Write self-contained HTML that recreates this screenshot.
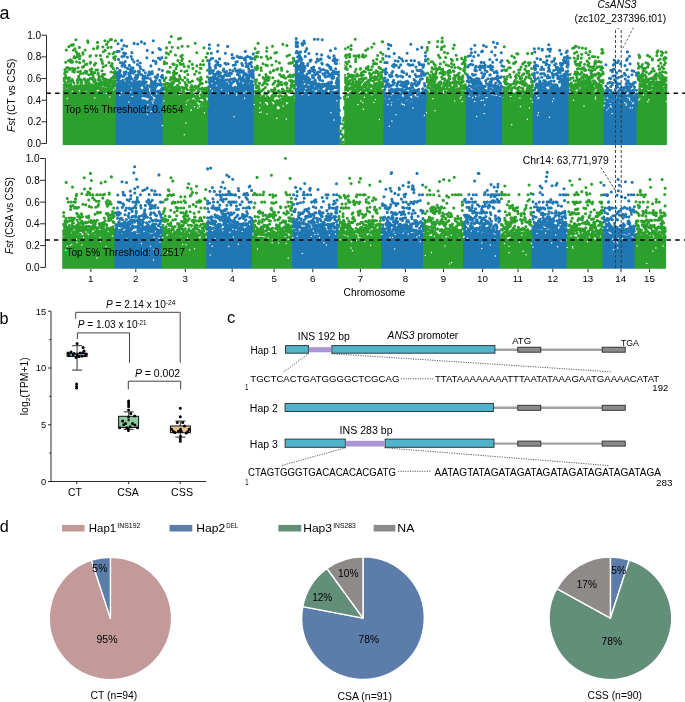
<!DOCTYPE html>
<html><head><meta charset="utf-8"><style>
html,body{margin:0;padding:0;background:#fff;}
body{width:685px;height:702px;overflow:hidden;}
svg{display:block;will-change:transform;font-family:"Liberation Sans", sans-serif;}
text{fill:#000;}
</style></head><body>
<svg width="685" height="702" viewBox="0 0 685 702">
<text x="-0.6" y="18.6" font-size="18" text-anchor="start" >a</text>
<polygon fill="#2ca02c" points="62.7,144.9 62.7,93.6 63.3,93.6 63.8,93.5 64.3,93.6 64.8,93.7 65.3,93.8 65.8,93.9 66.3,94 66.8,94 67.3,94 67.8,93.8 68.3,93.5 68.8,93 69.3,92.4 69.8,91.8 70.3,91.3 70.8,91 71.3,90.8 71.8,90.9 72.3,91.2 72.8,91.6 73.3,92.1 73.8,92.6 74.3,93.1 74.8,93.4 75.3,93.4 75.8,93.3 76.3,92.9 76.8,92.5 77.3,91.9 77.8,91.4 78.3,91 78.8,90.6 79.3,90.4 79.8,90.4 80.3,90.5 80.8,90.6 81.3,90.7 81.8,90.8 82.3,90.9 82.8,90.9 83.3,90.9 83.8,90.9 84.3,91 84.8,91.2 85.3,91.5 85.8,91.7 86.3,91.9 86.8,92 87.3,92 87.8,91.9 88.3,91.5 88.8,91.1 89.3,90.6 89.8,90.1 90.3,89.6 90.8,89.3 91.3,89.1 91.8,89.2 92.3,89.4 92.8,89.7 93.3,90.2 93.8,90.6 94.3,90.9 94.8,91.1 95.3,91.2 95.8,91 96.3,90.7 96.8,90.3 97.3,89.9 97.8,89.4 98.3,89 98.8,88.7 99.3,88.5 99.8,88.6 100.3,88.7 100.8,89 101.3,89.3 101.8,89.6 102.3,89.8 102.8,90 103.3,90 103.8,90 104.3,89.9 104.8,89.8 105.3,89.7 105.8,89.6 106.3,89.6 106.8,89.5 107.3,89.4 107.8,89.3 108.3,89 108.8,88.7 109.3,88.3 109.8,87.9 110.3,87.5 110.8,87.3 111.3,87.1 111.8,87 112.3,86.7 112.8,86.2 113.3,85.8 113.8,85.3 114.3,84.9 114.8,84.6 115.3,84.5 115.8,84.6 116.3,84.9 116.3,144.9"/>
<polygon fill="#1f77b4" points="115.7,144.9 115.7,87.9 116.3,87.9 116.8,87.8 117.3,87.6 117.8,87.2 118.3,86.7 118.8,86.2 119.3,85.8 119.8,85.5 120.3,85.5 120.8,85.6 121.3,85.8 121.8,86.1 122.3,86.4 122.8,86.8 123.3,87.1 123.8,87.3 124.3,87.4 124.8,87.5 125.3,87.6 125.8,87.8 126.3,88 126.8,88.1 127.3,88.3 127.8,88.4 128.3,88.5 128.8,88.5 129.3,88.6 129.8,88.6 130.3,88.6 130.8,88.7 131.3,88.7 131.8,88.7 132.3,88.8 132.8,88.7 133.3,88.3 133.8,87.8 134.3,87.2 134.8,86.6 135.3,86.1 135.8,85.8 136.3,85.7 136.8,85.9 137.3,86.3 137.8,87.7 138.3,89.5 138.8,91.3 139.3,93 139.8,94.5 140.3,95.9 140.8,96.9 141.3,97.9 141.8,98.9 142.3,99.5 142.8,99.3 143.3,99.2 143.8,99.1 144.3,99.2 144.8,99.3 145.3,99.6 145.8,99.8 146.3,100.2 146.8,100.5 147.3,100.7 147.8,101 148.3,101.1 148.8,101.2 149.3,101.3 149.8,101.3 150.3,101.4 150.8,101.4 151.3,101.5 151.8,101.5 152.3,101.6 152.8,101.6 153.3,101.5 153.8,101.2 154.3,100.8 154.8,100.5 155.3,100.2 155.8,100 156.3,100 156.8,100.1 157.3,100.1 157.8,100.1 158.3,100.1 158.8,100 159.3,100 159.8,100.1 160.3,100.1 160.8,100.4 161.3,100.9 161.8,101.5 162.3,102.2 162.8,103 163.3,103.6 163.3,144.9"/>
<polygon fill="#2ca02c" points="162.7,144.9 162.7,95.3 163.3,95.3 163.8,95.3 164.3,95.1 164.8,94.9 165.3,94.6 165.8,94.3 166.3,94.1 166.8,93.9 167.3,93.9 167.8,94 168.3,94 168.8,93.9 169.3,93.9 169.8,93.8 170.3,93.8 170.8,93.8 171.3,93.8 171.8,93.9 172.3,94 172.8,94.1 173.3,94.2 173.8,94.3 174.3,94.4 174.8,94.5 175.3,94.6 175.8,94.7 176.3,94.9 176.8,95.2 177.3,95.4 177.8,95.7 178.3,95.9 178.8,96.1 179.3,96.3 179.8,96.4 180.3,96.7 180.8,97 181.3,97.4 181.8,98.2 182.3,98.9 182.8,99.6 183.3,100.1 183.8,100.5 184.3,100.8 184.8,101 185.3,101.2 185.9,101.3 186.4,101.5 186.9,101.8 187.4,102.2 187.9,102.6 188.4,103 188.9,103.4 189.4,103.8 189.9,104.1 190.4,104.5 190.9,104.5 191.4,104.5 191.9,104.6 192.4,104.9 192.9,105.1 193.4,105.5 193.9,105.8 194.4,106.1 194.9,106.3 195.4,106.4 195.9,106.3 196.4,106.1 196.9,105.6 197.4,105.1 197.9,104.6 198.4,104.2 198.9,103.9 199.4,103.8 199.9,104 200.4,104.3 200.9,104.8 201.4,105.4 201.9,106 202.4,106.5 202.9,106.9 203.4,107 203.9,107.1 204.4,107 204.9,106.9 205.4,106.8 205.9,106.7 206.4,106.6 206.9,106.5 207.4,106.5 207.9,106.7 208.4,106.9 208.4,144.9"/>
<polygon fill="#1f77b4" points="207.8,144.9 207.8,85.3 208.4,85.3 208.9,85.5 209.4,85.6 209.9,85.8 210.4,85.9 210.9,86.1 211.4,86.3 211.9,86.4 212.4,86.6 212.9,86.6 213.4,86.6 213.9,86.5 214.4,86.3 214.9,86.1 215.4,86 215.9,86 216.5,86 217,86.2 217.5,86.6 218,86.9 218.5,87.4 219,87.8 219.5,88.2 220,88.5 220.5,88.7 221,88.9 221.5,89.3 222,89.8 222.5,90.4 223,90.9 223.5,91.4 224,91.8 224.5,92 225,92.2 225.5,92.3 226,92.5 226.5,92.6 227,92.8 227.5,92.9 228,93 228.5,93.2 229,93.4 229.5,93.6 230,93.8 230.5,94.1 231,94.3 231.6,94.3 232.1,94.1 232.6,93.8 233.1,93.6 233.6,93.4 234.1,93.2 234.6,93 235.1,92.8 235.6,92.6 236.1,92.4 236.6,92.2 237.1,91.7 237.6,91 238.1,90 238.6,89 239.1,88 239.6,87 240.1,86.3 240.6,85.8 241.1,85.5 241.6,85.2 242.1,84.9 242.6,84.5 243.1,84.2 243.6,83.8 244.1,83.5 244.6,83.2 245.1,83 245.6,83.1 246.1,83.3 246.7,83.5 247.2,83.8 247.7,84 248.2,84 248.7,83.8 249.2,83.6 249.7,83.4 250.2,83.2 250.7,83 251.2,82.8 251.7,82.6 252.2,82.4 252.7,82.2 253.2,81.8 253.7,81.2 254.2,80.5 254.2,144.9"/>
<polygon fill="#2ca02c" points="253.6,144.9 253.6,97.3 254.2,97.3 254.7,97.6 255.2,97.8 255.7,98 256.2,98.1 256.7,98.3 257.2,98.5 257.7,98.7 258.2,99 258.7,99.5 259.2,100.2 259.7,101.1 260.2,102 260.7,102.9 261.2,103.8 261.7,104.5 262.2,105 262.7,105.2 263.2,105 263.7,104.7 264.2,104.2 264.7,103.8 265.2,103.4 265.7,103.3 266.2,103.4 266.7,103.9 267.2,104.4 267.7,105.2 268.2,106.1 268.7,106.9 269.2,107.7 269.7,108.3 270.2,108.6 270.7,108.5 271.2,108.3 271.7,107.9 272.2,107.5 272.7,107.1 273.2,106.7 273.7,106.5 274.2,106.4 274.8,106.6 275.3,107 275.8,107.4 276.3,107.9 276.8,108.4 277.3,108.9 277.8,109.2 278.3,109.4 278.8,109.3 279.3,108.7 279.8,107.9 280.3,106.9 280.8,106 281.3,105.2 281.8,104.5 282.3,104.1 282.8,104 283.3,104 283.8,104.2 284.3,104.3 284.8,104.5 285.3,104.6 285.8,104.6 286.3,104.5 286.8,104.2 287.3,103.9 287.8,103.5 288.3,103.1 288.8,102.6 289.3,102.2 289.8,101.9 290.3,101.6 290.8,101.5 291.3,101.5 291.8,101.5 292.3,101.6 292.8,101.7 293.3,101.8 293.8,101.8 294.3,101.7 294.8,101.4 295.3,101.1 295.3,144.9"/>
<polygon fill="#1f77b4" points="294.7,144.9 294.7,65.7 295.3,65.7 295.8,66.3 296.3,66.9 296.8,67.4 297.3,68 297.8,68.6 298.3,69.2 298.8,69.7 299.3,70.3 299.8,71 300.3,71.6 300.8,72.5 301.3,74 301.8,75.5 302.3,77 302.8,78.5 303.3,80 303.8,81.5 304.3,82.8 304.8,84.2 305.3,85.5 305.8,86.8 306.3,88.1 306.8,88.4 307.3,88.5 307.8,88.7 308.3,88.8 308.8,88.8 309.3,88.9 309.8,88.9 310.3,89 310.8,89.1 311.3,89.2 311.8,89.4 312.3,89.7 312.8,90 313.3,90.4 313.8,90.8 314.3,91.1 314.8,91.4 315.3,91.6 315.8,91.8 316.3,92 316.8,92.3 317.3,92.6 317.9,92.9 318.4,93.1 318.9,93.3 319.4,93.5 319.9,93.7 320.4,93.9 320.9,94.1 321.4,94.4 321.9,94.6 322.4,94.8 322.9,95 323.4,95 323.9,95.1 324.4,95.2 324.9,95.3 325.4,95.4 325.9,95.5 326.4,95.6 326.9,95.6 327.4,95.7 327.9,95.6 328.4,95.3 328.9,94.8 329.4,94.2 329.9,93.7 330.4,93.2 330.9,92.8 331.4,92.7 331.9,92.8 332.4,92.8 332.9,92.8 333.4,92.8 333.9,92.7 334.4,92.7 334.9,92.7 335.4,92.8 335.9,93 336.4,93.4 336.9,93.9 337.4,94.5 337.9,95.1 338.4,95.7 338.9,96.1 339.4,96.3 339.9,96.3 339.9,144.9"/>
<polygon fill="#2ca02c" points="339.3,144.9 339.3,91.9 339.9,91.9 340.4,91.9 340.9,92.2 341.4,92.5 341.9,93 342.4,93.4 342.9,93.7 343.4,94 343.9,94.1 344.4,94 344.9,94 345.4,93.9 345.9,93.8 346.4,93.7 346.9,93.6 347.4,93.5 347.9,93.5 348.4,93.4 348.9,93 349.4,92.5 349.9,92 350.4,91.4 350.9,91 351.4,90.6 351.9,90.5 352.4,90.5 352.9,90.6 353.4,90.6 353.9,90.7 354.4,90.8 354.9,90.9 355.4,90.9 355.9,91 356.4,91 356.9,91.3 357.4,91.6 357.9,92 358.4,92.3 358.9,92.6 359.4,92.9 359.9,93 360.4,93 360.9,93 361.4,93 361.9,93 362.4,93.1 362.9,93.2 363.4,93.3 363.9,93.3 364.4,93.3 364.9,93.1 365.4,92.9 365.9,92.5 366.4,92.2 366.9,91.9 367.4,91.7 367.9,91.7 368.4,91.9 368.9,92.3 369.4,92.9 369.9,93.6 370.4,94.2 370.9,94.8 371.4,95.2 371.9,95.4 372.4,95.3 372.9,94.9 373.4,94.4 373.9,93.8 374.4,93.1 374.9,92.6 375.4,92.2 375.9,92.1 376.4,92.2 376.9,92.2 377.4,92.3 377.9,92.3 378.4,92.4 378.9,92.4 379.4,92.5 379.9,92.5 380.4,92.6 380.9,92.6 381.4,92.6 381.9,92.6 382.4,92.5 382.9,92.5 383.4,92.5 383.9,92.6 383.9,144.9"/>
<polygon fill="#1f77b4" points="383.3,144.9 383.3,98 383.9,98 384.4,98.2 384.9,98.6 385.4,99.2 385.9,99.9 386.4,100.5 386.9,101.1 387.4,101.5 387.9,101.7 388.4,101.7 388.9,101.9 389.4,102.1 389.9,102.3 390.4,102.5 390.9,102.7 391.4,102.8 391.9,102.9 392.4,102.6 392.9,102 393.4,101.2 393.9,100.2 394.4,99.2 394.9,98.3 395.4,97.7 395.9,97.5 396.4,97.7 396.9,98.2 397.4,98.9 397.9,99.6 398.4,100.4 398.9,101.1 399.4,101.6 399.9,101.8 400.4,101.7 400.9,101.5 401.4,101.2 401.9,100.9 402.4,100.6 402.9,100.3 403.4,100.1 403.9,100 404.4,100 404.9,100.2 405.4,100.3 405.9,100.5 406.4,100.6 406.9,100.8 407.4,100.9 407.9,100.9 408.4,101 408.9,101 409.4,101.1 409.9,101.2 410.4,101.3 410.9,101.4 411.4,101.5 411.9,101.5 412.4,101.5 412.9,101.6 413.4,101.6 413.9,101.7 414.4,101.8 414.9,101.9 415.4,101.9 415.9,102 416.4,101.8 416.9,101.5 417.4,101 417.9,100.5 418.4,100 418.9,99.5 419.4,99.2 419.9,99.1 420.4,99.2 420.9,99.5 421.4,100 421.9,100.5 422.4,101.1 422.9,101.5 423.4,101.9 423.9,102 424.4,101.8 424.9,101.4 425.4,100.7 425.9,100 426.4,99.2 426.4,144.9"/>
<polygon fill="#2ca02c" points="425.8,144.9 425.8,89.6 426.4,89.6 426.9,89.7 427.4,89.7 427.9,89.7 428.4,89.6 428.9,89.6 429.4,89.6 429.9,89.6 430.4,89.6 430.9,89.7 431.4,89.6 431.9,89.4 432.4,89.2 432.9,89 433.5,88.8 434,88.7 434.5,88.7 435,88.9 435.5,89.4 436,90 436.5,90.7 437,91.4 437.5,92 438,92.4 438.5,92.6 439,92.7 439.5,92.8 440,92.9 440.5,93 441,93 441.5,93.1 442,93.2 442.5,93.3 443,93.4 443.5,93.6 444,93.8 444.5,94 445,94.3 445.5,94.5 446,94.7 446.6,94.8 447.1,94.7 447.6,94.5 448.1,94.3 448.6,93.9 449.1,93.6 449.6,93.3 450.1,93.1 450.6,93.1 451.1,93 451.6,92.9 452.1,92.8 452.6,92.6 453.1,92.3 453.6,92.2 454.1,92.1 454.6,92.1 455.1,92.2 455.6,92.7 456.1,93.3 456.6,93.9 457.1,94.6 457.6,95.2 458.1,95.6 458.6,95.8 459.1,95.8 459.7,95.7 460.2,95.5 460.7,95.3 461.2,95.1 461.7,94.9 462.2,94.8 462.7,94.7 463.2,94.7 463.7,94.4 464.2,94 464.7,93.5 465.2,93 465.7,92.5 466.2,92.2 466.2,144.9"/>
<polygon fill="#1f77b4" points="465.6,144.9 465.6,93.6 466.2,93.6 466.7,93.6 467.2,93.6 467.7,93.6 468.2,93.7 468.7,93.7 469.2,93.7 469.7,93.7 470.2,93.7 470.7,93.7 471.2,93.7 471.7,93.6 472.2,93.5 472.7,93.3 473.2,93.2 473.7,93.2 474.2,93.2 474.7,93.3 475.2,93.7 475.7,94.2 476.2,94.8 476.7,95.4 477.2,95.9 477.7,96.3 478.2,96.5 478.7,96.4 479.2,96.2 479.7,95.8 480.2,95.3 480.7,94.9 481.2,94.5 481.7,94.2 482.2,94.1 482.7,94.3 483.2,94.8 483.7,95.5 484.2,96.3 484.8,97.1 485.3,97.7 485.8,98.2 486.3,98.4 486.8,98.3 487.3,97.9 487.8,97.4 488.3,96.7 488.8,96.1 489.3,95.5 489.8,95.1 490.3,95 490.8,95 491.3,95.1 491.8,95.1 492.3,95.2 492.8,95.2 493.3,95.2 493.8,95.3 494.3,95.3 494.8,95.4 495.3,95.5 495.8,95.6 496.3,95.8 496.8,95.9 497.3,96 497.8,96.1 498.3,96.2 498.8,96.3 499.3,96.5 499.8,96.7 500.3,96.9 500.8,97.1 501.3,97.3 501.8,97.5 502.3,97.6 502.8,97.5 502.8,144.9"/>
<polygon fill="#2ca02c" points="502.2,144.9 502.2,97.9 502.8,97.9 503.3,97.8 503.8,97.7 504.3,97.5 504.8,97.4 505.3,97.3 505.8,97.1 506.3,97 506.8,96.9 507.3,97 507.8,97.4 508.3,98 508.8,98.7 509.3,99.4 509.8,100 510.3,100.4 510.8,100.5 511.3,100.4 511.8,100.4 512.3,100.4 512.8,100.4 513.3,100.4 513.8,100.4 514.3,100.4 514.8,100.3 515.3,100.1 515.8,99.9 516.3,99.6 516.8,99.3 517.3,99 517.8,98.7 518.4,98.5 518.9,98.3 519.4,98.1 519.9,97.6 520.4,97 520.9,96.4 521.4,95.7 521.9,95.1 522.4,94.6 522.9,94.4 523.4,94.4 523.9,94.5 524.4,94.8 524.9,95.1 525.4,95.5 525.9,95.7 526.4,95.9 526.9,95.9 527.4,95.8 527.9,95.7 528.4,95.7 528.9,95.6 529.4,95.6 529.9,95.5 530.4,95.5 530.9,95.4 531.4,95.1 531.9,94.6 532.4,94 532.9,93.2 533.4,92.5 533.4,144.9"/>
<polygon fill="#1f77b4" points="532.8,144.9 532.8,93.5 533.4,93.5 533.9,93.5 534.4,93.8 534.9,94.1 535.4,94.6 535.9,95.1 536.4,95.5 536.9,95.7 537.4,95.7 537.9,95.5 538.4,95.2 538.9,94.7 539.4,94.2 539.9,93.7 540.4,93.2 540.9,92.9 541.4,92.7 541.9,92.7 542.4,92.9 542.9,93.3 543.4,93.7 543.9,94.2 544.4,94.5 544.9,94.7 545.4,94.8 545.9,94.7 546.4,94.5 546.9,94.4 547.4,94.3 547.9,94.2 548.4,94.1 548.9,94 549.4,93.9 549.9,93.7 550.4,93.5 550.9,93.3 551.5,93 552,92.8 552.5,92.6 553,92.4 553.5,92.2 554,92 554.5,91.6 555,91.1 555.5,90.5 556,89.9 556.5,89.3 557,88.9 557.5,88.7 558,88.6 558.5,88.4 559,87.9 559.5,87.3 560,86.8 560.5,86.3 561,85.8 561.5,85.2 562,84.6 562.5,83.8 563,82.9 563.5,82 564,81 564.5,80.1 565,79.3 565.5,78.7 566,78.2 566.5,77.9 567,77.6 567.5,77.4 568,77.1 568.5,76.8 569,76.5 569,144.9"/>
<polygon fill="#2ca02c" points="568.4,144.9 568.4,99.7 569,99.7 569.5,99.1 570,98.4 570.5,97.6 571,96.8 571.5,95.9 572,95.1 572.5,94.4 573,93.8 573.5,93.4 574,93 574.5,92.8 575,92.5 575.5,92.3 576,92 576.5,91.6 577,91.2 577.5,90.7 578,90.1 578.5,89.4 579,88.8 579.5,88.2 580,87.8 580.5,87.5 581,87.2 581.5,87 582,86.9 582.5,86.8 583,86.7 583.5,86.7 584,86.6 584.5,86.5 585,86.3 585.5,86 586,85.8 586.5,85.5 587,85.3 587.5,85 588,84.8 588.5,84.6 589,84.3 589.5,84 590,83.6 590.5,83.7 591,83.8 591.5,83.9 592,84.1 592.5,84.3 593,84.6 593.5,85.1 594,85.9 594.5,86.8 595,87.9 595.5,88.9 596,89.8 596.5,90.6 597,91.1 597.5,91.3 598,91.3 598.5,91.1 599,90.8 599.5,90.5 600,90.2 600.5,90.2 601,90.4 601.5,91 602,91.8 602.5,92.8 603,93.9 603.5,95.1 604,96.1 604,144.9"/>
<polygon fill="#1f77b4" points="603.4,144.9 603.4,113.6 604,113.6 604.5,113 605,112.5 605.5,112 606,111.5 606.5,111.1 607,110.6 607.5,110.1 608,109.5 608.5,108.8 609,108 609.5,107.2 610.1,106.4 610.6,105.6 611.1,104.8 611.6,104.1 612.1,103.4 612.6,102.9 613.1,102.6 613.6,102.3 614.1,101.9 614.6,101.5 615.1,101.1 615.6,100.8 616.1,100.7 616.6,100.7 617.1,101 617.6,101.5 618.1,102 618.6,102.6 619.1,103.1 619.6,103.4 620.1,103.4 620.6,103.1 621.2,102.7 621.7,102.2 622.2,101.5 622.7,100.9 623.2,100.3 623.7,100 624.2,99.9 624.7,100 625.2,100.4 625.7,101 626.2,101.6 626.7,102.2 627.2,102.7 627.7,103.1 628.2,103.3 628.7,103.4 629.2,103.5 629.7,103.6 630.2,103.7 630.7,103.8 631.2,103.9 631.8,104 632.3,104.1 632.8,104.2 633.3,104.4 633.8,104.7 634.3,105 634.8,105.2 635.3,105.5 635.8,105.7 636.3,105.8 636.8,105.9 637.3,105.9 637.3,144.9"/>
<polygon fill="#2ca02c" points="636.7,144.9 636.7,90.6 637.3,90.6 637.8,90.6 638.3,90.7 638.8,90.8 639.3,90.9 639.8,91 640.3,91.1 640.8,91.1 641.3,91.2 641.8,91 642.3,90.7 642.8,90.3 643.3,89.8 643.8,89.3 644.3,88.9 644.8,88.6 645.3,88.4 645.8,88.6 646.3,88.9 646.8,89.3 647.3,89.8 647.8,90.3 648.3,90.7 648.8,91 649.3,91.2 649.8,91.1 650.3,90.9 650.8,90.6 651.3,90.3 651.8,90 652.4,89.7 652.9,89.5 653.4,89.5 653.9,89.6 654.4,89.9 654.9,90.3 655.4,90.8 655.9,91.3 656.4,91.8 656.9,92.1 657.4,92.2 657.9,92.1 658.4,91.9 658.9,91.6 659.4,91.2 659.9,90.8 660.4,90.5 660.9,90.3 661.4,90.2 661.9,90.3 662.4,90.4 662.9,90.7 663.4,90.9 663.9,91.2 664.4,91.4 664.9,91.6 665.4,91.7 665.9,91.5 666.4,91.1 666.9,90.6 666.9,144.9"/>
<path stroke="#2ca02c" stroke-width="3.1" stroke-linecap="round" fill="none" d="M64.2 78.6h0M64.2 80.5h0M64.2 92.8h0M64.2 91.2h0M64.2 87.9h0M64.2 90.5h0M64.2 78.1h0M64.2 92.6h0M64.4 90.1h0M64.2 85.1h0M64.3 80.2h0M64.9 69.7h0M64.8 89.4h0M65 82.4h0M64.7 73.8h0M65.3 91.9h0M65.1 72.3h0M65.1 83.6h0M65.8 72h0M65.7 62.3h0M65.8 75.9h0M66.5 84.7h0M66.3 50.1h0M66.1 77.4h0M67 78.2h0M66.7 67.9h0M66.9 86.6h0M67.1 84.6h0M67.1 92.1h0M67.1 71.8h0M67.2 89.7h0M67.8 92.5h0M68 81.7h0M68 67.9h0M68.2 85.3h0M68.5 60.8h0M68.1 91h0M68.2 89.5h0M68.7 79.5h0M68.8 92.9h0M68.8 86h0M68.9 46.6h0M69.4 77.8h0M69.5 91.6h0M69.5 69.4h0M69.2 68.2h0M69.9 90.2h0M69.6 90.9h0M69.6 88.3h0M69.6 85.5h0M70.1 88.9h0M70.1 84.5h0M70.4 59.9h0M70.2 88.9h0M70.6 84.1h0M71 62.3h0M70.8 81.5h0M70.6 89.6h0M71.5 86.1h0M71.1 88.1h0M71.3 45.1h0M71.3 88.4h0M72 79.5h0M71.9 60.7h0M71.7 86.3h0M71.9 88.1h0M72.2 68.3h0M72.5 87.3h0M72.5 62.1h0M72.7 71.2h0M72.7 80.6h0M72.6 91.2h0M73.4 87.6h0M73.3 44.6h0M73.5 50.2h0M73.2 45.1h0M73.6 88.7h0M73.9 89.2h0M74 57.7h0M73.9 82.7h0M74.4 91.7h0M74.4 56.6h0M74.3 72h0M74.7 69.8h0M75 68.9h0M74.8 85.7h0M74.9 48.9h0M75.1 91.4h0M75.5 57.8h0M75.5 91h0M75.8 86.7h0M75.6 91.1h0M75.9 39.7h0M76.3 51.8h0M76.5 61.8h0M76.2 89.3h0M76.2 87.7h0M76.8 87.9h0M77 90.3h0M76.8 85.8h0M77.3 56.4h0M77.3 54.1h0M77.3 80.4h0M77.6 82.6h0M77.9 91.4h0M77.8 88.6h0M77.8 71.8h0M78.3 79.9h0M78.1 67.7h0M78.2 78.5h0M78.4 86h0M78.9 78.1h0M78.8 53.7h0M78.8 76.2h0M78.9 79.7h0M79.3 78.9h0M79.4 47.4h0M79.5 58.7h0M79.3 85.9h0M79.6 62.6h0M79.8 88.5h0M79.7 89.3h0M80.4 73.7h0M80.1 56h0M80.4 71.4h0M80.5 88.1h0M81 86.8h0M80.8 82.8h0M81.3 88h0M81.2 79.7h0M81.2 87.4h0M81.8 90.5h0M81.6 82h0M81.9 84.7h0M82.5 89.8h0M82.5 67.3h0M82.2 89.2h0M82.4 90.2h0M82.8 88.8h0M83 54.1h0M82.6 86.4h0M82.8 52.8h0M83.1 89.5h0M83.3 73.2h0M83.5 89.7h0M83.6 66.4h0M83.6 61.5h0M83.8 60.8h0M84.5 78.8h0M84.1 86.3h0M84.2 79.7h0M84.1 89.3h0M84.7 87.8h0M84.9 85.7h0M84.8 86h0M84.7 88.2h0M85.1 87.1h0M85.3 71.4h0M85.3 88.3h0M85.1 50.1h0M85.8 83.1h0M85.7 64.4h0M85.9 81h0M86.5 85.5h0M86.4 73.3h0M86.2 84h0M86.6 89.9h0M86.7 71.6h0M86.6 89.3h0M87 64.1h0M87.2 87h0M87.3 86.8h0M87.3 89.5h0M88 42.4h0M87.7 79.9h0M87.7 40.8h0M87.6 85.2h0M88.3 81.8h0M88.3 88.1h0M88.2 91.5h0M88.2 90.1h0M88.7 90.8h0M88.8 87.1h0M88.9 79.7h0M88.9 74.8h0M89.2 83.1h0M89.4 88.1h0M90 89.4h0M89.9 56.3h0M90 70h0M90.3 78.4h0M90.5 62.3h0M90.3 63.1h0M90.4 55.8h0M90.6 85.3h0M90.7 87.1h0M91 87.6h0M91.4 74.1h0M91.3 71.8h0M91.4 89.1h0M91.8 78.6h0M91.6 72.8h0M91.7 68.9h0M92.4 84.7h0M92.4 85.9h0M92.2 79.1h0M92.9 72.3h0M92.9 75.2h0M92.6 88.5h0M92.9 85.3h0M93.1 77.4h0M93.2 89.2h0M93.4 73.3h0M93.2 73.1h0M93.8 81.1h0M94 88.6h0M94 87.2h0M93.6 48.8h0M94.5 64.9h0M94.2 81.9h0M94.5 87.3h0M94.3 87.3h0M95 79.9h0M95 89h0M95 80.4h0M94.7 72.7h0M95.1 81.1h0M95.3 91.1h0M95.2 82.1h0M95.7 84.6h0M95.6 63.2h0M96 70h0M96 89.1h0M96.2 55.6h0M96.2 83.7h0M96.8 83.5h0M96.6 85.4h0M97 88.7h0M97.2 48.3h0M97.3 85.2h0M97.2 86.7h0M97.5 42.4h0M98 74.3h0M97.8 46.6h0M97.6 70.1h0M98.4 79.9h0M98.2 73.3h0M98.5 88.2h0M98.7 79h0M98.9 83.3h0M98.9 84.1h0M99.2 76.2h0M99.1 85.8h0M99.5 85h0M99.2 78.1h0M99.6 79.5h0M99.6 85.3h0M100.2 87.3h0M100.3 84.2h0M100.4 55.6h0M100.3 80.7h0M100.7 81.8h0M100.7 88h0M100.8 86.9h0M101.2 59.2h0M101.2 84.5h0M101.3 81.5h0M102 61h0M101.6 89.3h0M102 70.8h0M102.1 76.4h0M102.5 82.3h0M102.5 63.4h0M102.6 88.3h0M102.9 78.8h0M102.9 47h0M102.9 74.2h0M103.1 77.9h0M103.2 66.9h0M103.4 51.7h0M103.1 84.5h0M103.9 74.6h0M103.6 88.2h0M103.8 78.7h0M103.7 82.5h0M104.2 89.7h0M104.5 80.5h0M104.5 74.2h0M104.7 85.7h0M104.9 40.8h0M104.6 84.2h0M104.9 79.3h0M105.4 85.2h0M105.2 50.4h0M105.2 89.2h0M105.4 81.4h0M105.9 65.5h0M105.7 79h0M106 84h0M106.4 85.8h0M106.5 84.3h0M106.1 79.2h0M106.3 85.7h0M106.6 44.4h0M106.7 81.9h0M107.1 88.6h0M107.5 81.8h0M107.4 56.8h0M107.6 83.2h0M107.9 47.6h0M107.9 88.8h0M108.2 81.9h0M108.1 86.2h0M108.2 84h0M108.1 41.8h0M108.7 85.1h0M109 62.5h0M108.6 80.1h0M109.5 81.2h0M109.2 85h0M109.1 53.8h0M109.5 80.3h0M109.6 87.2h0M110 86.9h0M109.9 83.4h0M110.2 81.2h0M110.4 39.6h0M110.4 82.9h0M110.6 82.4h0M111 65.9h0M111 72h0M110.7 86.9h0M111.5 39.5h0M111.2 79.7h0M111.3 78.6h0M111.1 47.2h0M112 66.6h0M111.9 64.5h0M111.7 80.9h0M112.1 63.5h0M112.4 83.3h0M112.1 82.4h0M112.3 86.1h0M113 53.7h0M112.6 81.6h0M112.8 84.7h0M113.2 76.8h0M113.4 77.6h0M113.4 68.8h0M113.6 68.8h0M113.7 57.5h0M113.7 72.6h0M114.2 81.5h0M114.1 80.6h0M114.3 52.2h0M115 77h0M114.7 73.9h0M114.9 59.6h0M115.4 74.7h0M115.4 56.6h0M115.2 83.8h0M115.1 82.5h0M115.4 71.3h0M115.4 77.5h0M115.4 75.5h0M115.4 40.8h0M115.4 71.2h0M115.4 81.2h0M164.2 93.7h0M164.2 89.7h0M164.2 88h0M164.2 63.7h0M164.2 84.2h0M164.2 87.7h0M164.2 93.9h0M164.4 89.8h0M164.2 93.5h0M164.3 61.9h0M164.2 80.8h0M164.6 89.6h0M164.8 85.3h0M164.6 79.6h0M165.6 87.9h0M165.1 86.9h0M165.2 94h0M166 83.5h0M166 57.7h0M166 77.7h0M166.2 92.5h0M166.1 89.8h0M166.3 52.9h0M166.7 63.2h0M166.9 89.6h0M167 90.9h0M166.6 47.9h0M167.5 93.5h0M167.3 89.1h0M167.4 72.1h0M167.1 83.2h0M167.7 93.9h0M167.9 71.6h0M167.9 84.5h0M167.7 83.7h0M168.3 86.4h0M168.5 84.5h0M168.5 54.1h0M168.5 83.7h0M169 91.2h0M168.9 92.6h0M168.9 86.4h0M169.5 42.4h0M169.1 86h0M169.6 92.6h0M169.6 89.5h0M169.7 86.4h0M169.7 72.2h0M170 84.1h0M170.3 91.1h0M170.1 89.2h0M170.2 80h0M170.2 67.3h0M170.8 83.9h0M170.8 91.1h0M171 77.6h0M170.8 51.6h0M171.4 91.8h0M171.3 36.5h0M171.2 88.9h0M171.8 85.9h0M172 91h0M171.9 91.4h0M172.3 82.5h0M172.5 84.5h0M172.2 47.3h0M172.1 86.8h0M172.7 88.8h0M172.8 64h0M172.7 89.8h0M173 79.2h0M173.5 72.9h0M173.1 91.1h0M173.4 76.2h0M173.6 88.3h0M173.8 75.1h0M174 64.4h0M173.7 82.4h0M174.5 77.8h0M174.3 92.8h0M174.1 71h0M174.2 76.6h0M174.9 93.9h0M175 80.6h0M175 87.3h0M175.3 93.4h0M175.5 90h0M175.5 55h0M176 80.8h0M175.6 89.1h0M175.8 73.4h0M176.1 68.4h0M176.1 90.4h0M176.2 79.2h0M176.4 88.8h0M177 94.8h0M176.7 73.3h0M176.9 65.6h0M177.3 91h0M177.1 88.4h0M177.2 92.2h0M177.4 85.3h0M177.6 93.8h0M177.9 60.6h0M177.7 91.5h0M178.3 85.9h0M178.1 47.8h0M178.4 79.6h0M178.6 81.1h0M178.6 38.9h0M178.8 88.8h0M179.5 75.8h0M179.6 82.8h0M179.3 90h0M179.7 90h0M179.8 77.9h0M179.9 63.2h0M179.6 96.2h0M180.2 90.3h0M180.2 78.7h0M180.3 87.8h0M181.1 96.3h0M180.6 38.2h0M180.9 64.4h0M180.9 56.4h0M181.1 70.8h0M181.2 95.7h0M181.2 97.2h0M181.8 96.2h0M181.6 95.2h0M182.1 46.3h0M181.6 60.6h0M182.3 55.3h0M182.5 87.3h0M182.4 58.8h0M182.5 93.7h0M182.8 94.1h0M182.7 80.3h0M182.9 91.7h0M183.2 64h0M183.5 89.6h0M183.3 99.6h0M183.4 96.7h0M184.1 92.3h0M184.1 97.7h0M183.8 94.2h0M184.2 66.6h0M184.1 99.9h0M184.4 87.8h0M184.4 93.9h0M184.8 71.8h0M184.9 77.6h0M185.1 82.6h0M185.2 83.2h0M185.4 97.5h0M185.5 95.9h0M185.5 99.5h0M185.9 96.2h0M186 85.1h0M186.3 99.7h0M186.2 88.5h0M186.6 93.3h0M186.5 98.9h0M186.7 86h0M186.9 70.8h0M186.8 96.3h0M186.9 94.7h0M187.1 85.2h0M187.6 79.9h0M187.3 94.4h0M187.5 89.7h0M187.7 94.9h0M187.8 74.6h0M187.9 46.2h0M187.8 98.1h0M188.6 67h0M188.2 102.6h0M188.3 66.3h0M188.9 97.3h0M189 94.1h0M188.8 82.3h0M188.6 93.3h0M189.1 94h0M189.2 102.6h0M189.4 95.2h0M189.7 61.3h0M189.8 100.7h0M190 95.8h0M190.5 90.1h0M190.2 82.2h0M190.3 97.2h0M190.7 98.4h0M190.8 87.2h0M191.1 97.7h0M191.1 92.9h0M191.5 92.5h0M191.6 100.7h0M191.1 95.9h0M191.9 102.8h0M192 88.4h0M191.6 85.5h0M192 104.6h0M192.3 64.4h0M192.1 103.2h0M192.2 104.4h0M192.4 81.1h0M192.9 68.4h0M192.7 102.6h0M192.7 90.2h0M193.1 93.9h0M193.6 104.2h0M193.4 94.5h0M193.5 96.3h0M193.9 87h0M193.7 103.3h0M193.6 100.6h0M194.6 74.2h0M194.2 105h0M194.1 90.2h0M194.3 102h0M194.6 105.6h0M194.7 101.9h0M194.9 103.5h0M195.6 106.3h0M195.3 96.5h0M195.6 101.7h0M195.2 43.2h0M195.9 88.1h0M195.8 97.7h0M195.6 86.1h0M196.2 104.6h0M196.1 98.3h0M196.3 71.3h0M197.1 99h0M197 99h0M196.8 52.8h0M196.9 65.9h0M197.3 94.9h0M197.3 95.8h0M197.5 104.7h0M197.2 100.6h0M198 91.8h0M197.9 91.4h0M197.7 78.9h0M197.7 97.1h0M198.4 88h0M198.4 98.4h0M198.6 100.4h0M198.6 85.9h0M198.8 89.1h0M198.8 91.4h0M199.5 101.6h0M199.2 85.4h0M199.5 72.8h0M199.1 80.3h0M199.6 101.4h0M200 83.8h0M199.7 79.7h0M200.2 68.3h0M200.5 64.5h0M200.2 81.3h0M200.2 83.7h0M200.8 77.3h0M201.1 97.7h0M200.9 94.7h0M201.1 88.8h0M201.3 102.3h0M201.5 79.3h0M201.1 68.5h0M202.1 95.9h0M202.1 97.7h0M201.8 104.3h0M202.2 91.2h0M202.3 88.1h0M202.4 91.3h0M202.2 83.5h0M203 93.8h0M202.9 60.7h0M202.9 102.7h0M203.5 64.8h0M203.6 93.1h0M203.5 105.1h0M203.6 89.7h0M204 92.8h0M204 47.7h0M203.8 106.4h0M204.6 100.1h0M204.5 98.2h0M204.9 102.9h0M205.1 99.9h0M204.8 97.4h0M205 95.5h0M205.4 90.8h0M205.2 88.4h0M205.6 88.6h0M205.7 95.7h0M206.1 57.2h0M205.7 93.4h0M206.3 81.9h0M206.6 101.7h0M206.3 103.6h0M206.5 105h0M206.9 87.7h0M207 95.8h0M207 106.4h0M207 104.2h0M207.5 104.2h0M207.3 92.1h0M207.2 90.4h0M207.5 60.6h0M207.5 103.9h0M207.5 76.9h0M207.5 102.9h0M207.5 96.1h0M207.5 70.2h0M207.5 105h0M207.5 53.4h0M255.1 91.6h0M255.1 67.7h0M255.1 56.7h0M255.1 96h0M255.1 48.6h0M255.1 80.1h0M255.1 59.2h0M255.3 96.9h0M255.4 97.1h0M255.1 92.2h0M255.1 83.6h0M255.9 95.3h0M255.9 91.6h0M255.9 95.3h0M256.1 97.6h0M256.1 81.5h0M256 85.3h0M256.3 88h0M256.5 79.8h0M256.5 69.6h0M257 56.6h0M256.7 52.7h0M257.3 91.5h0M257.4 87.3h0M257.2 96.9h0M257.3 66.1h0M257.5 97.2h0M257.9 93.6h0M257.6 68.4h0M257.5 56.7h0M258.1 43.4h0M258.3 52.1h0M258.1 98.2h0M258.8 94.9h0M258.9 96.3h0M258.5 93.7h0M258.5 86.2h0M259.3 75h0M259 90.1h0M259 88.5h0M259 83.3h0M259.7 94h0M259.5 83.4h0M259.9 98h0M259.9 94.5h0M260 91.4h0M260.4 100.4h0M260.2 100h0M260.7 100.9h0M260.7 100h0M260.6 91.5h0M260.7 99.4h0M261.1 101.6h0M261.2 70.5h0M261 67.9h0M261.2 57.2h0M261.8 90.8h0M261.8 100.3h0M261.6 101.8h0M262.2 96.9h0M262.4 99.4h0M262.3 103.6h0M262.3 100.7h0M262.5 85h0M262.8 100.6h0M263.3 89.4h0M263.1 77.6h0M263.2 78h0M263 63.8h0M263.7 96h0M263.6 103.2h0M263.8 83.2h0M264 97.4h0M264.1 100.6h0M264.5 97.7h0M264.7 93.1h0M264.9 79.2h0M264.8 81.1h0M265.4 87.5h0M265 78.3h0M265.2 82.9h0M265.5 100.5h0M265.5 81h0M265.9 74.6h0M265.9 65.1h0M266.3 77.1h0M266.4 94.1h0M266.4 78.5h0M266.7 51.2h0M266.5 56.5h0M266.9 47.7h0M266.9 99.1h0M267.2 100.8h0M267.2 100h0M267.3 65.6h0M267.2 84.3h0M267.8 79.6h0M267.9 59h0M267.5 96.7h0M268.2 76.7h0M268.4 91.4h0M268 80.5h0M268.5 106.7h0M268.7 79.8h0M268.7 91.9h0M268.6 100.3h0M269.3 77.5h0M269 102.1h0M269.3 102.6h0M269.3 98.2h0M269.8 106.2h0M269.9 107.6h0M269.6 105h0M270.1 101.3h0M270.3 72.7h0M270.2 72.1h0M270.7 57.9h0M270.9 105.1h0M270.8 105.7h0M271.5 105.2h0M271.4 98.4h0M271.2 103.6h0M271.3 106.6h0M271.7 96.2h0M271.9 65h0M271.5 90.1h0M272.5 98h0M272.3 100.2h0M272.2 91.3h0M272.3 95.5h0M272.7 95.9h0M272.5 46.3h0M272.8 77.8h0M273.4 97.1h0M273.4 70.7h0M273 84.2h0M273.1 100.3h0M273.6 70.4h0M273.8 92.1h0M273.7 105.7h0M274.1 89.8h0M274.1 83.1h0M274.2 93.7h0M274.9 89.6h0M274.7 88.3h0M274.9 53h0M275.1 101.7h0M275.4 93.1h0M275.2 81.3h0M275.9 95.6h0M275.9 104.5h0M275.7 104.4h0M275.7 106.5h0M276.5 52.5h0M276.2 104.5h0M276.1 61.2h0M276.2 101.6h0M276.7 103.5h0M277 100.5h0M276.6 103.4h0M276.7 69.5h0M277.4 92.4h0M277.1 102.7h0M277.2 85.9h0M277.9 91.2h0M277.7 104h0M277.8 68.7h0M277.8 103.7h0M278 85.4h0M278.3 80.9h0M278.5 102.3h0M278.1 104.4h0M278.9 96.4h0M278.7 90.9h0M278.6 82.5h0M278.8 103.3h0M279.4 92.4h0M279.2 84.5h0M279.4 62.9h0M279.9 99.8h0M279.6 100.9h0M279.8 74.5h0M279.8 95.9h0M280.2 104.6h0M280.2 105.8h0M280.4 95.6h0M280.7 92h0M280.7 92.1h0M280.9 75.7h0M281.4 102.5h0M281.3 82.4h0M281.5 68h0M281.8 76.6h0M281.6 70.2h0M281.9 84.7h0M282.1 98.9h0M282.4 89.1h0M282.1 98.9h0M282.9 102.4h0M282.9 44.2h0M282.9 96.8h0M282.9 102.8h0M283.3 104h0M283.2 101.6h0M283.2 103h0M283.4 90.9h0M283.6 75.6h0M283.8 100h0M283.7 97.4h0M283.6 90.5h0M284.4 100.5h0M284.3 77.4h0M284.4 103.8h0M284.7 93.1h0M284.8 103.4h0M284.8 83.5h0M284.8 96.2h0M285.5 100.4h0M285.5 78.1h0M285.5 98.1h0M285.6 94.1h0M285.9 94.8h0M285.8 84.6h0M285.6 97.8h0M286.1 99.1h0M286.3 82.9h0M286.1 95.1h0M286.1 84.7h0M286.9 90.9h0M286.9 45.6h0M287 56.1h0M286.9 83.4h0M287 100.2h0M287.4 71.5h0M287.2 87.7h0M287.1 96.8h0M287.6 97.6h0M287.7 100.4h0M288.3 76.5h0M288.1 101.3h0M288.4 100.3h0M288.9 63.2h0M288.9 92.1h0M288.6 100.4h0M289.1 90.7h0M289 97.5h0M289.4 63.3h0M289.5 55h0M289.7 80.5h0M290 74.7h0M289.5 99.5h0M289.8 98h0M290.5 101.5h0M290.3 76.6h0M290.5 100.9h0M290.1 89.2h0M291 85.6h0M290.9 90.7h0M290.7 97.7h0M290.7 63.1h0M291.1 86.9h0M291.3 97.9h0M291.4 87.2h0M291.3 81.5h0M291.6 80.6h0M291.7 91.2h0M291.9 83.4h0M291.9 97.1h0M292.1 91.3h0M292.3 62.7h0M292.2 100.6h0M292.7 97.5h0M293 76.5h0M292.9 85.4h0M293.5 100.2h0M293.1 75.4h0M293.2 101h0M293.2 58.4h0M293.9 58.5h0M293.7 60.9h0M293.6 99.1h0M294.4 99.9h0M294.1 81.6h0M294.1 74.9h0M294.4 99.6h0M294.4 65.6h0M294.4 101.4h0M294.4 88.2h0M294.4 85.4h0M294.4 75h0M294.4 100.2h0M294.4 95.5h0M340.8 79.3h0M340.8 63.8h0M340.8 88.7h0M340.8 71.2h0M340.8 81.9h0M340.8 88h0M340.9 80.6h0M341.1 92.2h0M341.1 59.2h0M340.9 78.9h0M341.3 89.5h0M341.4 79.8h0M341.6 71.8h0M341.6 88.4h0M341.8 83.7h0M341.9 76.6h0M341.9 90.5h0M341.8 90.8h0M342.5 63.6h0M342.4 78.8h0M342.4 88.1h0M342.4 83h0M342.8 89.4h0M342.7 85.9h0M343 92h0M343 87.1h0M343.4 77.1h0M343.4 64.7h0M343.5 93.3h0M344 82.5h0M344.1 75.6h0M343.7 78.4h0M344 76.9h0M344.5 75.2h0M344.3 75.6h0M344.4 87.6h0M344.6 90h0M345 80.9h0M344.7 88.5h0M345.1 55.8h0M345.1 78.4h0M345.4 88.7h0M345.4 93.6h0M345.3 68.4h0M345.2 48.7h0M345.9 78.5h0M345.7 62.2h0M345.7 67.6h0M346 66.8h0M346.3 57.6h0M346.6 82.6h0M346.2 86h0M346.5 89.8h0M346.8 87.5h0M346.7 84.3h0M346.7 55h0M347.6 80.5h0M347.2 69.4h0M347.2 64h0M347.5 82.4h0M348 77.4h0M347.7 90.3h0M347.7 87.7h0M347.7 90.6h0M348.2 74.1h0M348.2 83.2h0M348.3 89.8h0M348.2 47.3h0M348.8 61.4h0M348.9 84.5h0M348.7 82.3h0M349.1 74.8h0M349.5 56.3h0M349.5 76.6h0M349.5 83h0M349.5 54.2h0M349.7 56.9h0M349.7 82.6h0M350 75.7h0M350.2 88.9h0M350.4 66.4h0M350.5 80.3h0M350.5 88.7h0M351 49.4h0M351.1 45.6h0M351 83.7h0M350.8 87.6h0M351.4 84h0M351.6 76.5h0M351.6 87.8h0M352 86.7h0M351.7 75h0M351.8 76.4h0M352.6 77.2h0M352.4 83.8h0M352.6 77.7h0M353.1 79.6h0M352.9 89.8h0M353.3 82h0M353.5 79.1h0M353.4 90.6h0M353.3 88.3h0M353.9 75.6h0M354.1 55.9h0M353.9 89.3h0M354.6 90.2h0M354.2 85h0M354.5 86h0M354.4 87.1h0M355 78.7h0M355 71.7h0M355 85.6h0M355 84.7h0M355.2 39.3h0M355.6 61.5h0M355.5 85.3h0M356.1 69.3h0M356.1 83.9h0M355.8 59.3h0M356.2 81.5h0M356.5 89.7h0M356.3 56.1h0M356.6 76.1h0M357.1 85.7h0M357.1 76h0M357 74.4h0M357.1 74.4h0M357.6 88.7h0M357.6 87.5h0M357.3 87.5h0M357.2 90.6h0M358.1 86.1h0M357.8 90.9h0M358.1 76h0M358.4 83.6h0M358.2 86.2h0M358.5 84.5h0M358.4 81.7h0M358.9 87.8h0M358.8 90.6h0M359.1 56.9h0M358.9 55.4h0M359.2 79.4h0M359.6 81.7h0M359.3 86.4h0M359.7 85.2h0M359.8 81.7h0M359.9 86.4h0M360.3 69.1h0M360.6 83h0M360.3 83.1h0M360.6 68.5h0M361.1 82.3h0M361.1 89.4h0M360.7 75.2h0M361.3 89.6h0M361.5 72.9h0M361.4 78.6h0M361.2 89.2h0M362 75.4h0M361.7 88.6h0M361.7 87.5h0M361.9 89.5h0M362.6 88.1h0M362.3 91.6h0M362.5 56.4h0M363 86.2h0M362.7 80.8h0M363.1 79.4h0M362.8 54.7h0M363.4 91.2h0M363.6 71.4h0M363.3 75h0M364 78.6h0M364.1 84.4h0M363.9 57.1h0M364.1 84.3h0M364.2 92.9h0M364.4 84.3h0M364.3 85.4h0M364.2 85.9h0M364.9 85.6h0M364.7 90.3h0M365 91.2h0M365.4 86.9h0M365.4 91.2h0M365.5 82.8h0M365.3 71.7h0M365.7 50.3h0M365.8 55.9h0M366.1 68.4h0M365.9 78.1h0M366.6 91.5h0M366.6 91.4h0M366.2 87.8h0M366.8 88.3h0M367 67.7h0M366.7 85.2h0M367.5 90.5h0M367.5 82.1h0M367.4 88.7h0M367.9 89.9h0M367.9 48.9h0M368.1 80.5h0M368.6 69.9h0M368.3 66.5h0M368.2 91.3h0M368.7 69.9h0M368.8 83.9h0M368.8 88.5h0M368.8 82.5h0M369.5 73.3h0M369.4 91.2h0M369.3 80.4h0M369.3 85.6h0M369.7 87h0M370.1 84.8h0M369.7 92.4h0M370.3 90.7h0M370.3 78.1h0M370.3 75.7h0M370.6 92.5h0M370.7 85.1h0M371.1 80.3h0M370.7 92.6h0M371.2 77.7h0M371.6 91.9h0M371.5 74.5h0M371.2 69.8h0M371.8 90.9h0M371.8 47.2h0M372.1 92.4h0M372.2 66.8h0M372.2 86h0M372.4 93h0M372.3 86.2h0M372.8 77.5h0M373.1 92.9h0M372.8 93.4h0M373.2 60.7h0M373.4 88.5h0M373.5 63.9h0M373.6 81.1h0M374 43.7h0M373.9 64h0M373.8 87.7h0M373.7 72.6h0M374.6 79.8h0M374.5 77.4h0M374.2 90.9h0M374.4 84h0M374.7 86.9h0M374.9 76.5h0M374.9 84.9h0M375.1 72.8h0M375.3 79.4h0M375.2 63.4h0M375.3 87.4h0M376.1 70.9h0M375.9 72h0M375.8 90.6h0M376.6 63.8h0M376.5 83h0M376.3 87.4h0M376.8 79.3h0M376.9 83.7h0M377.1 77h0M376.8 59.3h0M377.4 85.5h0M377.5 71.6h0M377.2 88.9h0M377.7 55.5h0M377.8 90h0M378.1 83.5h0M377.7 86.8h0M378.5 75.7h0M378.2 85.3h0M378.3 74.1h0M378.2 91.8h0M378.7 83.4h0M378.9 67.5h0M378.8 90.5h0M379.1 80.8h0M379.2 84.4h0M379.5 67.7h0M379.7 86.2h0M380 92h0M379.9 88.8h0M379.8 78.7h0M380.6 72.6h0M380.4 88.1h0M380.6 68.6h0M380.4 90.5h0M380.7 61.7h0M380.8 82.6h0M381.1 83.2h0M380.7 52.5h0M381.3 86h0M381.4 75.3h0M381.3 86h0M381.4 76.3h0M381.9 86.7h0M381.9 72.2h0M382 92.3h0M382.2 77.7h0M382.4 77.7h0M382.2 41.7h0M382.6 41.7h0M383 70.1h0M382.8 58.3h0M383 59.2h0M383 54.3h0M383 92.5h0M383 82.7h0M383 85.6h0M383 90.9h0M383 90.6h0M383 79.9h0M427.3 59.9h0M427.3 82h0M427.3 73.2h0M427.3 47.9h0M427.3 77.9h0M427.3 80.1h0M427.3 50.2h0M427.3 47.3h0M427.6 87.3h0M427.6 73.1h0M427.7 81h0M428.1 59.1h0M428.1 82.1h0M428 85.8h0M427.9 79.4h0M428.5 63.5h0M428.7 88.1h0M428.4 85.6h0M428.5 80.9h0M429 42.4h0M428.7 82.2h0M428.9 88.4h0M429.7 80h0M429.3 80.9h0M429.3 80.8h0M429.9 75.1h0M429.8 80.6h0M429.9 83.4h0M430.3 76.2h0M430.3 88.7h0M430.6 82.8h0M431.1 85.3h0M431 80.2h0M430.7 77.3h0M431.5 71.7h0M431.6 81.8h0M431.3 61.7h0M431.5 88.4h0M431.7 85.3h0M431.7 78.5h0M432 67.7h0M432.3 79.6h0M432.3 85.8h0M432.4 61.7h0M432.4 68.8h0M433 74.2h0M433 80.9h0M433.2 85.5h0M433.5 76.4h0M433.4 87.1h0M433.6 84.5h0M434.1 79.1h0M434.1 63.9h0M433.8 82.9h0M433.9 68.9h0M434.6 81.7h0M434.6 74.9h0M435.2 88.8h0M435 88.4h0M435.1 80.9h0M435.6 85.6h0M435.6 76.4h0M435.2 78.5h0M435.3 65.4h0M435.9 90h0M436.1 72.2h0M435.9 73.6h0M436.1 68.6h0M436.5 78.2h0M436.3 69.5h0M436.4 84.6h0M436.4 89h0M436.8 77.4h0M436.8 70h0M436.8 68.8h0M437.5 87.3h0M437.7 86.9h0M437.4 46.7h0M437.6 69.5h0M438.2 87.6h0M437.7 41.5h0M437.9 85.9h0M438 88.8h0M438.7 92.3h0M438.2 86.6h0M438.4 55.3h0M438.9 90.7h0M438.8 90.7h0M439 88h0M438.9 83.1h0M439.6 68.6h0M439.7 86h0M439.5 67.4h0M439.4 82.3h0M440.1 57.7h0M440.2 91.2h0M439.8 57.5h0M439.9 73.3h0M440.4 63.8h0M440.6 81.8h0M440.6 89.5h0M440.7 84h0M440.8 72.9h0M440.8 87.8h0M441 90.4h0M441.2 89.9h0M441.7 77.3h0M441.4 90.9h0M441.5 69.6h0M441.4 49.4h0M441.9 41.9h0M442.2 38.1h0M442 89.6h0M441.8 47.2h0M442.6 69.1h0M442.3 78.4h0M442.3 41.6h0M442.9 72.5h0M443 74.7h0M442.8 70.8h0M443.7 85.7h0M443.7 83.2h0M443.6 87.8h0M443.8 82.9h0M444.1 62h0M444.3 84.8h0M444.3 46.2h0M444.7 74.3h0M444.3 78.9h0M444.5 52.2h0M444.7 79.4h0M445.3 93.8h0M444.8 89.2h0M445.3 91.9h0M444.9 72.4h0M445.6 57.5h0M445.4 80.3h0M445.8 85.8h0M445.5 94.4h0M446.3 92.9h0M446.2 64.8h0M446.1 94h0M446.4 83.8h0M446.7 83.1h0M446.7 92.5h0M446.4 85.9h0M447.1 84.7h0M447.3 81h0M447.1 83.1h0M447.5 94.3h0M447.4 88.4h0M447.3 85.8h0M447.6 53.3h0M448.2 74.8h0M448 71.2h0M447.9 73h0M448.7 79.2h0M448.5 90.9h0M448.7 65.7h0M448.9 89.7h0M449.2 72.7h0M449.2 76.6h0M449.1 81.8h0M449.7 76.3h0M449.6 78.8h0M449.6 70.3h0M450 84.1h0M450.1 83.9h0M450 85.8h0M450 84.1h0M450.3 91.5h0M450.5 72.3h0M450.6 83.4h0M450.8 88.6h0M451.3 59.4h0M451.1 87.6h0M450.9 86.7h0M451.5 63.5h0M451.7 88.2h0M451.6 67.1h0M452.2 88.4h0M452.3 60.4h0M452.1 90.8h0M452.4 82.6h0M452.7 91.5h0M452.8 91.4h0M453.3 81.9h0M453.2 48.5h0M453.1 90.6h0M453.8 87.5h0M453.4 70.9h0M453.5 87.9h0M453.5 78.3h0M453.9 64.8h0M454 71.4h0M454.3 45.1h0M454.2 85.6h0M454.7 83.5h0M454.5 75.5h0M454.4 91.5h0M454.4 78.7h0M455.3 76.6h0M455 80.5h0M455 77.9h0M454.9 67.5h0M455.8 83.3h0M455.5 89.7h0M455.5 90.4h0M455.6 86.1h0M456.1 84.9h0M456.3 85.1h0M456.1 55.3h0M456.9 89.2h0M456.7 81.8h0M456.5 86.1h0M457.1 59.4h0M457.1 75.1h0M457 82.4h0M457 91.4h0M457.4 82.4h0M457.6 75h0M457.5 94h0M458.2 67.5h0M458 89.2h0M458 90h0M458.3 88.7h0M458.8 76.3h0M458.4 78.6h0M458.5 95.1h0M459.3 83.6h0M459.1 81.5h0M459.4 91.3h0M459.1 73.1h0M459.8 90.9h0M459.7 93.7h0M459.8 88.5h0M460 93.8h0M460.4 68.9h0M460.2 78.8h0M460 90.1h0M460.7 94.6h0M460.5 88.3h0M460.9 86h0M461.2 92.1h0M461.2 77.7h0M461.4 91.8h0M461 93.1h0M461.7 83.2h0M461.8 81.8h0M461.6 58.4h0M461.8 94.2h0M462 88.5h0M462.3 79.8h0M462.1 92.5h0M462.3 63.8h0M462.8 75.9h0M462.5 86.2h0M462.6 77.3h0M462.5 92.4h0M463.1 92.5h0M463.2 81.6h0M463.3 86.3h0M463.1 93.2h0M463.9 61.9h0M463.7 70.8h0M463.7 69.2h0M464 89.2h0M464.1 60.2h0M464.2 85.5h0M464.3 92.2h0M464.9 67.6h0M464.5 87.3h0M464.8 70.2h0M465 86.1h0M465.2 64h0M465.1 65.8h0M465.2 86.7h0M465.3 57.7h0M465.3 73.3h0M465.3 60.4h0M465.3 84.9h0M465.3 57.1h0M465.3 86.3h0M465.3 88.7h0M503.7 92.1h0M503.7 94h0M503.7 95.4h0M503.7 66.6h0M503.7 94.1h0M503.7 95h0M503.7 91.9h0M504 95.2h0M503.9 89.9h0M503.7 87.7h0M504.1 96.4h0M504.1 77.1h0M504.2 93.5h0M504.4 81.5h0M504.3 46.8h0M505 79.3h0M504.8 95.4h0M504.9 87.7h0M504.6 70h0M505.3 95.9h0M505.2 91h0M505.3 83.6h0M505.2 96.5h0M506 82.2h0M506 70.8h0M505.8 92.9h0M505.9 93.5h0M506.4 94.8h0M506.5 79.2h0M506.1 95.8h0M506.2 84.1h0M506.7 95.4h0M507.1 92.7h0M506.7 70.1h0M507.3 88.7h0M507.1 96.4h0M507.1 94h0M507.2 76.5h0M507.8 90.1h0M507.6 87.5h0M507.6 60.8h0M508.4 97.1h0M508.3 88.5h0M508.3 84h0M508.5 97.1h0M508.6 98.5h0M508.7 67.8h0M508.8 87.1h0M509.1 62.5h0M509.1 97.5h0M509.5 98.9h0M509.7 74.5h0M509.6 93.9h0M509.9 94.5h0M509.7 92.9h0M510.1 85.6h0M510.2 67.8h0M510.2 85.8h0M510.7 93.3h0M510.8 99h0M510.6 77.1h0M511 89.5h0M511.3 84.6h0M511.4 90.3h0M511.1 92.1h0M511.1 93.8h0M511.8 56h0M512.1 94.5h0M511.6 99h0M511.8 88.3h0M512.3 97.7h0M512.3 93.3h0M512.4 98.7h0M512.3 99.7h0M512.7 100.1h0M512.9 94h0M513 99h0M513 97.1h0M513.6 63.4h0M513.6 95.6h0M513.7 83.4h0M513.8 87.2h0M514.1 98.5h0M514 72h0M514.4 57.6h0M514.5 94.3h0M514.5 63.2h0M514.5 81.5h0M514.7 96.6h0M515 98.6h0M514.8 87.1h0M515.5 94.3h0M515.5 76.6h0M515.2 80.3h0M515.7 95.4h0M515.9 96.1h0M515.7 61.9h0M515.7 88.2h0M516.3 92.8h0M516.3 77.8h0M516.5 98.7h0M516.1 84.3h0M517.1 96.9h0M517.1 93.4h0M516.8 53.8h0M516.7 74.8h0M517.3 97.9h0M517.2 82.5h0M517.5 97.2h0M517.7 89.2h0M517.9 53.9h0M517.8 81.7h0M518.1 87.7h0M518.3 91.5h0M518.3 94.3h0M518.2 96.7h0M518.7 82.3h0M519 73h0M518.7 70h0M519.4 91.1h0M519.4 76.2h0M519.3 93.4h0M519.3 87.3h0M519.7 96.5h0M519.9 96.7h0M520 69.8h0M519.6 96.7h0M520.3 78.9h0M520.2 83h0M520.3 95.5h0M520.8 94.4h0M521.1 92.1h0M521 67.1h0M521.2 81.7h0M521.5 78.3h0M521.6 92h0M522 88.1h0M521.9 88.2h0M522 91.5h0M522 82.7h0M522.2 84.3h0M522.4 75.3h0M522.7 81.3h0M522.9 88.6h0M522.7 83.3h0M522.8 63.9h0M523.3 92.2h0M523.4 91.2h0M523.6 63.2h0M524.1 82.2h0M523.9 93.4h0M523.7 73.9h0M524.1 83.1h0M524.5 85.4h0M524.2 81.7h0M524.7 94h0M524.9 62h0M524.9 69.2h0M525 79.1h0M525.4 92h0M525.3 94.1h0M525.3 94.8h0M526 66.2h0M526.1 83.6h0M526.4 94.2h0M526.3 77h0M526.6 71.4h0M526.4 95h0M527.1 72.9h0M526.8 92.6h0M527 89.4h0M527.6 53.6h0M527.4 92.1h0M527.6 93.9h0M527.4 85.6h0M527.9 91.9h0M527.9 89.1h0M527.8 87.4h0M528.4 89.2h0M528.5 62.7h0M528.6 91.7h0M528.6 71.3h0M529 77.4h0M528.7 74.3h0M528.9 94.5h0M529 65.1h0M529.6 75.2h0M529.6 85.8h0M529.2 93.7h0M530.1 94.6h0M530.1 89.9h0M530.1 95.2h0M530.3 62.8h0M530.6 88.4h0M530.2 86.2h0M530.6 86.9h0M530.8 88.3h0M530.8 90.6h0M530.9 93.1h0M530.9 78.7h0M531.4 90.1h0M531.5 81.9h0M531.5 68.5h0M531.2 94.5h0M532 92h0M531.7 93.7h0M532 53.4h0M532.4 86.8h0M532.2 90.7h0M532.2 90.2h0M532.5 81.3h0M532.5 82.3h0M532.5 74h0M532.5 74.6h0M532.5 85.1h0M569.9 96.6h0M569.9 79.5h0M569.9 98.4h0M569.9 58h0M569.9 86.1h0M569.9 94.9h0M569.9 95.1h0M570.1 85.3h0M570.1 74.2h0M569.9 84.4h0M570.3 85.4h0M570.4 90h0M570.7 86.6h0M571 96.4h0M570.9 78.2h0M570.8 84.6h0M571.2 89.2h0M571.7 94.2h0M571.4 82.9h0M571.3 88.3h0M571.6 95h0M572 91.2h0M572.2 89.5h0M572.2 93.2h0M572.4 92.8h0M572.7 48.2h0M572.6 93.4h0M572.8 93.4h0M572.9 77.9h0M572.8 88h0M573.5 85.7h0M573.7 85.2h0M573.4 86.9h0M573.4 90.3h0M574.2 58h0M574.1 47.8h0M574 89h0M574.5 53.2h0M574.5 80.7h0M574.7 74h0M575 62h0M575.2 92.4h0M575.2 89h0M575.4 46.4h0M575.3 72.1h0M575.5 61.1h0M575.5 84h0M575.9 64.3h0M576.1 46.2h0M576.1 85.8h0M575.9 83.9h0M576.5 88h0M576.3 75.1h0M576.7 52h0M576.7 72.6h0M576.9 65.2h0M576.9 77.6h0M577.1 85.2h0M577.2 79.2h0M577.4 69.1h0M577.5 72.5h0M577.3 80.5h0M577.6 58.6h0M577.9 86.1h0M578.2 83.3h0M578 55.9h0M578.1 64h0M578.5 74.1h0M578.5 68.5h0M578.6 88.3h0M578.6 82.7h0M579 47.5h0M578.9 84h0M579.1 85.9h0M579.5 82.4h0M579.7 82.1h0M579.6 86.8h0M580 84.5h0M579.9 65.7h0M580.1 63.3h0M579.8 79.5h0M580.7 79.2h0M580.3 74.2h0M580.6 85.3h0M580.8 62.2h0M581 84.7h0M581.2 69.1h0M581.7 77.5h0M581.3 58.1h0M581.7 86.2h0M581.8 54.2h0M581.8 72.3h0M581.8 86.5h0M581.8 82.5h0M582.7 76.5h0M582.4 48h0M582.4 81.9h0M582.8 68h0M583 68.1h0M582.8 82.6h0M583.5 84.2h0M583.5 81.5h0M583.3 86.5h0M583.4 77.6h0M584.1 69.7h0M583.9 74.5h0M583.9 67.8h0M583.8 80.4h0M584.6 64.3h0M584.3 83.1h0M584.3 81.6h0M584.3 77.1h0M585.1 70.4h0M584.8 76.1h0M585.6 70h0M585.5 83.5h0M585.6 84.4h0M585.8 48.6h0M586 52.8h0M586.2 83.5h0M586.3 80.7h0M586.5 75.8h0M586.6 75.4h0M587 77.5h0M586.9 79.1h0M587.1 61h0M587.5 61.5h0M587.3 82.5h0M587.5 80.3h0M587.8 65.3h0M588.1 81h0M588.1 78.9h0M588.5 54.7h0M588.4 66h0M588.6 79.2h0M588.3 84.3h0M589.1 77h0M588.9 63.2h0M589 69.8h0M589.3 80h0M589.7 81.5h0M589.6 79.3h0M589.4 58.2h0M589.9 51.6h0M590.1 82.5h0M589.9 81.1h0M590.4 77.8h0M590.4 81.4h0M590.5 66.9h0M590.9 72.1h0M591.1 76.4h0M591 83.5h0M591.3 73.5h0M591.6 70.5h0M591.9 74.6h0M591.9 78h0M592.1 76.5h0M591.8 74.3h0M592.3 70.8h0M592.4 76.7h0M592.5 77.1h0M592.5 56.5h0M592.8 67.4h0M593 75.9h0M593.5 81.1h0M593.6 66.5h0M593.6 84h0M593.8 83.4h0M594.2 80.9h0M594.2 83.4h0M594.6 56.7h0M594.3 81.5h0M594.7 81.4h0M594.4 81.1h0M594.9 69.5h0M594.9 74.4h0M594.9 62.8h0M594.8 64.1h0M595.5 75.3h0M595.3 63.9h0M595.4 61.1h0M596.1 85.2h0M595.9 62.2h0M596.2 82.7h0M596.2 87.5h0M596.4 87.5h0M596.6 84.9h0M597 90.5h0M597.1 85.9h0M596.8 67.4h0M596.9 67.1h0M597.5 88.8h0M597.6 73.6h0M597.5 88.7h0M598.1 78.5h0M598 57.2h0M597.9 78h0M598.2 74h0M598.6 73h0M598.7 89.3h0M598.7 61.4h0M598.6 78.3h0M599.2 79.7h0M598.9 66.8h0M599 84h0M599 90.1h0M599.5 87.2h0M599.7 87.9h0M599.5 76.3h0M600.2 66.7h0M600 81.7h0M600.1 86.1h0M600.3 86.1h0M600.6 75.7h0M600.4 74.3h0M601.2 87.1h0M601 62.1h0M600.8 69.8h0M601.3 85.4h0M601.4 89.8h0M601.6 68.9h0M601.4 80.8h0M601.9 49.2h0M601.9 66.9h0M601.8 53.2h0M602.1 88.3h0M602.6 91.6h0M602.5 82.1h0M602.3 50.1h0M602.7 67.7h0M602.8 72.1h0M603 82.5h0M603.1 74h0M603.1 73.6h0M603.1 90.1h0M603.1 94.2h0M603.1 52.8h0M603.1 80.4h0M638.2 77.9h0M638.2 78.5h0M638.2 72.7h0M638.2 76h0M638.2 63.6h0M638.2 74.8h0M638.2 79.3h0M638.4 68.3h0M638.7 72.7h0M638.9 55h0M639.1 80.4h0M639.5 57.5h0M639.3 77.2h0M639.1 66.2h0M639.9 86.6h0M639.9 84.4h0M639.8 56.5h0M639.6 89.1h0M640.3 81.5h0M640.1 90.6h0M640.5 91.1h0M640.8 85.3h0M640.7 78.2h0M640.9 75.4h0M641.1 85.8h0M641.2 86h0M641.5 90.7h0M641.4 86.3h0M641.6 66.9h0M642 77.7h0M641.9 75.9h0M642.3 64.5h0M642.3 84.2h0M642.2 81.1h0M642.5 73.8h0M642.8 90.1h0M642.6 68.3h0M642.9 79.6h0M643.1 83.7h0M643.2 71.3h0M643.3 75.9h0M644.1 87.5h0M644 68.4h0M643.9 86.2h0M644.4 70.6h0M644.5 80.9h0M644.3 80.1h0M644.1 69.8h0M645 82.4h0M644.6 86.2h0M644.7 75h0M645.4 85.1h0M645.4 68.2h0M645.1 86.3h0M645.9 87.3h0M646 76.6h0M645.9 62.7h0M646.2 78.1h0M646.4 87.9h0M646.4 72.3h0M647 80.1h0M646.7 82.1h0M647.6 55.4h0M647.2 81.1h0M647.3 79.5h0M647.7 66.9h0M647.7 86.7h0M647.7 63.4h0M648.3 85.9h0M648.2 81.1h0M648.6 64.5h0M648.6 88.4h0M649 82.2h0M649.1 79h0M649.2 73.7h0M649.1 83.4h0M649.5 83.6h0M649.9 88h0M649.9 56.8h0M649.8 89.3h0M650 87.1h0M650.5 82h0M650.3 85.5h0M650.4 85.3h0M650.9 84.4h0M651 82.3h0M651 78.3h0M651.3 72.2h0M651.3 87.9h0M651.1 84.3h0M651.8 78.7h0M651.6 71.5h0M652 88h0M652.4 58.9h0M652.3 60h0M652.3 83.3h0M653 80.1h0M652.9 68.6h0M653.4 79.1h0M653.6 81.2h0M653.7 77.2h0M654.1 76.9h0M654 85.4h0M654.2 70.9h0M654.5 76.2h0M654.5 89.4h0M654.2 78.6h0M655 78.1h0M654.6 87.3h0M654.9 86.3h0M655 82.5h0M655.4 83.9h0M655.4 88.4h0M655.2 75h0M656.1 89.1h0M656.1 79.3h0M655.7 74.6h0M656.3 77.3h0M656.5 73.9h0M656.2 74.5h0M656.8 55.6h0M657.1 52.4h0M656.7 85.7h0M657.2 82h0M657.5 88.1h0M657.4 91.9h0M657.5 84.2h0M657.7 82.2h0M658.1 91.9h0M657.8 85.2h0M657.8 50.8h0M658.3 89.6h0M658.5 60.3h0M658.6 66h0M658.7 90.7h0M658.9 75.6h0M659 84.6h0M658.9 87.8h0M659.5 88.9h0M659.5 88.1h0M659.3 69.5h0M659.2 82h0M659.8 72.8h0M659.8 78.3h0M659.7 86.1h0M659.8 69h0M660.2 59.2h0M660.2 86.6h0M660.5 78.1h0M660.6 90h0M660.8 63.3h0M660.7 81.6h0M661.1 85.7h0M661.5 55.2h0M661.2 51.8h0M661.5 81.9h0M661.3 84.5h0M661.9 78.7h0M661.8 86.7h0M661.7 75.1h0M662.1 66.9h0M662.4 88.3h0M662.2 85.1h0M662.4 71.7h0M662.3 85.6h0M662.8 53h0M662.7 77.3h0M662.9 81.2h0M663.4 76.9h0M663.2 90.3h0M663.2 82.8h0M663.4 79h0M663.9 58.4h0M663.7 68.8h0M664.1 59.9h0M664.4 64.8h0M664.2 82.8h0M664.5 81.5h0M664.9 57.6h0M664.7 84.6h0M665.5 79.9h0M665.2 87.6h0M665.2 72.2h0M665.4 62.7h0M666 80.4h0M666 87.7h0M665.7 90.6h0M666 77.8h0M666 52.2h0M666 90.4h0M666 84.6h0M666 58.1h0M666 72.7h0M666 85.5h0M666 86.1h0"/>
<path stroke="#1f77b4" stroke-width="3.1" stroke-linecap="round" fill="none" d="M117.2 68.2h0M117.2 87.8h0M117.2 79.6h0M117.2 80h0M117.2 85.2h0M117.2 75.7h0M117.2 51.4h0M117.2 73.1h0M117.2 85.2h0M117.5 76.4h0M117.3 85.8h0M117.6 83.8h0M118 43.7h0M118.5 85.9h0M118.5 79.2h0M118.5 72h0M118.4 84h0M119 78.4h0M118.6 59.4h0M118.7 82.5h0M118.7 75.1h0M119.4 81.5h0M119.1 51.3h0M119.4 73.3h0M119.5 85.2h0M119.8 71.7h0M119.7 70.6h0M119.8 77.3h0M119.9 77.1h0M120.1 76.7h0M120.3 70.8h0M120.4 81.4h0M120.3 62.5h0M120.6 75.9h0M120.8 83.5h0M120.8 84.1h0M120.6 74.7h0M121.4 84.5h0M121.3 63h0M121.3 85h0M121.6 40.4h0M122 56.6h0M122 66.1h0M122 82.8h0M122.1 48.9h0M122.5 62.9h0M122.9 80.2h0M123 84.1h0M123 81.9h0M122.8 84.4h0M123.2 83.5h0M123.2 76.4h0M123.1 86.5h0M123.9 45.5h0M123.6 53.1h0M123.6 64h0M123.9 75.8h0M124.3 56.1h0M124.5 74.3h0M124.5 85.7h0M124.2 72.3h0M125 82.8h0M124.7 74.4h0M124.8 65.6h0M125.1 67h0M125.2 61.6h0M125.5 72.2h0M125.4 74.3h0M125.6 87.8h0M125.9 85.3h0M125.8 79.2h0M125.6 53.5h0M126.1 71.9h0M126.2 87.9h0M126.2 86.3h0M126.3 84.1h0M126.9 84.7h0M126.6 78.4h0M126.7 46.3h0M127.4 86.8h0M127.4 57.2h0M127.2 80.5h0M127.4 88.1h0M127.9 81.9h0M128 79.5h0M127.7 68.4h0M128.3 87.8h0M128.2 80.6h0M128.4 87.6h0M129 76.4h0M128.6 86.2h0M128.8 74.3h0M129 73h0M129.2 83h0M129.5 87.8h0M129.4 65.4h0M129.5 88.5h0M129.9 79.1h0M129.7 79.5h0M129.7 86.9h0M130.4 82.4h0M130.5 70.6h0M130.2 69.8h0M130.3 76.4h0M130.7 77.4h0M131 73.1h0M131 85h0M131.2 84.1h0M131.5 68h0M131.2 67.9h0M131.2 56.5h0M131.9 52.6h0M131.9 70.8h0M132 79.1h0M132.3 59.2h0M132.3 69.2h0M132.2 83.2h0M133 87.5h0M132.6 86.3h0M133 87h0M133.1 86h0M133.4 87.7h0M133.4 73.1h0M133.1 68.1h0M134 81h0M134 61.9h0M134 86.8h0M134.1 43.4h0M134.1 83.7h0M134.5 86.7h0M135 71.4h0M134.7 71.5h0M134.6 85.1h0M135.2 82.7h0M135.1 77.8h0M135.2 81.6h0M135.7 78.8h0M136 75.2h0M136.3 85.2h0M136.4 77h0M136.4 79.2h0M137 82.2h0M137 84.5h0M136.6 83.1h0M137.5 64.6h0M137.3 86.3h0M137.4 76.1h0M137.3 83.2h0M137.7 60.7h0M137.7 44h0M137.9 84.1h0M137.6 77.3h0M138.4 88.2h0M138.4 71.4h0M138.2 74.5h0M139 83.7h0M139 89.9h0M138.7 90.9h0M139 86.7h0M139.5 85.8h0M139.3 89h0M139.4 81.5h0M139.4 71.8h0M139.6 88.6h0M139.9 66.5h0M139.6 74h0M139.9 85.8h0M140.3 93.8h0M140.2 63h0M140.2 92.6h0M140.6 68.8h0M140.7 94.4h0M140.8 90.9h0M141.1 91.9h0M141.4 41.9h0M141.5 96.3h0M141.2 96.3h0M141.9 74.9h0M141.6 90.2h0M141.6 83.5h0M142.1 92h0M142.4 91.7h0M142.3 81.5h0M142.3 84.3h0M142.8 85.3h0M143 78.8h0M142.8 90.8h0M142.8 78.3h0M143.5 79.8h0M143.4 76.6h0M143.4 70.2h0M143.3 83.6h0M143.6 84.1h0M143.9 90.9h0M143.9 80.2h0M143.8 94.8h0M144.3 84.4h0M144.5 82.1h0M144.4 96.1h0M144.2 76.3h0M144.6 43.6h0M144.6 87.4h0M145 76.2h0M144.6 88.2h0M145.4 87.8h0M145.4 88.7h0M145.3 72.8h0M145.5 91.6h0M145.7 82.4h0M145.6 78h0M145.6 93.2h0M146.1 92.4h0M146.3 91.9h0M146.2 82h0M146.2 95.5h0M146.8 57.8h0M147 96.7h0M146.7 92.9h0M147.5 78h0M147.3 85.5h0M147.2 88.2h0M147.2 50.4h0M148 75.1h0M147.7 91.4h0M147.6 88.9h0M148.5 94.5h0M148.2 96.4h0M148.3 96.7h0M148.9 101.2h0M148.7 96.2h0M148.8 95.8h0M148.9 92.7h0M149.5 94.5h0M149.1 72.1h0M149.5 74.6h0M150 99h0M149.6 86.1h0M150 101.2h0M150.1 97h0M150.2 99h0M150.2 78.7h0M150.9 65.9h0M151 98.6h0M150.9 87.2h0M151 84.7h0M151.1 73.8h0M151.3 83.6h0M151.3 80.9h0M151.7 89.3h0M151.6 97.5h0M151.6 91.2h0M152.3 99.3h0M152.3 91.2h0M152.1 71.5h0M152.3 73.8h0M153 85h0M152.8 94.5h0M152.6 52.6h0M152.9 86.3h0M153.4 87.2h0M153.2 60.8h0M153.3 40.8h0M153.5 91.4h0M153.9 82h0M154 94.9h0M153.8 94.3h0M153.9 89.9h0M154.3 92.2h0M154.5 88.6h0M154.5 95.6h0M154.3 93h0M155 89.8h0M154.9 84.4h0M154.7 94.4h0M154.8 95.1h0M155.1 76.9h0M155.5 80.8h0M155.1 88.2h0M155.6 99.9h0M155.9 61.5h0M155.9 83.8h0M155.9 63.5h0M156.4 85.1h0M156.4 86.3h0M156.4 96.4h0M156.6 78.3h0M156.6 97.1h0M157 77.5h0M156.7 83.9h0M157.3 76.7h0M157.2 95.6h0M157.2 91.8h0M158 84.5h0M157.8 99.3h0M157.6 99.5h0M157.8 74.9h0M158.1 91.1h0M158.3 92.7h0M158.5 58h0M158.6 92h0M158.7 84.4h0M158.6 97.5h0M158.9 100h0M159.1 48.6h0M159.1 69.2h0M159.4 99.8h0M159.4 95.8h0M159.9 99.3h0M160 81.1h0M159.6 80.2h0M159.9 85h0M160.2 59.3h0M160.4 49.6h0M160.1 100h0M160.5 84.2h0M160.9 94.7h0M161 97.6h0M160.6 90.3h0M160.8 93.4h0M161.1 83.7h0M161.2 76.7h0M161.4 85.2h0M161.2 92.7h0M161.9 57.6h0M161.7 88.8h0M162 100.6h0M162.2 75.6h0M162.4 88.1h0M162.4 75.3h0M162.4 94.5h0M162.4 95.8h0M162.4 89h0M162.4 78h0M162.4 99h0M162.4 90.2h0M162.4 70.5h0M162.4 76.5h0M209.3 48.5h0M209.3 63.7h0M209.3 66.2h0M209.3 60.9h0M209.3 79h0M209.3 79h0M209.3 81.6h0M209.6 71.7h0M209.6 68.4h0M209.4 44.8h0M209.8 83.4h0M209.7 73.5h0M209.7 69.4h0M210.2 84.6h0M210.3 77.8h0M210.2 67.9h0M211.1 58.9h0M210.8 78.3h0M210.9 70.8h0M211.4 80.4h0M211.6 70.8h0M211.3 53.3h0M211.4 81.3h0M211.8 80.4h0M211.8 85.2h0M212.2 77.7h0M212.7 58.3h0M212.6 72.9h0M213 70.7h0M213 81.7h0M213 77.4h0M213.6 80.7h0M213.3 86.2h0M213.4 70.6h0M213.5 85.3h0M213.9 74.2h0M214 75.8h0M213.7 79.3h0M214.1 83.7h0M214.6 84.6h0M214.2 82.2h0M214.3 75.6h0M214.8 74.8h0M214.7 74.2h0M215 76h0M215.2 78.6h0M215.6 77.9h0M215.6 74.7h0M215.3 66.1h0M215.7 68h0M215.9 61h0M216.2 83.3h0M216.3 65h0M216.2 65h0M216.4 82.2h0M216.8 73.5h0M217.1 81.2h0M217.2 78.4h0M217.1 72.6h0M217.6 51.4h0M217.6 84h0M217.6 80.7h0M217.8 62.4h0M218.1 80.4h0M218.1 45.3h0M218.3 74.3h0M218.6 76.2h0M218.7 85.7h0M218.3 71.5h0M219.1 79.5h0M218.8 75.5h0M218.8 87.5h0M218.8 65.1h0M219.6 83.4h0M219.3 81.4h0M219.5 58.9h0M220.2 65.2h0M219.9 88.3h0M220 86.2h0M220.2 66h0M220.6 85.9h0M220.4 72.7h0M221.2 86.5h0M221.2 81.9h0M220.8 75.7h0M220.8 83.3h0M221.3 76.8h0M221.4 86.7h0M221.5 80.4h0M221.7 83.7h0M221.9 77.6h0M222 89.5h0M222.6 88.1h0M222.4 85.9h0M222.4 80.6h0M222.5 78.5h0M223 90.4h0M223.2 70.2h0M223.6 77.3h0M223.4 85h0M223.7 69.1h0M223.9 75.7h0M224.1 71.5h0M224.1 81.8h0M224.5 80.8h0M224.4 91.1h0M224.8 86.5h0M224.4 82.8h0M224.9 88.4h0M224.8 90.1h0M225 63.3h0M225 83.9h0M225.3 89.7h0M225.4 87.3h0M225.5 74h0M225.4 53.3h0M225.8 80.1h0M226.1 89.7h0M226.5 71.6h0M226.3 64.1h0M226.7 83.3h0M226.4 88.1h0M226.9 90.2h0M226.9 75.6h0M226.9 85.6h0M227.2 79.7h0M227.6 89.8h0M227.6 46.4h0M227.7 91.7h0M227.8 87.2h0M228 90.1h0M228.1 63.7h0M228.4 89.8h0M228.6 73.7h0M228.6 85.9h0M229 92.5h0M229.1 92.7h0M229 87.6h0M228.9 80.5h0M229.8 93.4h0M229.8 81.9h0M229.6 92.8h0M229.5 75.4h0M229.9 91.4h0M229.8 73.3h0M230 70.1h0M230.1 82.9h0M230.6 79h0M230.7 88.4h0M230.7 89.9h0M230.7 73.8h0M231.3 73.4h0M230.9 85.8h0M231.3 83.9h0M230.8 92.3h0M231.7 79.3h0M231.8 88h0M231.7 90.7h0M231.3 93h0M232.1 93.2h0M231.9 82.7h0M232 54.6h0M231.9 91.8h0M232.4 58h0M232.7 93.4h0M232.8 89.9h0M233 79.3h0M233 70.9h0M233.3 88.1h0M233.2 92h0M233.5 78.8h0M233.3 65.3h0M233.5 81.7h0M233.8 58h0M233.9 89.6h0M234 88.9h0M233.9 89.5h0M234.5 78.5h0M234.6 89.6h0M235.3 64.8h0M235.2 88.4h0M235 68.5h0M235.1 87.2h0M235.7 90.2h0M235.6 79.8h0M235.8 80.4h0M236 62.1h0M236.3 71.1h0M236.3 89.6h0M236.4 91.8h0M236.8 92h0M236.7 89.9h0M237.2 89.1h0M237 90.4h0M237.2 56.4h0M237.3 61.6h0M237.7 87.2h0M237.4 74.5h0M237.5 81.1h0M237.4 83h0M238.3 84.7h0M238.1 88.2h0M238.1 88h0M238.4 72.7h0M238.6 70.1h0M238.5 87.3h0M238.8 79.3h0M239.3 84.6h0M239.2 57.7h0M238.9 83.5h0M238.9 83.6h0M239.6 77h0M239.5 75.6h0M239.7 86.9h0M239.6 72.1h0M240.4 69.8h0M240.2 57.1h0M240 79.1h0M240.6 78.9h0M240.4 78.4h0M241.3 72.3h0M241.2 81.4h0M241 78.9h0M240.9 82.4h0M241.8 63.6h0M241.7 84.5h0M241.7 79.7h0M242.4 79.5h0M242.2 84.8h0M242.1 57.8h0M242.7 80.7h0M242.6 65.4h0M243.1 77.1h0M243.2 70.8h0M243.2 78.7h0M243.7 80.3h0M243.8 79.5h0M243.7 74.8h0M244 74.4h0M244.3 81.3h0M244.1 72.9h0M244.5 59.6h0M244.8 80.5h0M244.7 74.5h0M245.3 51.4h0M245.1 82.4h0M245.3 57.9h0M245.5 80.7h0M245.6 81.6h0M245.7 60.2h0M245.4 74.6h0M246.1 66.5h0M246.3 74.1h0M246 63.2h0M246.7 77.1h0M246.6 79.7h0M246.6 77.7h0M247.2 80.6h0M247 82.9h0M247 65.9h0M247 78.3h0M247.7 82.6h0M247.5 56.4h0M247.8 76.2h0M247.9 77.5h0M248.1 75.8h0M248.1 66.5h0M248.8 69.1h0M248.6 77.7h0M248.9 71.7h0M248.9 80.9h0M249.3 77h0M249 78h0M249.1 63.7h0M249.9 73.7h0M249.4 63.5h0M249.7 70.7h0M250.1 57.4h0M250.4 74.1h0M250.2 75h0M250.8 58.5h0M250.6 64h0M250.8 82.4h0M251.3 62.2h0M251 81.1h0M251.3 81.7h0M251.8 81.3h0M251.5 70.9h0M251.8 66.6h0M251.5 73.4h0M252.2 74.8h0M252.4 58.5h0M252.7 76.4h0M252.9 82.1h0M252.6 77.6h0M252.6 76.9h0M253.2 70.3h0M253 74.1h0M253.3 76.7h0M253.3 53.9h0M253.3 78h0M253.3 70.4h0M253.3 71.1h0M253.3 74.1h0M253.3 77.4h0M296.2 52.7h0M296.2 44.1h0M296.2 65.9h0M296.2 46.5h0M296.2 64.1h0M296.2 41.8h0M296.2 61.6h0M296.4 64.7h0M296.2 38.5h0M296.6 64.7h0M296.8 51.3h0M297.4 46.8h0M297.5 62h0M297.3 67.8h0M297.7 56.7h0M297.6 42.9h0M297.7 46.2h0M298.1 67.9h0M298.5 68.6h0M298.2 60.8h0M298.8 67.8h0M298.6 66.1h0M298.7 53.2h0M299.4 59.3h0M299.4 55.2h0M299.4 66.6h0M299.8 52h0M300 69h0M299.9 56.7h0M300.3 66.5h0M300.5 65.2h0M300.5 70.1h0M300.9 57.9h0M300.6 52h0M300.6 71.4h0M301.4 72.8h0M301.1 62.4h0M301.3 72.8h0M301.8 59.6h0M302 43.6h0M302 66.4h0M302.4 69.4h0M302.6 74.1h0M302.5 45.1h0M302.2 67.6h0M303 71.1h0M302.7 76.8h0M302.7 72h0M303 63.6h0M303.5 78.6h0M303.2 63.6h0M303.1 75.4h0M303.5 70.1h0M303.6 77h0M303.6 68.2h0M303.7 76.1h0M304 41h0M304.2 71h0M304.4 75.8h0M304.2 75.8h0M304.5 66.3h0M305 81.4h0M304.6 43.3h0M305 68.3h0M305.2 56.4h0M305.2 51.6h0M305.1 85.4h0M305.7 79.8h0M305.8 77.1h0M305.9 85h0M305.8 76.5h0M306.5 49.2h0M306.1 79.7h0M306.2 84.9h0M306.2 79.2h0M306.8 87.6h0M306.7 78.4h0M307.1 74.1h0M306.8 48.5h0M307.1 80h0M307.3 77.4h0M307.1 82.8h0M307.3 78.7h0M307.6 65.4h0M307.9 63.7h0M307.7 87.1h0M308.4 87.7h0M308.2 79h0M308.4 77.9h0M308.9 53.5h0M308.6 71.2h0M309 73h0M309.3 86.6h0M309.5 81.4h0M309.1 83h0M309.9 72.7h0M309.6 70.7h0M309.9 79.6h0M310.2 60.2h0M310.2 61.3h0M310.2 83.3h0M310.7 88.7h0M310.8 82.3h0M310.8 88.1h0M311 60h0M311.5 85.6h0M311.3 86h0M311.5 83.6h0M311.6 68h0M311.8 86.4h0M311.9 70.7h0M312.5 85.6h0M312.5 87.1h0M312.3 75.5h0M312.7 82.6h0M312.7 77.5h0M313 81.9h0M313.3 88.2h0M313.2 69.2h0M313.1 82.1h0M313.7 67.1h0M313.7 78h0M314 88.3h0M314.1 72.3h0M314.5 82.5h0M314.5 39.2h0M314.7 70.2h0M314.6 89.2h0M314.7 84.3h0M314.9 74.9h0M315.3 82.7h0M315.4 80.2h0M315.4 84.6h0M315.9 83.1h0M315.8 87.4h0M316.1 62.1h0M316.6 84h0M316.5 87.5h0M316.1 73.7h0M316.8 88.7h0M316.8 54h0M317 86h0M317.3 59.1h0M317.6 86.6h0M317.9 39.2h0M317.7 85.1h0M317.8 72h0M317.8 74.2h0M318.6 86.2h0M318.5 77.6h0M318.4 91.3h0M318.4 60.4h0M318.8 83.7h0M318.9 87.2h0M319 86.9h0M319.5 68.2h0M319.5 76.4h0M319.2 85.9h0M319.2 78.5h0M319.7 90.2h0M320 80.1h0M320 86.7h0M319.7 77.8h0M320.4 84.7h0M320.1 71.8h0M320.4 59.4h0M320.4 85.8h0M321 69.8h0M320.7 92.8h0M320.7 91.2h0M321 59.1h0M321.1 94h0M321.2 93h0M321.1 84.8h0M321.3 87.9h0M321.8 63.1h0M321.7 54.9h0M321.6 90h0M322.2 39.7h0M322.3 64.1h0M322.2 84.3h0M322.6 80.7h0M323 73.9h0M322.8 86.6h0M322.8 94.7h0M323.1 85.3h0M323.5 92.5h0M323.3 85.9h0M323.4 69.5h0M323.8 85.4h0M324.1 94.9h0M324 91.4h0M324.4 74.1h0M324.3 84h0M324.2 94.3h0M324.4 94.8h0M324.8 76.1h0M324.7 92h0M325.1 93.2h0M325.3 86h0M325.5 76.9h0M325.8 70.7h0M325.8 84.3h0M325.8 72.9h0M326.2 89.6h0M326.4 92.6h0M326.1 91.3h0M326.5 89.7h0M327 64.7h0M326.8 85.8h0M327 94.5h0M327.2 87h0M327.4 71h0M327.5 86.7h0M328 87.4h0M328 84h0M327.8 76.1h0M328.2 73.1h0M328.2 56.5h0M328.6 65.7h0M328.2 82.9h0M329 94.3h0M329 65.8h0M328.9 88.5h0M329.5 76.1h0M329.1 74h0M329.5 57.7h0M329.5 82.8h0M329.9 67.8h0M329.7 85.7h0M330 86.2h0M329.8 75h0M330.4 83.9h0M330.6 91.7h0M330.5 50.6h0M330.7 88.9h0M331 67.6h0M330.7 85.3h0M331 69.4h0M331.6 82.5h0M331.5 81.8h0M331.4 92.3h0M332.1 74.8h0M331.8 78.3h0M332.1 73h0M332.2 76.4h0M332.2 92.8h0M332.5 86.4h0M332.7 92.2h0M332.8 88.9h0M333.1 60.5h0M333.3 78.2h0M333.6 87.7h0M333.5 92.6h0M333.5 71.3h0M334 55.9h0M333.7 77.1h0M333.7 59.3h0M334.4 87.2h0M334.4 86.7h0M334.3 87.2h0M334.5 73.8h0M334.7 58.4h0M335 86.9h0M335.1 63.2h0M334.9 61.4h0M335.6 68.8h0M335.4 48.5h0M336.1 72h0M335.8 73.1h0M335.7 92h0M336.1 60h0M336.4 86.4h0M336.2 82.9h0M336.5 63.6h0M336.4 87.7h0M337.1 78.5h0M336.8 80.9h0M337.1 87.5h0M336.8 73.5h0M337.6 80.6h0M337.2 60.2h0M337.1 85.6h0M337.7 91.2h0M338.1 83.3h0M338.1 78.8h0M338.4 82.9h0M338.2 82.9h0M338.6 93.5h0M338.9 90.8h0M338.7 75.3h0M338.9 72.1h0M338.8 95.2h0M339 76h0M339 80.9h0M339 88.1h0M339 85.3h0M339 86h0M339 96.1h0M384.8 97h0M384.8 62.5h0M384.8 89.7h0M384.8 72h0M384.8 97h0M384.8 94.8h0M384.8 86.9h0M385.1 81.1h0M384.9 93h0M385 78.1h0M385.3 94h0M385.6 95.5h0M385.6 74h0M385.5 70.1h0M385.7 93.6h0M385.9 68.7h0M385.7 86.9h0M386.2 56h0M386.4 84.6h0M386.4 81.6h0M386.6 97.9h0M387.1 62.8h0M387 100.7h0M386.7 96.9h0M386.9 72.7h0M387.3 98.3h0M387.5 85.2h0M387.3 99.2h0M387.2 62.5h0M388 100.8h0M387.8 83.6h0M387.7 80.1h0M388.5 48.8h0M388.4 44.4h0M388.2 101.6h0M388.3 96.3h0M388.9 84.3h0M389.1 87h0M388.9 94.1h0M389.6 75.4h0M389.3 56.5h0M389.6 96.9h0M389.2 90.5h0M389.7 101.5h0M390 92.9h0M389.8 92.2h0M390 91.5h0M390.5 76.6h0M390.2 94.2h0M390.6 91.4h0M391 99.9h0M390.7 93.7h0M390.8 45.4h0M391.3 85.6h0M391.6 89.1h0M391.3 97.8h0M391.9 97.5h0M391.8 72.9h0M392.1 76.1h0M392 97h0M392.4 89.6h0M392.5 65.7h0M392.5 99.6h0M392.6 101h0M393.1 91.8h0M392.9 81.7h0M392.7 71.5h0M393.1 99h0M393.4 84.4h0M393.2 95.9h0M393.6 80.4h0M393.4 98.3h0M393.9 83.3h0M394.1 98.5h0M393.9 66.9h0M394 64.4h0M394.6 89.9h0M394.4 83h0M394.2 53.6h0M395.1 96.5h0M394.8 95.5h0M395.1 93.6h0M395.4 96.7h0M395.2 60.7h0M395.3 94h0M395.7 92.5h0M396.1 97.5h0M395.8 93.4h0M396.5 89h0M396.2 65.3h0M396.4 75.2h0M396.8 97.8h0M396.8 91.1h0M397 90.2h0M396.8 85.8h0M397.6 83.2h0M397.5 76.5h0M397.4 84.6h0M397.3 75.8h0M398.1 61.3h0M397.7 95.8h0M398.1 95.7h0M398.2 88.9h0M398.6 81.7h0M398.8 101h0M398.7 90.3h0M399.1 97.7h0M398.9 67.4h0M399.2 57.6h0M399.2 93.5h0M399.3 95.9h0M399.8 89.9h0M399.7 100.7h0M399.7 100.5h0M400.5 76h0M400.2 98.9h0M400.6 85h0M400.5 96h0M401 81.7h0M401 85.1h0M400.7 64.9h0M401.4 90.4h0M401.6 99.4h0M401.2 93.5h0M401.5 90.6h0M401.9 89h0M401.9 71.7h0M401.8 83.8h0M401.7 59h0M402.3 85.3h0M402.2 85.6h0M402.3 98h0M402.2 71h0M403 98.9h0M403 82.6h0M402.9 61h0M402.7 76.9h0M403.4 91.7h0M403.6 72.4h0M403.5 92.7h0M403.9 99.6h0M404.1 83.5h0M404 86.9h0M403.8 98.8h0M404.4 90.6h0M404.6 94h0M404.6 86.6h0M404.8 82.8h0M404.7 99.2h0M404.9 91.1h0M405.1 96.2h0M405.3 81.9h0M405.2 86.4h0M405.3 90.4h0M405.9 83.9h0M405.9 98.9h0M405.8 93.7h0M406.1 94.3h0M406.3 94.7h0M406.4 60.8h0M406.4 86h0M406.4 96.2h0M407.1 53.3h0M406.7 74.5h0M406.7 87.9h0M406.7 73.8h0M407.3 81.1h0M407.6 81.9h0M407.2 92.6h0M407.3 83.8h0M408 97.6h0M407.9 88.7h0M408.1 64.2h0M408.2 82.2h0M408.4 83.1h0M408.5 95.5h0M408.8 92.8h0M408.9 98.6h0M408.9 94.3h0M408.7 100.4h0M409.4 99.8h0M409.3 98h0M409.6 76.4h0M410 94.6h0M409.7 65.3h0M409.7 88.4h0M410.4 65.1h0M410.6 90.7h0M410.2 89.2h0M410.6 88.3h0M410.8 44.3h0M410.8 100h0M411.1 60.6h0M411.4 91.3h0M411.5 85.3h0M411.6 99.9h0M411.3 93.1h0M411.9 91.4h0M411.7 83.6h0M411.8 91.8h0M412.2 87.7h0M412.5 71.4h0M412.5 87h0M412.6 87.2h0M412.8 99h0M412.9 64.9h0M412.7 94.7h0M413.1 100h0M413.3 83.9h0M413.2 92.4h0M413.5 96.1h0M413.9 90.4h0M413.8 101.1h0M414.1 79.6h0M413.8 96.8h0M414.4 89.8h0M414.4 91.6h0M414.5 60.8h0M414.2 98.7h0M415 83.5h0M414.8 98.1h0M414.7 84h0M415.4 80.8h0M415.6 101.2h0M415.2 74.6h0M415.2 92.3h0M416 67h0M415.7 90.6h0M415.7 97.7h0M415.9 101.1h0M416.4 85.7h0M416.6 100.9h0M416.2 101.7h0M416.4 76.6h0M417.1 101.1h0M417.1 70.3h0M416.9 90.6h0M417.3 99.4h0M417.6 94.9h0M417.4 85h0M417.4 49.3h0M417.7 98.7h0M417.9 83.1h0M417.9 91.3h0M418 100.1h0M418.6 76.3h0M418.5 94.1h0M418.4 91.1h0M418.2 82.1h0M418.8 62.5h0M418.7 89.3h0M419 83.4h0M418.8 98.6h0M419.3 70.8h0M419.5 63.8h0M419.4 81.7h0M419.5 64.4h0M420 96.5h0M420.1 93.2h0M419.8 98.3h0M420.5 96.6h0M420.5 79.6h0M420.6 94.6h0M421 94.6h0M421 70h0M421.1 79h0M421 75.7h0M421.6 73.4h0M421.4 98.3h0M421.6 64.7h0M421.4 97.3h0M421.8 47.4h0M421.9 93h0M421.7 74.7h0M422.2 71.5h0M422.5 71.8h0M422.3 78.7h0M422.3 99.9h0M422.7 88.9h0M423.1 67.3h0M423 91.5h0M423.2 72.4h0M423.2 66.4h0M423.6 95.9h0M423.6 101h0M423.7 64.9h0M423.9 92.6h0M424.1 75.3h0M424.5 98.5h0M424.2 93.7h0M424.4 83.5h0M424.5 75.2h0M424.8 85.9h0M425 98.7h0M425.1 101h0M424.8 97.7h0M425.5 94.4h0M425.5 59.7h0M425.4 74h0M425.2 91.2h0M425.5 96.7h0M425.5 56.1h0M425.5 61h0M425.5 97.8h0M425.5 52.5h0M425.5 97.2h0M425.5 95.6h0M425.5 89.9h0M467.1 93.5h0M467.1 89.6h0M467.1 81.1h0M467.1 93.1h0M467.1 91.5h0M467.1 91.5h0M467.3 87.5h0M467.4 74.8h0M467.2 75.1h0M467.7 93.5h0M467.7 66.9h0M467.5 81h0M468.2 56.2h0M468.2 92.2h0M468.3 89.6h0M468.2 77.8h0M468.9 65.4h0M468.7 80.5h0M468.7 81.9h0M469.2 90h0M469.2 85.6h0M469.9 81.9h0M469.6 77.1h0M469.6 89.6h0M470.1 86h0M470.2 93.5h0M470.4 55.5h0M470.3 86.3h0M470.8 80.8h0M470.7 90.9h0M470.7 64.3h0M471.1 49.1h0M471.2 78.4h0M471.3 93.3h0M471.4 52.7h0M471.8 86.6h0M471.6 79.6h0M471.9 80.4h0M471.8 86.2h0M472.1 60.8h0M472.4 74.3h0M472.4 91.1h0M472.9 64.8h0M473 83.9h0M472.6 87.6h0M472.5 82.8h0M473.1 85.2h0M473.2 87.1h0M473.2 92h0M473.3 75.2h0M473.8 80.9h0M473.8 85.8h0M473.8 56.6h0M473.5 86.7h0M474 92.9h0M474.2 92.2h0M474.2 81.7h0M474.1 79.5h0M474.5 88.9h0M474.8 45.2h0M474.9 70.1h0M474.6 84.3h0M475.4 74.7h0M475.1 52.1h0M475.2 67.7h0M475.1 70.7h0M475.9 81.3h0M476 92.9h0M475.9 82.4h0M476.4 70.6h0M476.2 88.4h0M476.1 66.4h0M476.3 91.6h0M476.5 83.5h0M476.8 86.6h0M476.8 78.2h0M477.4 95.5h0M477 90.1h0M477.5 92.1h0M477.9 87.2h0M477.6 80.9h0M477.5 92.4h0M478.2 94.7h0M478.4 55.2h0M478.7 93.8h0M478.8 87.4h0M478.5 79.2h0M478.7 83.9h0M479.4 92h0M479 67.1h0M479.2 79.1h0M479.9 93.5h0M480 85.4h0M479.5 90.6h0M479.9 81.9h0M480.3 88.2h0M480.1 69.7h0M480.4 86.4h0M480.2 65.7h0M480.9 83.1h0M480.6 92.5h0M480.7 67.6h0M480.5 93.7h0M481.5 85.1h0M481.2 62.4h0M481.3 86.6h0M481.1 83.3h0M481.6 51.7h0M481.7 72.8h0M481.6 88.2h0M482.5 90.9h0M482.4 90.7h0M482.5 51.1h0M482.5 66h0M482.5 77.7h0M483 75.7h0M483.5 45.5h0M483.4 67.5h0M483.4 88.2h0M483.3 94.6h0M483.8 86.4h0M483.9 92.9h0M483.7 76.5h0M484.4 74.3h0M484.1 86.7h0M484 62.6h0M484.7 95.9h0M484.8 73.7h0M484.9 67.6h0M485 70.2h0M485.1 65.1h0M485.4 90.3h0M485.3 86.2h0M485.6 90.6h0M485.8 80.7h0M485.8 80.6h0M486.3 46.8h0M486.3 95.7h0M486.3 83.2h0M486.6 95.4h0M487 95.4h0M486.9 90.8h0M486.8 91.9h0M487.1 71.5h0M487 92.4h0M487.5 94.5h0M487.2 94.4h0M487.5 93.4h0M487.7 91.1h0M488 93.4h0M488.1 95.3h0M488.3 84.9h0M488.1 66.5h0M488 78.8h0M489 94h0M488.8 84.6h0M488.6 87.8h0M488.8 89.6h0M489.5 86.2h0M489.5 86.5h0M489.4 86h0M489.1 91.8h0M489.8 59.5h0M489.9 82h0M489.8 82.9h0M489.8 75h0M490.5 93.8h0M490.3 74.9h0M490.1 66.7h0M490.7 83.2h0M490.8 69.1h0M490.9 69.5h0M490.6 65.6h0M491.1 89.1h0M491.2 84.4h0M491.4 81.4h0M491.1 79.1h0M491.9 78.9h0M491.6 85.1h0M491.7 51.7h0M492.3 92.1h0M492.3 92h0M492.3 70.1h0M492.1 78.9h0M492.7 66.9h0M492.6 62.2h0M492.6 86.3h0M493.5 42.3h0M493.1 90.3h0M493.7 93.4h0M493.7 90.9h0M493.8 86.9h0M494 92.6h0M494.1 78.9h0M494.4 72.4h0M494.5 85h0M494.7 92.3h0M494.9 85.8h0M494.9 89.6h0M495 55.3h0M495.3 78.5h0M495.4 47.2h0M495.2 93.8h0M496 87.3h0M495.9 88.5h0M495.8 83h0M496.1 77.9h0M496.5 78.4h0M496.5 71.3h0M496.6 90.5h0M496.7 93.2h0M496.7 59.7h0M496.9 86.3h0M497.2 72.6h0M497.2 91.3h0M497.3 43.4h0M497.4 75.7h0M497.6 78.1h0M497.8 85.7h0M497.6 80.1h0M498.3 90.8h0M498.5 95h0M498.5 87.4h0M498.7 91.4h0M498.8 81.7h0M498.6 81.4h0M498.6 89.4h0M499.2 90.6h0M499.5 82.4h0M499.5 94h0M499.7 92.8h0M499.8 94.5h0M499.8 83.4h0M500.5 83.3h0M500.4 92.8h0M500.1 77.6h0M500.7 62.2h0M500.8 88.9h0M500.8 90h0M501.2 86.3h0M501.1 87.3h0M501.3 76.7h0M501.3 52.7h0M501.9 86.8h0M501.6 93h0M501.9 96h0M501.9 93.7h0M501.9 65.8h0M501.9 60.6h0M501.9 70.6h0M501.9 94.1h0M534.3 48.8h0M534.3 66h0M534.3 68.1h0M534.3 90.1h0M534.3 81.3h0M534.3 76.5h0M534.3 77h0M534.3 76h0M534.4 77.6h0M534.6 62.2h0M534.5 73.4h0M534.6 89.5h0M534.8 52h0M535 69.8h0M535.1 68.4h0M535.6 87.5h0M535.4 79.6h0M535.2 65.5h0M535.4 94.4h0M535.7 69.1h0M535.8 65h0M536 93h0M535.9 79.1h0M536.6 84.1h0M536.4 85.5h0M536.4 86.7h0M537 94h0M537 58.5h0M536.8 84.7h0M537.4 94.4h0M537.6 65.9h0M537.5 92.9h0M537.4 72.5h0M537.8 92.6h0M538 85.4h0M537.8 87.1h0M538.4 88.2h0M538.4 91.6h0M538.3 77.9h0M538.7 85.1h0M538.8 48.5h0M539.1 83.6h0M539.3 93.3h0M539.6 91.9h0M539.2 83.9h0M539.4 89.7h0M540.1 88.5h0M539.8 85.4h0M539.7 80.9h0M540 83.4h0M540.3 82h0M540.5 74h0M540.5 59.4h0M540.3 90.4h0M540.7 69.5h0M540.8 85.3h0M541.1 84h0M541.6 73.5h0M541.5 88.1h0M541.4 86h0M541.8 77.2h0M541.8 67h0M542.1 87.4h0M542.2 50.2h0M542.3 49.2h0M542.6 92.4h0M542.6 90.4h0M542.9 91.4h0M542.9 92h0M543 87.3h0M543.2 83.7h0M543.6 91.1h0M543.5 62h0M543.3 83.2h0M543.8 90.7h0M543.8 80.7h0M544 73.6h0M543.7 69.4h0M544.5 84.5h0M544.5 90.7h0M544.5 87.2h0M544.8 92.6h0M544.7 75.1h0M545 80.7h0M545.4 89.1h0M545.6 85.6h0M545.4 93.7h0M545.8 82.1h0M545.8 91.4h0M545.9 62.9h0M546.1 64.8h0M546.2 83.2h0M546.5 56.5h0M546.4 92.9h0M546.5 84.9h0M547 60.6h0M547.1 93.4h0M546.8 64h0M547.1 76.9h0M547.6 93.3h0M547.6 90.3h0M547.4 78h0M548.2 71.3h0M548 49.3h0M548 75.5h0M548.4 84.4h0M548.3 90.7h0M548.6 67.9h0M548.5 77.3h0M549 82h0M548.9 93.9h0M548.8 44.7h0M548.7 85.1h0M549.2 69.4h0M549.6 71.3h0M549.3 65.3h0M549.4 56.1h0M550 51.3h0M549.8 77.6h0M549.8 93.7h0M550.1 92.2h0M550.5 49h0M550.6 90.5h0M550.5 88.1h0M550.6 92.4h0M551 81.1h0M550.8 87.4h0M551.1 87.8h0M551.3 91h0M551.2 84h0M551.4 92.4h0M551.8 61.9h0M552.1 73.3h0M552 87.5h0M552.7 85.7h0M552.7 88.3h0M552.4 87.3h0M553.1 77.5h0M552.8 75.9h0M553 74.3h0M553.5 90.6h0M553.6 70.5h0M553.2 76.5h0M554 87.6h0M553.9 84.9h0M554 81.1h0M553.8 60.9h0M554.3 88.7h0M554.7 64.9h0M554.4 89.7h0M554.6 58.6h0M554.7 86h0M555 87h0M555.4 86.3h0M555.3 74.3h0M555.4 88.6h0M555.3 89.1h0M556.2 67.2h0M556.1 89.3h0M556 63.8h0M556.1 84.9h0M556.7 88.7h0M556.7 85.8h0M556.2 69.6h0M556.5 87.9h0M557.1 73.5h0M557 85.2h0M557.2 85.6h0M557.1 74.9h0M557.7 87.8h0M557.5 67.4h0M557.5 76.1h0M557.9 77.9h0M557.8 78.4h0M558 88.5h0M558.3 70.5h0M558.5 78.4h0M558.5 76.2h0M559.2 71.4h0M559.1 77.7h0M558.8 71.8h0M559.4 82h0M559.4 77.8h0M559.4 68.7h0M559.8 50.4h0M560.2 72.9h0M560.2 80.2h0M560.3 80.9h0M560.4 63.2h0M560.5 80.2h0M561.2 54.1h0M560.8 65.3h0M560.7 79.3h0M561.3 79.4h0M561.3 76.1h0M561.4 70.3h0M561.6 81.2h0M562.1 84.2h0M562.2 64.8h0M561.9 79.7h0M561.8 67.8h0M562.5 68.9h0M562.4 83h0M562.7 76h0M562.8 70.3h0M563.1 63.5h0M562.8 63.4h0M563.5 81.4h0M563.3 80.8h0M563.7 79.3h0M563.4 60h0M563.8 78.6h0M564.1 74.3h0M564.1 79.6h0M564.4 57.6h0M564.3 79.5h0M564.5 62h0M564.9 76.2h0M565.2 76h0M564.8 62.2h0M565.5 78.1h0M565.6 74.5h0M565.6 60.8h0M566.1 77.6h0M565.7 61.5h0M566.2 52.5h0M566 71.9h0M566.5 63.1h0M566.5 57.2h0M567 66.4h0M566.9 71.8h0M566.9 74.1h0M567.2 58.2h0M567.3 51h0M567.6 67.1h0M567.4 56h0M568.1 63.9h0M567.8 71.1h0M567.9 65.2h0M568.1 61.5h0M568.1 65h0M568.1 74.8h0M568.1 63.7h0M568.1 75.1h0M568.1 58.3h0M604.9 103h0M604.9 110.9h0M604.9 107h0M604.9 107.4h0M604.9 112.4h0M604.9 94.9h0M604.9 112.3h0M604.9 112h0M605 110h0M604.9 111.6h0M605.2 106.4h0M605.6 92.3h0M605.5 99.6h0M605.5 97h0M605.9 86h0M606.1 104.2h0M605.9 64.7h0M606 103.5h0M606.7 104.9h0M606.5 108.2h0M606.6 106.4h0M606.3 90.2h0M607.1 107.7h0M606.9 94.7h0M606.9 106.9h0M607.2 105h0M607.5 88h0M607.4 101.5h0M607.8 101.4h0M607.9 102.4h0M607.9 83.2h0M607.8 100.1h0M608 93h0M608.7 90.8h0M608.4 104.5h0M608.3 96h0M609 90.1h0M608.8 101.7h0M609.2 96.7h0M609.6 105.8h0M609.7 98.3h0M609.8 99.8h0M609.5 78.2h0M610 94h0M610.2 82.4h0M609.9 82.4h0M610.1 96.5h0M610.7 105.4h0M610.4 97.2h0M610.6 78.4h0M610.7 86.6h0M610.8 70.2h0M610.9 99.1h0M610.9 90.6h0M611.4 102h0M611.5 93.1h0M611.3 95.3h0M611.4 93.5h0M611.9 102.5h0M611.9 96.1h0M611.9 94.6h0M612.3 84.7h0M612.8 101.9h0M612.7 101.7h0M612.6 83h0M612.4 71.7h0M613.3 69.2h0M613 76h0M613.3 92.5h0M613.3 98.1h0M613.4 99h0M613.5 64.9h0M613.8 96.1h0M613.9 93.9h0M614 95.5h0M614.1 60.1h0M614.4 97.1h0M614.4 69.2h0M614.6 79.6h0M615.1 75.8h0M615.3 89.6h0M615 63.6h0M615.7 82.5h0M615.7 100.5h0M615.4 80.7h0M616.1 99.7h0M616.3 99.1h0M616.4 93.1h0M616.1 82h0M616.7 92.9h0M616.8 72.9h0M616.4 95.2h0M616.7 85.3h0M617.3 78.1h0M617.3 87.2h0M617.3 99.1h0M617.5 100.1h0M617.5 87h0M617.5 62.5h0M618.3 92.2h0M618.3 96.9h0M618.2 83.9h0M618.3 60.9h0M618.4 91.5h0M618.7 99.1h0M618.7 100.8h0M619.3 96.2h0M619.3 77.2h0M619.2 94.7h0M619.4 90.2h0M619.4 70.7h0M619.7 101.6h0M620.2 83.7h0M620.4 100.8h0M620.4 88.3h0M620.8 94.1h0M620.7 63.9h0M620.6 101.9h0M621 96.3h0M621 94.1h0M621 93.7h0M621.9 98.8h0M621.7 100.6h0M621.5 87.6h0M622.2 90.3h0M622.2 98.6h0M622.2 76.1h0M622.9 95.2h0M622.7 100.1h0M622.6 90.7h0M622.5 100.8h0M623.1 91.8h0M622.9 91.9h0M623.3 99.1h0M623.6 96.9h0M623.6 98.8h0M623.8 89.6h0M624.4 73.4h0M624 88.1h0M624.3 97.8h0M624.4 97.9h0M624.9 99.2h0M624.7 92.7h0M624.5 87.3h0M624.6 94.3h0M625.3 79h0M625.2 97.6h0M625 65.6h0M625.9 87.5h0M625.8 100.6h0M625.7 92.3h0M625.5 75.1h0M626.3 96.2h0M626.2 83.9h0M626.3 99.2h0M626.8 90.5h0M626.6 60.3h0M626.9 85.7h0M627.1 69.8h0M627.3 58.7h0M627.4 51.9h0M627.1 81.2h0M627.9 90.6h0M627.9 95.5h0M627.7 99.6h0M627.5 100.9h0M628.3 102.6h0M628.2 89.6h0M628.2 80.8h0M628 87.1h0M628.6 103.1h0M628.5 76.7h0M628.7 90.6h0M628.9 87.6h0M629.5 56.3h0M629.5 96.3h0M629.1 83.2h0M629.9 93.1h0M629.9 102.1h0M629.8 87.9h0M629.7 96.2h0M630.2 86h0M630.4 86.1h0M630 102.4h0M630.1 63.8h0M630.6 96.5h0M630.7 103.6h0M630.5 90.9h0M631.4 99.2h0M631.1 84.4h0M631.2 96.7h0M631.1 86.6h0M631.6 94.2h0M631.9 96.1h0M631.5 94.2h0M631.8 98h0M632.3 97.2h0M632.1 97.7h0M632 74.8h0M632.1 70.8h0M632.7 93.1h0M633 90.4h0M632.5 98.8h0M633 101.1h0M633.2 84.7h0M633.4 98.9h0M633.5 92.6h0M633.9 98.8h0M633.8 71.3h0M633.6 82.9h0M633.7 90.3h0M634.1 100h0M634.4 100.5h0M634.5 87.4h0M634.9 104.3h0M634.9 101.1h0M634.7 95.8h0M634.6 104.8h0M635.5 96.8h0M635.3 82.3h0M635.8 98.5h0M636 104.9h0M635.8 103.4h0M635.7 101.2h0M636.1 101h0M636.4 90.3h0M636.4 104.6h0M636.2 104.2h0M636.4 99.5h0M636.4 73h0M636.4 93.8h0M636.4 101.7h0M636.4 75.2h0M636.4 96.7h0M636.4 99.6h0M636.4 97.9h0"/>
<path stroke="#fff" stroke-width="1.5" stroke-linecap="round" fill="none" d="M72.3 91.6h0M79.3 90.8h0M109.8 97h0M76.3 107.5h0M115.3 87.9h0M106.3 93.6h0M102.8 93.2h0M76.3 93.2h0M94.8 98h0M67.3 98.5h0M113.8 89.7h0M98.3 90.5h0M97.3 90.7h0M152.8 103h0M151.3 111.5h0M147.8 104.7h0M121.3 92.5h0M147.3 114.6h0M128.8 102h0M162.3 125.5h0M130.8 91.9h0M119.8 95.3h0M145.8 110.5h0M132.3 96.4h0M191.4 110h0M186.4 104.5h0M198.9 104.5h0M163.8 100.7h0M194.4 106.8h0M184.3 134.8h0M199.4 106.5h0M204.4 112.8h0M190.9 110.3h0M197.9 108h0M185.9 123.1h0M244.1 92.9h0M228.5 93.3h0M212.4 91.1h0M244.6 98.2h0M210.4 88.7h0M236.6 95.1h0M253.7 83.2h0M246.1 91.4h0M234.1 116.8h0M236.6 94.1h0M221.5 89.8h0M254.2 104.4h0M267.2 104.6h0M286.3 119h0M283.3 106.1h0M267.2 114.1h0M261.2 112h0M259.7 107.9h0M276.8 118.2h0M259.7 112.4h0M260.2 102.8h0M333.9 119.9h0M330.9 112.8h0M305.8 88.5h0M336.9 100.8h0M302.3 94.6h0M318.4 93.6h0M298.8 71.8h0M296.3 86.9h0M308.8 95h0M304.8 91.3h0M304.3 84.3h0M364.4 97.2h0M360.9 101h0M375.4 99.4h0M357.9 104.4h0M379.4 119.4h0M363.4 109.3h0M362.9 102.4h0M373.9 102.6h0M348.4 96.8h0M346.9 97.2h0M366.4 92.4h0M412.9 108.1h0M391.9 121h0M387.9 104.7h0M401.9 103.9h0M391.4 104.9h0M404.4 105.1h0M395.9 114.8h0M424.4 115.6h0M402.9 104.4h0M389.4 126.3h0M428.9 90h0M460.2 98.4h0M461.2 96.8h0M462.2 101.5h0M435 110.8h0M432.9 98.8h0M454.6 100.9h0M426.4 112.7h0M429.4 91.8h0M475.7 96.4h0M483.2 100.3h0M472.7 97.7h0M481.2 100.6h0M484.2 113.4h0M484.8 104.9h0M469.2 96.2h0M476.7 116.5h0M474.7 101.6h0M530.9 99.1h0M511.8 124.7h0M527.4 119.3h0M529.4 108h0M532.4 102h0M520.4 106.6h0M519.9 97.9h0M549.4 117.3h0M552.5 101.4h0M538.9 97.8h0M536.9 95.8h0M553.5 98.8h0M537.9 98.4h0M538.4 112.7h0M537.9 115.3h0M573.5 100.3h0M595.5 98.9h0M604 105.8h0M596 89.9h0M595.5 97.2h0M595 91.6h0M584 106.2h0M580 87.9h0M610.6 106h0M612.1 113.4h0M611.1 106.9h0M624.7 102.7h0M626.2 105.2h0M630.2 108h0M626.2 103.9h0M632.3 107.7h0M643.3 94.9h0M666.4 101.4h0M648.8 99.8h0M639.8 98.8h0M647.8 101.7h0M638.8 100h0M637.3 91.7h0"/>
<rect x="339.9" y="30" width="4.3" height="113.8" fill="#fff"/>
<path stroke="#2ca02c" stroke-width="2.9" stroke-linecap="round" d="M341.5 143.3h0M342.8 142h0M341.2 139h0M343 137.2h0M342.1 134.5h0M341 131h0M342.9 128.5h0M342.5 124h0M343.2 120.4h0"/>
<rect x="339.9" y="143.5" width="4.4" height="1.5" fill="#2ca02c"/>
<path stroke="#1f77b4" stroke-width="3.1" stroke-linecap="round" d="M339.8 122.3h0M340.1 117.9h0M339.8 123.6h0M339.5 120.1h0M339.9 133.3h0M339.5 110.3h0M339.5 134.1h0M340.0 98.0h0M340.2 141.3h0"/>
<path stroke="#2ca02c" stroke-width="3.1" stroke-linecap="round" d="M344.7 124.9h0M344.3 96.7h0M344.6 98.8h0M344.4 107.4h0M344.2 117.8h0M344.6 135.6h0M344.6 126.1h0M344.6 127.1h0M344.6 109.1h0"/>
<path stroke="#2a2a2a" stroke-width="1" fill="none" d="M46.5 35.2V143.5M41.4 143.5H46.5M41.4 121.8H46.5M41.4 100.2H46.5M41.4 78.5H46.5M41.4 56.9H46.5M41.4 35.2H46.5"/>
<text x="27.25" y="147.00" font-size="10" textLength="13.90" lengthAdjust="spacingAndGlyphs" >0.0</text>
<text x="27.40" y="125.34" font-size="10" textLength="13.90" lengthAdjust="spacingAndGlyphs" >0.2</text>
<text x="27.20" y="103.68" font-size="10" textLength="13.90" lengthAdjust="spacingAndGlyphs" >0.4</text>
<text x="27.30" y="82.02" font-size="10" textLength="13.90" lengthAdjust="spacingAndGlyphs" >0.6</text>
<text x="27.30" y="60.36" font-size="10" textLength="13.90" lengthAdjust="spacingAndGlyphs" >0.8</text>
<text x="27.25" y="38.70" font-size="10" textLength="13.90" lengthAdjust="spacingAndGlyphs" >1.0</text>
<g transform="translate(14.6,131.9) rotate(-90)">
<text x="0" y="0" font-size="10.5" textLength="73.4" lengthAdjust="spacingAndGlyphs"><tspan font-style="italic">Fst</tspan> (CT vs CSS)</text>
</g>
<path stroke="#000" stroke-width="1.5" stroke-dasharray="4.4 4.31" d="M46.4 93.3H685"/>
<text x="64.50" y="112.90" font-size="10.6" textLength="118.82" lengthAdjust="spacingAndGlyphs" >Top 5% Threshold: 0.4654</text>
<polygon fill="#2ca02c" points="62.2,268.8 62.2,236.7 62.8,236.7 63.3,236.7 63.8,236.7 64.3,236.8 64.8,236.8 65.3,236.8 65.8,236.9 66.3,236.9 66.8,236.9 67.3,236.8 67.8,236.6 68.3,236.4 68.8,236.2 69.3,235.9 69.8,235.7 70.3,235.5 70.8,235.5 71.3,235.4 71.8,235.2 72.3,235 72.8,234.8 73.3,234.6 73.8,234.4 74.3,234.2 74.8,234.2 75.3,234.2 75.8,234.2 76.4,234.2 76.9,234.3 77.4,234.3 77.9,234.4 78.4,234.4 78.9,234.4 79.4,234.4 79.9,234.5 80.4,234.6 80.9,234.8 81.4,234.9 81.9,235 82.4,235.1 82.9,235.1 83.4,235.2 83.9,235.4 84.4,235.8 84.9,236.1 85.4,236.5 85.9,236.9 86.4,237.1 86.9,237.2 87.4,237 87.9,236.5 88.4,235.7 88.9,234.9 89.4,234.1 89.9,233.4 90.4,232.9 90.9,232.7 91.4,232.8 91.9,233 92.4,233.3 92.9,233.7 93.4,234 93.9,234.4 94.4,234.6 94.9,234.7 95.4,234.5 95.9,234.2 96.4,233.8 96.9,233.4 97.4,232.9 97.9,232.5 98.4,232.2 98.9,232.1 99.4,232.3 99.9,232.8 100.4,233.6 100.9,234.5 101.4,235.3 102,236.1 102.5,236.6 103,236.8 103.5,236.6 104,236 104.5,235.2 105,234.3 105.5,233.4 106,232.5 106.5,232 107,231.7 107.5,231.8 108,231.9 108.5,232.1 109,232.3 109.5,232.5 110,232.7 110.5,232.8 111,232.8 111.5,232.9 112,233 112.5,233.2 113,233.4 113.5,233.6 114,233.8 114.5,233.9 115,233.9 115,268.8"/>
<polygon fill="#1f77b4" points="114.4,268.8 114.4,234.8 115,234.8 115.5,234.8 116,234.8 116.5,234.8 117,234.7 117.5,234.7 118,234.7 118.5,234.7 119,234.7 119.5,234.6 120,234.4 120.5,234.2 121,233.9 121.5,233.6 122,233.4 122.5,233.2 123,233.1 123.5,233.2 124,233.2 124.5,233.3 125,233.4 125.5,233.5 126,233.6 126.5,233.7 127,233.7 127.5,233.6 128,233.5 128.5,233.2 129,232.9 129.5,232.7 130,232.4 130.5,232.3 131,232.2 131.5,232.1 132,232 132.5,231.8 133,231.5 133.5,231.2 134,231 134.5,230.8 135,230.8 135.5,230.9 136,231.2 136.5,231.7 137,232.3 137.5,232.8 138,233.3 138.5,233.7 139,233.8 139.5,233.7 140,233.3 140.5,232.7 141,232.1 141.5,231.5 142,230.9 142.5,230.6 143,230.4 143.5,230.4 144,230.5 144.5,230.5 145,230.6 145.5,230.6 146,230.7 146.5,230.7 147,230.7 147.5,230.9 148,231.3 148.5,231.8 149,232.5 149.5,233.1 150,233.7 150.5,234.1 151,234.2 151.5,234.1 152,233.9 152.5,233.5 153,233.1 153.5,232.7 154,232.4 154.5,232.2 155,232.1 155.5,232.2 156,232.4 156.5,232.7 157,233.1 157.5,233.5 158,233.9 158.5,234.1 159,234.2 159.5,234.2 160,234.3 160.5,234.4 161,234.6 161.5,234.7 162,234.8 162,268.8"/>
<polygon fill="#2ca02c" points="161.4,268.8 161.4,238.3 162,238.3 162.5,238.1 163,237.8 163.5,237.4 164,236.8 164.5,236.3 165,235.8 165.5,235.5 166,235.4 166.5,235.3 167,235.2 167.5,234.9 168,234.6 168.5,234.3 169,234 169.5,233.9 170,233.8 170.5,234 171,234.4 171.5,234.9 172,235.6 172.5,236.2 173,236.8 173.6,237.2 174.1,237.3 174.6,237.2 175.1,236.8 175.6,236.2 176.1,235.5 176.6,234.9 177.1,234.3 177.6,233.9 178.1,233.7 178.6,233.9 179.1,234.4 179.6,235 180.1,235.8 180.6,236.5 181.1,237.2 181.6,237.7 182.1,237.8 182.6,237.7 183.1,237.3 183.6,236.7 184.1,236.1 184.6,235.4 185.1,234.9 185.6,234.5 186.1,234.3 186.6,234.5 187.1,235 187.6,235.7 188.1,236.4 188.6,237.2 189.1,237.9 189.6,238.4 190.1,238.6 190.6,238.5 191.1,238.4 191.6,238.2 192.1,237.9 192.6,237.7 193.1,237.5 193.6,237.4 194.1,237.3 194.6,237.3 195.1,237.3 195.7,237.3 196.2,237.4 196.7,237.4 197.2,237.4 197.7,237.4 198.2,237.4 198.7,237.3 199.2,237.1 199.7,236.8 200.2,236.5 200.7,236.2 201.2,235.9 201.7,235.7 202.2,235.6 202.7,235.7 203.2,235.8 203.7,236 204.2,236.2 204.7,236.4 205.2,236.6 205.7,236.7 206.2,236.8 206.7,236.8 206.7,268.8"/>
<polygon fill="#1f77b4" points="206.1,268.8 206.1,231.5 206.7,231.5 207.2,231.5 207.7,231.7 208.2,232.1 208.7,232.5 209.2,232.8 209.7,233.2 210.2,233.4 210.7,233.4 211.2,233.2 211.7,232.7 212.2,232.1 212.7,231.3 213.2,230.6 213.7,230 214.2,229.5 214.8,229.3 215.3,229.2 215.8,229.3 216.3,229.3 216.8,229.5 217.3,229.6 217.8,229.7 218.3,229.7 218.8,229.7 219.3,229.5 219.8,229.3 220.3,229 220.8,228.8 221.3,228.5 221.8,228.2 222.3,228 222.8,227.9 223.3,227.7 223.8,227.5 224.3,227.3 224.8,227.1 225.3,226.8 225.8,226.6 226.3,226.4 226.8,226.3 227.3,226.2 227.8,226.3 228.3,226.5 228.8,226.6 229.3,226.8 229.9,227 230.4,227.3 230.9,227.4 231.4,227.5 231.9,227.6 232.4,227.7 232.9,227.9 233.4,228 233.9,228.1 234.4,228.2 234.9,228.3 235.4,228.5 235.9,228.8 236.4,229.2 236.9,229.7 237.4,230.1 237.9,230.6 238.4,230.9 238.9,231.1 239.4,231.2 239.9,231.3 240.4,231.4 240.9,231.5 241.4,231.6 241.9,231.8 242.4,231.9 242.9,232 243.4,232 243.9,232.1 244.4,232.1 245,232.1 245.5,232.1 246,232.1 246.5,232.1 247,232.2 247.5,232.2 248,232 248.5,231.7 249,231.4 249.5,231 250,230.8 250.5,230.6 251,230.6 251.5,230.7 252,230.9 252.5,231.2 252.5,268.8"/>
<polygon fill="#2ca02c" points="251.9,268.8 251.9,235.3 252.5,235.3 253,235.4 253.5,235.5 254,235.8 254.5,236.1 255,236.5 255.5,236.7 256,236.9 256.5,237 257,237 257.5,236.9 258,236.9 258.5,236.9 259,236.8 259.5,236.8 260,236.8 260.5,236.8 261,236.8 261.5,236.8 262,236.9 262.6,237.1 263.1,237.2 263.6,237.3 264.1,237.3 264.6,237.3 265.1,237.2 265.6,236.8 266.1,236.3 266.6,235.6 267.1,235 267.6,234.5 268.1,234.1 268.6,233.9 269.1,233.9 269.6,233.8 270.1,233.8 270.6,233.7 271.1,233.6 271.6,233.5 272.1,233.4 272.6,233.4 273.1,233.6 273.6,234 274.1,234.7 274.6,235.6 275.1,236.4 275.6,237.1 276.1,237.5 276.6,237.7 277.1,237.6 277.6,237.3 278.1,236.9 278.6,236.4 279.1,236 279.6,235.6 280.1,235.3 280.6,235.2 281.1,235.2 281.6,235.5 282.1,235.8 282.6,236.2 283.2,236.5 283.7,236.9 284.2,237.1 284.7,237.2 285.2,237.1 285.7,236.9 286.2,236.6 286.7,236.3 287.2,236 287.7,235.8 288.2,235.6 288.7,235.5 289.2,235.5 289.7,235.5 290.2,235.5 290.7,235.4 291.2,235.4 291.7,235.4 292.2,235.4 292.7,235.4 292.7,268.8"/>
<polygon fill="#1f77b4" points="292.1,268.8 292.1,231.1 292.7,231.1 293.2,231.1 293.7,231.1 294.2,231.2 294.7,231.3 295.2,231.5 295.7,231.6 296.2,231.6 296.7,231.6 297.2,231.6 297.7,231.7 298.2,231.7 298.7,231.8 299.2,231.9 299.7,231.9 300.2,232 300.8,232 301.3,232 301.8,232.1 302.3,232.3 302.8,232.5 303.3,232.7 303.8,232.8 304.3,233 304.8,233 305.3,232.9 305.8,232.8 306.3,232.7 306.8,232.5 307.3,232.4 307.8,232.2 308.3,232.1 308.8,232 309.3,232 309.8,231.9 310.3,231.7 310.8,231.5 311.3,231.3 311.8,231.2 312.3,231.1 312.8,231 313.3,231 313.8,231.2 314.3,231.4 314.8,231.6 315.4,231.8 315.9,232 316.4,232.2 316.9,232.2 317.4,232.1 317.9,231.9 318.4,231.7 318.9,231.4 319.4,231.1 319.9,230.9 320.4,230.7 320.9,230.6 321.4,230.6 321.9,230.8 322.4,231 322.9,231.3 323.4,231.6 323.9,231.8 324.4,232 324.9,232 325.4,231.9 325.9,231.6 326.4,231.2 326.9,230.7 327.4,230.2 327.9,229.8 328.4,229.5 328.9,229.3 329.4,229.5 329.9,230 330.4,230.8 331,231.7 331.5,232.6 332,233.3 332.5,233.9 333,234.1 333.5,233.8 334,233.3 334.5,232.6 335,231.8 335.5,231 336,230.3 336.5,229.8 337,229.6 337.5,229.6 338,229.6 338,268.8"/>
<polygon fill="#2ca02c" points="337.4,268.8 337.4,237.3 338,237.3 338.5,237.1 339,236.8 339.5,236.4 340,235.9 340.5,235.4 341,235 341.5,234.7 342,234.5 342.5,234.6 343,234.7 343.5,234.9 344,235.2 344.5,235.4 345,235.6 345.5,235.8 346,235.8 346.5,235.9 347,236.2 347.5,236.5 348,236.9 348.5,237.3 349,237.7 349.5,237.9 350,238 350.5,238 351,238 351.5,238 352,238 352.5,238 353,238 353.5,238 354,238 354.5,238 355,238 355.5,238.1 356,238.1 356.5,238.2 357,238.3 357.5,238.3 358,238.3 358.5,238.2 359,238.1 359.5,237.9 360.1,237.6 360.6,237.4 361.1,237.2 361.6,237 362.1,237 362.6,237 363.1,236.9 363.6,236.8 364.1,236.6 364.6,236.5 365.1,236.4 365.6,236.3 366.1,236.3 366.6,236.2 367.1,235.8 367.6,235.3 368.1,234.8 368.6,234.2 369.1,233.7 369.6,233.4 370.1,233.3 370.6,233.3 371.1,233.3 371.6,233.4 372.1,233.5 372.6,233.6 373.1,233.6 373.6,233.7 374.1,233.7 374.6,233.8 375.1,234 375.6,234.3 376.1,234.6 376.6,235 377.1,235.3 377.6,235.5 378.1,235.5 378.6,235.5 379.1,235.4 379.6,235.3 380.1,235.2 380.6,235.1 381.1,235 381.6,234.9 381.6,268.8"/>
<polygon fill="#1f77b4" points="381,268.8 381,234.9 381.6,234.9 382.1,234.8 382.6,234.7 383.1,234.5 383.6,234.2 384.1,234 384.6,233.8 385.1,233.7 385.6,233.6 386.1,233.7 386.6,233.8 387.1,233.9 387.6,234.1 388.1,234.3 388.6,234.5 389.1,234.6 389.6,234.6 390.1,234.5 390.6,234.3 391.1,234 391.6,233.6 392.2,233.3 392.7,233 393.2,232.7 393.7,232.7 394.2,232.7 394.7,232.8 395.2,233 395.7,233.3 396.2,233.5 396.7,233.7 397.2,233.8 397.7,233.9 398.2,233.7 398.7,233.3 399.2,232.7 399.7,232.1 400.2,231.4 400.7,230.8 401.2,230.4 401.7,230.2 402.2,230.3 402.7,230.3 403.2,230.5 403.7,230.6 404.2,230.7 404.7,230.8 405.2,230.9 405.7,230.9 406.2,231 406.7,231.3 407.2,231.7 407.7,232.1 408.2,232.6 408.7,233 409.2,233.2 409.7,233.3 410.2,233.3 410.7,233.2 411.2,233 411.7,232.8 412.2,232.7 412.7,232.5 413.2,232.4 413.8,232.4 414.3,232.5 414.8,232.7 415.3,233.1 415.8,233.6 416.3,234 416.8,234.4 417.3,234.7 417.8,234.8 418.3,234.8 418.8,234.8 419.3,234.9 419.8,234.9 420.3,234.9 420.8,234.9 421.3,234.9 421.8,234.9 422.3,234.8 422.8,234.3 423.3,233.6 423.8,232.9 423.8,268.8"/>
<polygon fill="#2ca02c" points="423.2,268.8 423.2,235.8 423.8,235.8 424.3,235.8 424.8,235.9 425.3,235.9 425.8,235.9 426.3,236 426.8,236 427.3,236 427.8,236 428.3,236 428.8,236 429.3,236 429.8,236 430.3,236 430.9,236 431.4,236 431.9,236 432.4,235.9 432.9,235.9 433.4,235.8 433.9,235.7 434.4,235.6 434.9,235.5 435.4,235.5 435.9,235.4 436.4,235.5 436.9,235.9 437.4,236.3 437.9,236.8 438.4,237.3 438.9,237.7 439.4,238 439.9,238.2 440.4,238.1 440.9,238 441.4,237.9 441.9,237.7 442.4,237.5 442.9,237.4 443.4,237.3 444,237.2 444.5,237.2 445,237.1 445.5,237 446,236.8 446.5,236.7 447,236.5 447.5,236.4 448,236.4 448.5,236.4 449,236.3 449.5,236.2 450,236.1 450.5,236 451,235.9 451.5,235.8 452,235.8 452.5,235.8 453,236 453.5,236.3 454,236.6 454.5,236.9 455,237.1 455.5,237.3 456,237.4 456.5,237.4 457.1,237.5 457.6,237.5 458.1,237.6 458.6,237.6 459.1,237.7 459.6,237.7 460.1,237.7 460.6,237.6 461.1,237.5 461.6,237.2 462.1,237 462.6,236.7 463.1,236.5 463.6,236.3 463.6,268.8"/>
<polygon fill="#1f77b4" points="463,268.8 463,231.5 463.6,231.5 464.1,231.6 464.6,231.7 465.1,232 465.6,232.3 466.1,232.5 466.6,232.8 467.1,233 467.6,233 468.1,233 468.7,232.9 469.2,232.7 469.7,232.5 470.2,232.3 470.7,232.1 471.2,232 471.7,231.9 472.2,232 472.7,232.1 473.2,232.2 473.7,232.4 474.2,232.6 474.7,232.8 475.2,232.9 475.7,233 476.2,233.1 476.7,233.3 477.2,233.7 477.8,234.1 478.3,234.6 478.8,234.9 479.3,235.2 479.8,235.3 480.3,235.1 480.8,234.7 481.3,234.1 481.8,233.4 482.3,232.7 482.8,232.1 483.3,231.7 483.8,231.5 484.3,231.6 484.8,231.8 485.3,232.1 485.8,232.4 486.3,232.8 486.9,233.1 487.4,233.3 487.9,233.4 488.4,233.3 488.9,233.3 489.4,233.1 489.9,233 490.4,232.8 490.9,232.7 491.4,232.6 491.9,232.6 492.4,232.7 492.9,233 493.4,233.4 493.9,233.9 494.4,234.3 494.9,234.7 495.4,235 496,235.1 496.5,235 497,234.6 497.5,234.1 498,233.6 498.5,233 499,232.5 499.5,232.1 500,232 500.5,232.1 500.5,268.8"/>
<polygon fill="#2ca02c" points="499.9,268.8 499.9,240.5 500.5,240.5 501,240.4 501.5,240.2 502,239.9 502.5,239.5 503,239.1 503.5,238.8 504,238.5 504.5,238.4 505,238.5 505.5,238.5 506,238.6 506.5,238.7 507,238.8 507.5,238.9 508,238.9 508.5,239 509,238.9 509.5,238.6 510,238.3 510.5,237.8 511,237.4 511.5,237.1 512,236.8 512.5,236.7 513,236.8 513.5,237 514,237.3 514.5,237.7 515,238 515.5,238.3 516,238.5 516.5,238.6 517,238.7 517.5,238.9 518,239.2 518.5,239.5 519,239.9 519.5,240.1 520,240.3 520.5,240.4 521,240.3 521.5,240.1 522,239.8 522.5,239.5 523,239.2 523.5,238.9 524,238.7 524.5,238.6 525,238.7 525.5,238.9 526,239.2 526.5,239.6 527,239.9 527.5,240.3 528,240.5 528.5,240.6 529,240.4 529.5,240.1 530,239.6 530.5,239 531,238.5 531.5,238 532,237.7 532,268.8"/>
<polygon fill="#1f77b4" points="531.4,268.8 531.4,233.6 532,233.6 532.5,233.3 533,232.9 533.5,232.3 534,231.7 534.5,231 535,230.4 535.5,230 536,229.7 536.5,229.6 537,229.5 537.5,229.5 538,229.4 538.5,229.4 539,229.3 539.5,229.2 540,229.1 540.5,229.1 541.1,229.4 541.6,229.7 542.1,230.1 542.6,230.5 543.1,230.9 543.6,231.1 544.1,231.1 544.6,230.9 545.1,230.7 545.6,230.5 546.1,230.3 546.6,230 547.1,229.8 547.6,229.6 548.1,229.5 548.6,229.4 549.1,229.4 549.6,229.5 550.1,229.9 550.6,230.3 551.1,230.6 551.6,230.9 552.1,231.1 552.6,231.2 553.1,231.2 553.6,231.2 554.1,231.2 554.6,231.2 555.1,231.2 555.6,231.3 556.1,231.4 556.6,231.3 557.1,231 557.6,230.5 558.1,229.8 558.7,229.2 559.2,228.7 559.7,228.3 560.2,228.3 560.7,228.4 561.2,228.7 561.7,228.9 562.2,229.2 562.7,229.5 563.2,229.8 563.7,230 564.2,230.2 564.7,230.5 565.2,231.1 565.7,231.9 566.2,232.8 566.7,233.7 567.2,234.5 567.2,268.8"/>
<polygon fill="#2ca02c" points="566.6,268.8 566.6,239.3 567.2,239.3 567.7,239.1 568.2,238.7 568.7,238.1 569.2,237.3 569.7,236.6 570.2,236 570.7,235.5 571.2,235.4 571.7,235.4 572.2,235.5 572.7,235.7 573.3,235.8 573.8,236 574.3,236.2 574.8,236.3 575.3,236.3 575.8,236.4 576.3,236.6 576.8,236.8 577.3,237.1 577.8,237.4 578.3,237.7 578.8,237.9 579.3,237.9 579.8,238 580.3,238.1 580.8,238.3 581.3,238.6 581.8,238.8 582.3,239 582.8,239.2 583.3,239.2 583.8,239.1 584.3,238.9 584.8,238.5 585.4,238.1 585.9,237.7 586.4,237.3 586.9,237 587.4,236.9 587.9,236.9 588.4,236.9 588.9,236.8 589.4,236.8 589.9,236.8 590.4,236.7 590.9,236.7 591.4,236.7 591.9,236.8 592.4,237.1 592.9,237.6 593.4,238.1 593.9,238.6 594.4,239 594.9,239.4 595.4,239.5 595.9,239.4 596.4,239.1 596.9,238.8 597.5,238.3 598,237.9 598.5,237.6 599,237.3 599.5,237.2 600,237.2 600.5,237.3 601,237.4 601.5,237.6 602,237.7 602.5,237.8 603,237.9 603,268.8"/>
<polygon fill="#1f77b4" points="602.4,268.8 602.4,235.2 603,235.2 603.5,235.2 604,235.1 604.5,234.9 605,234.7 605.5,234.5 606,234.3 606.5,234.2 607,234.2 607.5,234.3 608,234.6 608.5,235 609,235.5 609.5,236 610,236.4 610.5,236.7 611,236.8 611.6,236.9 612.1,236.9 612.6,237 613.1,237.1 613.6,237.2 614.1,237.2 614.6,237.3 615.1,237.4 615.6,237.2 616.1,236.8 616.6,236.2 617.1,235.5 617.6,234.8 618.1,234.1 618.6,233.7 619.1,233.6 619.6,233.7 620.1,233.8 620.6,234 621.1,234.2 621.6,234.4 622.1,234.6 622.6,234.8 623.1,234.9 623.6,234.9 624.1,235 624.6,235.1 625.1,235.1 625.6,235.2 626.1,235.3 626.6,235.4 627.2,235.4 627.7,235.6 628.2,236 628.7,236.5 629.2,237.2 629.7,237.8 630.2,238.3 630.7,238.7 631.2,238.9 631.7,238.8 632.2,238.5 632.7,238.1 633.2,237.7 633.7,237.2 634.2,236.8 634.7,236.5 635.2,236.4 635.2,268.8"/>
<polygon fill="#2ca02c" points="634.6,268.8 634.6,238.8 635.2,238.8 635.7,238.6 636.2,238.2 636.7,237.5 637.2,236.7 637.7,236 638.2,235.3 638.7,234.8 639.2,234.6 639.7,234.7 640.2,234.8 640.8,234.9 641.3,235 641.8,235.2 642.3,235.3 642.8,235.4 643.3,235.4 643.8,235.5 644.3,235.5 644.8,235.5 645.3,235.5 645.8,235.5 646.3,235.6 646.8,235.6 647.3,235.6 647.8,235.7 648.3,236.1 648.8,236.7 649.3,237.4 649.8,238.1 650.3,238.6 650.9,239.1 651.4,239.2 651.9,239.1 652.4,238.8 652.9,238.5 653.4,238 653.9,237.6 654.4,237.2 654.9,236.9 655.4,236.8 655.9,236.9 656.4,237.2 656.9,237.6 657.4,238.1 657.9,238.6 658.4,239.1 658.9,239.4 659.4,239.5 659.9,239.3 660.4,238.8 661,238.1 661.5,237.3 662,236.5 662.5,235.8 663,235.3 663.5,235.1 664,235.3 664.5,235.8 665,236.5 665.5,237.3 666,238.1 666,268.8"/>
<path stroke="#2ca02c" stroke-width="3.1" stroke-linecap="round" fill="none" d="M63.7 233h0M63.7 235.1h0M63.7 224.2h0M63.7 216.3h0M63.7 231.3h0M63.7 230.6h0M63.7 212.6h0M63.8 231.7h0M63.8 224.8h0M64.5 225.4h0M64.4 227.1h0M64.4 232.2h0M64.6 231.4h0M65 220.9h0M65 230.1h0M65.5 226.6h0M65.5 224.4h0M65.2 222h0M65.8 236.7h0M65.8 228h0M65.6 234.5h0M66.2 235.7h0M66.1 218.4h0M66.5 231.9h0M66.2 182.4h0M67 221.2h0M67 233.7h0M66.8 232.8h0M67.3 198.5h0M67.2 231.8h0M67.2 229.5h0M67.3 221.9h0M67.6 235.7h0M67.7 231.4h0M67.8 235.8h0M68.4 202.1h0M71.4 202.1h0M74.4 202.1h0M68.3 226.7h0M68.2 230.8h0M68.2 233.9h0M68.9 229.1h0M69 234.6h0M68.9 228.3h0M69.1 221h0M69.2 225.5h0M69.3 218h0M70 231.9h0M69.8 235h0M69.9 228.3h0M70.1 230.5h0M70.1 232.4h0M70.6 206.1h0M70.9 206.7h0M70.6 234.5h0M70.6 209.4h0M71.2 235.4h0M71.4 228.4h0M71.4 218h0M72.1 227.2h0M71.9 225.4h0M71.8 220.9h0M72.6 223.1h0M72.3 230.3h0M72.5 187.1h0M72.8 227.8h0M72.7 227.4h0M72.9 226.3h0M72.9 205.5h0M73.3 234.1h0M73.3 219.9h0M73.4 223h0M73.3 233.1h0M73.8 218.4h0M73.9 232.5h0M74.2 233.1h0M74.5 218.2h0M74.3 208h0M77.3 208h0M74.7 233h0M74.8 227.6h0M75.1 233.8h0M75.4 233.7h0M75.5 198.9h0M75.4 202.1h0M75.6 231h0M75.9 208h0M76 225.9h0M75.7 207.2h0M76.3 195.6h0M76.3 229.2h0M76.6 194.2h0M77.1 220.2h0M77.1 226.9h0M76.7 213.4h0M77.2 230.5h0M77.6 232.9h0M78 216.5h0M77.7 224.8h0M77.8 230.8h0M78.2 230.8h0M78.5 207.3h0M78.2 214.7h0M78.9 231h0M78.6 222.8h0M79 230.8h0M79.4 223.4h0M79.2 228.9h0M79.5 216.7h0M80 219.1h0M80.1 234h0M80 226.6h0M80.2 223.1h0M80.3 217.4h0M80.5 230.5h0M80.7 217.1h0M81 222.6h0M81.1 222.3h0M81.4 223.2h0M81.3 230.5h0M81.5 213.9h0M82 228.5h0M82.1 221.3h0M81.8 217h0M81.8 193.8h0M82.6 226.2h0M82.5 230.9h0M82.5 216.5h0M83.1 223.6h0M82.8 225.7h0M82.9 204.2h0M83.6 232.5h0M83.5 227.1h0M83.4 232h0M83.8 223.5h0M83.7 229.1h0M84 232.3h0M84.4 229.4h0M84.3 177.8h0M84.5 189h0M84.9 234h0M84.7 222.8h0M84.7 227.7h0M85.5 222.2h0M85.3 229.7h0M85.2 235.5h0M86.1 234.9h0M85.8 204.8h0M85.8 222.3h0M86.4 228.4h0M86.2 226.3h0M86.3 228.8h0M86.5 216.9h0M86.9 222.7h0M86.7 194.8h0M89.7 194.8h0M92.7 194.8h0M86.8 227h0M87.3 236.1h0M87.3 236.4h0M87.1 229.5h0M87.8 232.1h0M88.1 230.3h0M87.8 230.9h0M87.9 192.1h0M88.2 226.5h0M88.3 231h0M88.5 217.9h0M88.2 232.2h0M88.8 216.1h0M88.8 200h0M88.7 221.9h0M89.4 192.9h0M89.5 226.5h0M89.5 232h0M89.2 206.4h0M89.7 232.6h0M89.8 227.8h0M90.1 221.8h0M90.1 229.8h0M90.4 173.4h0M90.4 232.2h0M90.4 188.6h0M90.8 230.8h0M91 220.6h0M91.5 222.8h0M91.5 207.2h0M91.4 180.5h0M92.1 229.3h0M91.8 222h0M92.1 228.5h0M92.6 226.1h0M92.6 197.8h0M92.3 227h0M92.8 194.8h0M92.9 225.7h0M92.8 228h0M93.5 233.3h0M93.5 229h0M93.8 225.4h0M93.7 226.6h0M94.1 233h0M94 220.6h0M94.3 199.6h0M94.5 227.2h0M94.2 222.5h0M95 214.3h0M94.9 232.9h0M94.7 225.3h0M95.3 223.7h0M95.7 232.2h0M95.5 221.9h0M95.7 207.3h0M96 231h0M96.1 227.7h0M96.5 201.3h0M96.5 227.7h0M96.5 231.7h0M97.1 232.4h0M96.7 194.8h0M97.1 228.9h0M97.4 194.8h0M100.4 194.8h0M103.4 194.8h0M97.3 220.3h0M97.4 230.4h0M97.5 212.4h0M97.8 228h0M98.1 212.9h0M98 206.1h0M98.4 232.1h0M98.5 204.5h0M98.6 231.1h0M99 201.3h0M99 227.6h0M99.3 223.6h0M99.3 223.9h0M100.1 231.2h0M100 224.8h0M100.3 212.4h0M100.6 232.8h0M100.4 224.8h0M100.3 233.2h0M101.1 182.9h0M101.1 230.6h0M101.5 227.8h0M101.4 226.8h0M101.4 232.1h0M101.9 233.7h0M101.9 231.3h0M101.8 224.9h0M101.9 223.3h0M102.5 224.6h0M102.7 235.5h0M102.4 231.8h0M102.8 198.1h0M103.2 234.5h0M102.7 233.2h0M103.1 225.2h0M103.7 222.4h0M103.6 231.5h0M103.5 227h0M104.2 235.2h0M104.2 231.7h0M103.8 229.5h0M104.5 233.7h0M104.3 218h0M104.5 194.3h0M105 234.3h0M105 224.1h0M105.3 181.8h0M105.2 220.7h0M105.4 233.1h0M106.1 232.1h0M106.2 231h0M106.2 202.1h0M106.3 213.6h0M106.6 228.9h0M106.7 228.2h0M106.8 224.7h0M106.7 204.1h0M106.7 225.5h0M107.4 206.2h0M107.7 200.6h0M108 215.4h0M108.2 229.3h0M107.9 213.5h0M108.7 220.8h0M108.6 228.4h0M108.7 218.1h0M109.1 204.1h0M109 219.2h0M109.2 194.3h0M109.7 228.9h0M109.3 193h0M110 230.9h0M110.1 228.5h0M109.9 201.9h0M110.2 218.4h0M110.7 219.7h0M110.3 215h0M111.1 203.9h0M111.1 231.9h0M110.9 232h0M111.1 227.7h0M111.4 176.9h0M111.6 215.5h0M111.7 230.9h0M111.8 230.3h0M112.2 229.1h0M111.9 228h0M112.6 212.8h0M112.7 232.8h0M112.6 211.5h0M113.2 233h0M112.8 217.7h0M113.1 221.5h0M113.1 226.8h0M113.3 230.8h0M113.3 222.2h0M113.5 213.5h0M113.9 231h0M113.9 213.1h0M114.1 230h0M114.1 229.5h0M113.7 208h0M114.1 222.5h0M114.1 232.7h0M114.1 216.2h0M162.9 225.3h0M162.9 235.4h0M162.9 235h0M162.9 218.4h0M162.9 229.2h0M162.9 228.9h0M162.9 219.9h0M163 202.1h0M162.9 213.5h0M162.9 230.4h0M163.3 228h0M163.4 233h0M163.3 221h0M164.1 228.7h0M164 219.7h0M163.9 211h0M164.1 211.2h0M164.6 231.3h0M164.3 221.3h0M164.7 235.7h0M165.2 216h0M165 221.5h0M165.2 235.1h0M164.8 208.5h0M165.5 219.3h0M165.5 219.6h0M165.5 233.9h0M165.5 199.8h0M166.1 227.6h0M166 226.7h0M166.7 230.5h0M166.3 220.6h0M166.4 232.4h0M167.1 199.1h0M166.9 230.1h0M167 232.9h0M167.4 220.8h0M167.7 220.1h0M167.4 220.3h0M167.9 224h0M167.8 195.6h0M168.5 232.1h0M168.4 189.8h0M169.3 233h0M168.9 190.8h0M169.2 216.6h0M169.6 194.8h0M172.6 194.8h0M169.3 229.2h0M169.4 225.3h0M170.2 223.7h0M170 216.8h0M170.8 222.9h0M170.7 231.9h0M170.4 223.5h0M170.7 210.3h0M170.9 177.7h0M171 225.7h0M171.3 225.9h0M171.5 195.4h0M171.5 234.1h0M172.1 234.7h0M172.3 234.9h0M172.1 203.3h0M172.4 229h0M172.3 229.6h0M172.8 220.1h0M172.9 227.3h0M173.1 202.1h0M173.2 235h0M172.8 181.1h0M173.7 227.3h0M173.7 194.8h0M173.4 229.8h0M174.2 237.1h0M174.2 227.1h0M174.4 212.3h0M174.3 232.6h0M174.7 234.8h0M174.8 202.3h0M175.1 226.8h0M174.9 202.9h0M175.8 232.4h0M175.5 219.5h0M175.8 233h0M176.2 207.4h0M176.2 233.1h0M176.4 233.9h0M176.7 231.6h0M176.7 215.8h0M177 230.9h0M177.2 230.3h0M177.2 210.8h0M177.6 223.5h0M177.7 231.7h0M177.7 208h0M180.7 208h0M183.7 208h0M177.8 224.3h0M178 202.1h0M181 202.1h0M178.5 231.8h0M178.8 227.9h0M178.5 230.1h0M179.3 232.8h0M179.1 223.8h0M179.2 226.1h0M179.8 228.4h0M179.6 231.6h0M179.3 227.6h0M180 234.3h0M180.1 232.7h0M180.7 196.7h0M180.5 234.4h0M180.5 228.3h0M181.2 225.8h0M180.9 233.5h0M180.9 212.5h0M181.5 221.2h0M181.5 234.8h0M181.6 225.6h0M181.9 229.1h0M182.2 226.5h0M181.9 221.6h0M182.7 237.4h0M182.8 233h0M182.7 236h0M183.1 232.6h0M183.3 231.1h0M183.1 225.6h0M183.2 212.9h0M186.2 212.9h0M183.8 235.3h0M183.6 216.8h0M183.7 236.3h0M183.7 229.5h0M184.1 230.2h0M184 221.9h0M184.1 223.2h0M184.2 200.8h0M184.6 219.2h0M184.5 216.5h0M184.5 234.7h0M185.1 215.4h0M185.1 229.3h0M185.2 228.9h0M185 196.7h0M185.5 202.6h0M185.6 233.7h0M185.8 219.5h0M186.2 220.8h0M186.1 222.4h0M185.9 220.1h0M186.4 211.6h0M186.7 232h0M186.5 234h0M187.2 216.2h0M186.9 233h0M187.7 215.8h0M187.6 187.7h0M187.8 231h0M187.9 220.5h0M188.1 225.1h0M188.2 234h0M188.7 183.7h0M188.5 236.4h0M188.5 236.3h0M188.9 236.4h0M189.1 218.7h0M189 228.8h0M189.5 206.4h0M189.4 231.1h0M190.3 195.9h0M190.2 238.2h0M190.2 211.7h0M190.8 235.3h0M190.6 235.6h0M190.6 225.3h0M191.4 225.9h0M191.2 188.9h0M191.1 236.9h0M191.3 194.8h0M191.7 231.1h0M191.5 233.5h0M191.7 225.5h0M192 237.1h0M192.1 220.6h0M192.8 229.5h0M192.6 234h0M192.5 221.2h0M192.5 192.4h0M193.2 204.6h0M193.3 231.7h0M193.1 230.2h0M193.5 229.6h0M193.9 222.6h0M193.8 235.4h0M194.1 230h0M193.9 236.6h0M194.1 213.3h0M194 220.1h0M194.9 225.5h0M194.6 227.9h0M194.5 217h0M195.1 217h0M195 232.8h0M195 236.1h0M195.9 232.9h0M195.6 235.1h0M195.9 232.6h0M196.4 225.4h0M196 206.5h0M196.3 220.7h0M196.8 202.1h0M199.8 202.1h0M196.8 224.9h0M196.4 193h0M196.5 186.2h0M197 235.1h0M197 228.9h0M197 228.1h0M197.7 202.1h0M197.4 236.9h0M197.5 235.1h0M198.3 234.7h0M198.1 236.1h0M198.3 237h0M198.9 211.9h0M198.8 231.4h0M199 230.4h0M199 221.3h0M199.4 220.6h0M199.3 200.6h0M199.8 220.5h0M199.6 226.3h0M199.9 234.9h0M199.9 218.1h0M200.3 218.2h0M200.9 208h0M200.7 232.3h0M200.6 217.9h0M201.1 233.5h0M201 224.6h0M200.9 201.1h0M201.4 231.3h0M201.6 220.4h0M202.3 228h0M202.1 220.7h0M202.3 232.8h0M202.6 233.4h0M202.7 234.5h0M202.6 229.1h0M203.2 234.9h0M203.4 223.7h0M203.6 230.8h0M203.6 233.7h0M203.8 226.9h0M204.3 217.2h0M204.4 236.1h0M204.1 234.3h0M204.9 198.5h0M204.7 208h0M204.7 235.7h0M205.1 198.9h0M205.3 236.4h0M205.3 224.8h0M205.5 234.7h0M205.8 234.1h0M205.8 228.5h0M205.8 189.5h0M205.8 228.6h0M205.8 236h0M205.8 224.1h0M205.8 226.8h0M205.8 234.4h0M205.8 226.2h0M253.4 228.6h0M253.4 194.8h0M256.4 194.8h0M253.4 229.8h0M253.4 229.5h0M253.4 222.2h0M253.4 221.1h0M253.5 228.3h0M253.7 230h0M253.6 225.2h0M254 207.4h0M254 207.6h0M253.8 231.5h0M254.6 193.4h0M254.7 234.5h0M254.3 232.3h0M254.8 225.3h0M255.1 216.6h0M255 203.1h0M255.1 226.5h0M255.6 220.9h0M255.7 236.4h0M255.4 236.2h0M256 235.6h0M255.9 235h0M255.8 231.4h0M256.7 234.1h0M256.7 230.2h0M256.5 232.2h0M257 177.4h0M256.9 227.7h0M257.2 194.8h0M260.2 194.8h0M263.2 194.8h0M257.6 230.2h0M257.5 234.7h0M257.7 234h0M258 216.7h0M258.2 233.3h0M258.3 223.2h0M258.4 217.1h0M258.4 212.1h0M258.4 232.4h0M259 223.6h0M259.2 221.8h0M259.2 234h0M259.4 211.1h0M259.3 220.7h0M259.6 230.3h0M259.8 213.1h0M259.8 232.5h0M259.9 228.7h0M260.4 229.1h0M260.5 233.7h0M261.2 235h0M260.8 230.7h0M261.1 229.4h0M261.7 232h0M261.7 202.1h0M264.7 202.1h0M261.5 226.9h0M261.4 212.7h0M262.3 230.6h0M262.1 222.3h0M262.5 219.5h0M262.7 212.9h0M262.5 233.3h0M263.1 232.1h0M262.9 229h0M263.1 215.5h0M263.7 226.2h0M263.5 231.9h0M263.7 192.1h0M263.9 235h0M264.1 231.4h0M263.9 225.2h0M264 226.8h0M264.4 220.1h0M265.1 234.7h0M265.2 235.1h0M265.1 225.9h0M265.7 234.5h0M265.5 215.1h0M266 225.6h0M266.3 230.5h0M266.8 230.3h0M266.6 218.7h0M266.5 226.2h0M267.2 217.6h0M266.9 233.9h0M267.1 228.4h0M267.7 233.7h0M267.4 234.4h0M267.7 225.6h0M268.1 229h0M267.9 233.3h0M268.7 228.4h0M268.6 215.2h0M269.3 229.3h0M269.1 220.6h0M269.3 233.8h0M269.5 216.6h0M269.8 194.8h0M272.8 194.8h0M269.5 224.2h0M270.2 229.8h0M270.3 214.9h0M269.8 233.6h0M270.4 221h0M270.3 214.1h0M270.8 230.4h0M271 208.9h0M270.9 229h0M271 229.3h0M271.7 202.8h0M271.4 175.3h0M271.4 208.2h0M272 210.3h0M272 215.5h0M272.2 232.3h0M272.5 228.3h0M272.6 231.6h0M272.5 231.2h0M273 217.4h0M273 197.1h0M273.7 203.3h0M273.6 212.9h0M273.6 217.3h0M274.1 231.8h0M273.9 234.5h0M274 233.7h0M274.7 220.3h0M274.6 212.2h0M274.7 214.8h0M275 232.7h0M275.2 236.2h0M275.1 234.8h0M275.3 233h0M275.7 195.6h0M275.7 228.4h0M275.5 215.3h0M276.3 234.3h0M276.1 202.2h0M276 235h0M276.6 228h0M276.5 224.8h0M277 236.7h0M277.2 226.5h0M276.9 233.5h0M277.9 237.2h0M277.8 220.1h0M277.8 232.3h0M278 236.4h0M278.1 230.8h0M278 225.8h0M278.4 229.7h0M278.4 233h0M278.5 212.3h0M279.3 225.7h0M279.2 232.4h0M279.2 219.1h0M279.8 228.1h0M279.8 217.5h0M279.5 233.5h0M280 234.5h0M280.2 233.2h0M280.3 232.4h0M280.3 223.3h0M280.9 228.7h0M280.7 207.6h0M280.7 232.4h0M280.5 206.7h0M280.9 228.8h0M281.3 233.1h0M281.3 228.8h0M281.7 230h0M281.5 231.8h0M282.4 228.2h0M281.9 232.4h0M282.2 222.1h0M282.6 233.6h0M282.5 231.9h0M282.4 234.2h0M282.9 236.2h0M283.2 220.7h0M283.3 231h0M283.4 221.8h0M283.6 234.8h0M283.4 231.2h0M283.8 213h0M284.2 228h0M284.3 232h0M284 227.5h0M284.6 228.1h0M284.8 226.9h0M284.9 234.5h0M285.3 227.5h0M285 234.6h0M284.9 228.3h0M285.6 234h0M285.7 207.3h0M285.7 223.6h0M285.8 221.1h0M285.9 192.6h0M286.1 230.4h0M286.1 214.2h0M286.7 224.9h0M286.6 234.9h0M286.8 194.8h0M289.8 194.8h0M287.1 211.4h0M287.1 226.2h0M287.9 202.1h0M290.9 202.1h0M287.7 231.8h0M288 202.1h0M288.3 212.8h0M288 228.8h0M288.8 232.3h0M288.6 206.3h0M288.7 217.7h0M288.8 224.9h0M289.3 226.9h0M289 229.9h0M289.3 220.8h0M289.7 229.4h0M289.9 227.6h0M290.4 229.5h0M290 217.7h0M290.1 178.4h0M290.4 232h0M290.6 209h0M290.9 210.3h0M291.4 198.2h0M291.4 230.4h0M291 234.2h0M291.4 208h0M291.4 208h0M291.8 207.4h0M291.5 221.6h0M291.8 232.5h0M291.8 226.9h0M291.8 218.8h0M291.8 205.7h0M291.8 214.7h0M291.8 225.7h0M291.8 202.5h0M338.9 231.2h0M338.9 234.1h0M338.9 233.2h0M338.9 236.6h0M338.9 225h0M338.9 216.9h0M338.9 216.3h0M339.2 232.2h0M338.9 218.2h0M339 232.9h0M339.3 196.1h0M339.4 220.1h0M339.6 234.2h0M339.3 227h0M340 211.5h0M340.1 222.8h0M340.4 197.5h0M340.3 231.6h0M341.2 207.7h0M341 231.1h0M341 234.2h0M341.4 232.4h0M341.4 229h0M341.3 229.5h0M341.9 222.2h0M342.1 204h0M342.2 228.2h0M342.3 223.6h0M342.3 225.6h0M342.7 208h0M345.7 208h0M348.7 208h0M342.3 229.9h0M343 208.2h0M343.1 213.9h0M343 216.7h0M343.7 228.1h0M343.7 233.2h0M343.6 220.3h0M343.4 230.3h0M344.3 221.9h0M343.9 231.7h0M344.2 232h0M344.2 195.4h0M344.4 223.2h0M344.4 225.2h0M345 232.1h0M344.9 232h0M344.9 233h0M345.7 225h0M345.6 227.3h0M345.3 198.1h0M346.1 233.8h0M345.9 203.8h0M346.1 197.1h0M345.8 207.4h0M346.7 225.7h0M346.7 227.9h0M346.4 233.5h0M347.2 231h0M347.3 234.5h0M347 233.5h0M347.6 224.2h0M347.3 218.2h0M348.2 234.3h0M348.1 228.7h0M348.3 230h0M348.4 195.9h0M348.7 226.8h0M348.5 224h0M348.3 199.8h0M349.2 233.3h0M348.8 221h0M348.8 202.1h0M349.6 234.1h0M349.7 230.4h0M349.7 178.3h0M349.9 226.2h0M350.1 202.1h0M350 236.6h0M350.8 230.8h0M350.7 230.5h0M350.3 223h0M350.9 237.1h0M351.2 230.4h0M351 228.3h0M351.1 183.5h0M351.7 222.2h0M351.4 232.8h0M351.5 235.9h0M351.8 229.6h0M352.2 214.1h0M352.3 231.7h0M352.6 229.5h0M352.7 222.4h0M352.7 236.4h0M352.6 218.6h0M352.8 218.8h0M352.9 212.8h0M353 217.7h0M353.5 202.1h0M356.5 202.1h0M353.4 217.3h0M353.7 200.9h0M354 233.8h0M354.1 204.5h0M354.2 237h0M354.6 219.9h0M354.6 220.9h0M354.8 204.4h0M355.2 237.4h0M355 231.6h0M355.2 236.6h0M355.7 231.7h0M355.3 236.1h0M355.7 237.2h0M356.2 235.5h0M356.1 228.2h0M356.3 196.8h0M356.5 237.8h0M356.3 231.2h0M357 194.8h0M360 194.8h0M363 194.8h0M356.9 231.4h0M357.3 224.4h0M357.6 230.7h0M358.1 211.7h0M358.2 232.6h0M358.7 215.3h0M358.4 229.9h0M358.6 214.1h0M359.2 212.9h0M358.9 211.9h0M358.9 203.4h0M359.2 182h0M359.7 235.8h0M359.7 202.1h0M359.7 223.7h0M360.1 229.7h0M359.9 233.3h0M360.1 210.9h0M360.4 227.9h0M360.5 229.6h0M360.5 231h0M360.5 178.6h0M361 230.9h0M361.3 222.4h0M361.5 235.5h0M361.6 229.1h0M361.7 230.8h0M361.9 227.2h0M362.1 231.9h0M361.9 214h0M362.6 236.1h0M362.7 234.9h0M362.4 222.2h0M362.9 230.4h0M363 217.5h0M363.6 231.1h0M363.6 231.8h0M363.5 224.5h0M364.1 215.5h0M364.2 234.5h0M363.9 230h0M364.6 227.8h0M364.7 216h0M364.6 194.8h0M365.1 194.8h0M365 233.5h0M365.6 235.5h0M365.6 221.4h0M365.8 214.2h0M365.9 225h0M366.2 199.6h0M366.1 229.9h0M366.6 232.3h0M366.3 202.1h0M366.5 226.9h0M366.8 231h0M366.8 231.5h0M367.1 208.1h0M367.7 229.9h0M367.4 210.9h0M367.8 229.4h0M368.3 231.5h0M368.2 222.1h0M368.2 226h0M368.7 220.5h0M368.6 197.2h0M368.4 231.9h0M368.9 225.7h0M369 223.4h0M368.9 202.9h0M369.6 212h0M369.4 223.8h0M369.4 228.6h0M370.1 207.1h0M370 224.5h0M369.8 185.1h0M370.4 226.8h0M370.8 221h0M370.5 223h0M371 232.8h0M371.2 227h0M371.3 226.4h0M370.9 223.1h0M371.6 231h0M371.7 224.2h0M371.5 223.6h0M372.1 231.1h0M371.9 224h0M372.1 232.9h0M372.5 220.1h0M372.7 216.6h0M372.5 200.7h0M372.7 220.7h0M373.1 226.3h0M372.9 221.4h0M373.3 224h0M373.1 231.4h0M373.5 227.5h0M373.8 197.9h0M373.5 231.2h0M374.1 221.2h0M374.2 232.5h0M374.3 229.3h0M374.5 209.6h0M374.7 207h0M375.2 228.5h0M375 220.6h0M375.4 230.4h0M375.6 233.8h0M375.7 199.4h0M376 212.1h0M376.2 230.6h0M376.2 226.1h0M376.4 224.8h0M376.5 220.8h0M376.6 209.8h0M377.3 213.1h0M377.2 231.4h0M377.6 224.8h0M377.4 234.2h0M377.4 233.7h0M378.1 229.9h0M378.2 224.4h0M378.7 233.9h0M378.7 230.3h0M378.6 224.8h0M379.2 228.7h0M379.3 223.8h0M379 234h0M379.1 234.6h0M379.4 232.7h0M379.8 232.4h0M379.6 224.6h0M379.9 226.4h0M380.1 181.4h0M379.9 208h0M380 228.5h0M380.5 230.1h0M380.7 228.8h0M380.4 220.7h0M380.7 232.4h0M380.7 232.6h0M380.7 231.7h0M380.7 224.6h0M380.7 232.3h0M380.7 217.7h0M424.7 229.1h0M424.7 230.7h0M424.7 220.2h0M424.7 234.6h0M424.7 233.9h0M424.7 225.2h0M424.7 235.2h0M424.7 234.4h0M424.7 223.1h0M424.8 226.6h0M425.1 233.8h0M425.2 213.5h0M425.2 230.2h0M425.7 230.1h0M426 230.1h0M425.9 187.1h0M426.6 221.4h0M426.1 232.4h0M426.4 226.6h0M426.9 233.1h0M427.1 211h0M427.1 226.9h0M427.3 194.8h0M430.3 194.8h0M427.2 229.1h0M427.1 229.7h0M427.8 235.1h0M427.7 228.5h0M428 234.5h0M428.5 227.3h0M428.3 203.4h0M428.5 219.5h0M429.1 221.1h0M428.6 229.9h0M429.5 233.1h0M429.4 217.1h0M429.2 219.7h0M430 231.8h0M429.7 190.3h0M430.6 230.1h0M430.6 208.6h0M430.3 232.9h0M431 211.2h0M430.9 220.7h0M430.9 219.1h0M431.1 226.5h0M431.1 232h0M431.5 209.6h0M431.7 209.4h0M431.8 222.7h0M431.9 222.8h0M432 207.2h0M432.3 227.9h0M432.4 218.4h0M432.1 230.4h0M432.8 210h0M432.7 224.3h0M432.9 212.4h0M433.1 229.4h0M433.5 235h0M433.6 207.1h0M433.5 233h0M433.9 224h0M434 221.7h0M433.7 194.8h0M434.6 231.9h0M434.4 226.1h0M434.5 213.7h0M434.4 233.7h0M434.7 227.5h0M435 224.3h0M434.7 234.9h0M435.5 224.4h0M435.2 211.8h0M435.5 209.2h0M435.7 233h0M435.7 208.2h0M435.7 224.1h0M436.5 229.5h0M436.3 233.7h0M436.9 234.7h0M437 221.9h0M437.1 205.2h0M437.4 234.9h0M437.2 211.1h0M437.2 220.2h0M437.5 228.7h0M438.1 191h0M438.7 222.7h0M438.4 207.6h0M438.7 236.8h0M439.1 237.2h0M438.9 223.2h0M439.5 224.2h0M439.5 181.6h0M439.5 213.1h0M439.2 195.8h0M439.9 209.4h0M440 210.9h0M440.2 229.7h0M440.3 230.7h0M440.5 234.9h0M441 237.6h0M440.9 236.6h0M440.9 220.5h0M440.9 221.4h0M441.5 206.8h0M441.6 235.6h0M441.6 229.6h0M441.4 208h0M444.4 208h0M442.2 219.4h0M442.1 222.9h0M441.8 230h0M441.9 216h0M442.3 233.1h0M442.2 219.2h0M442.5 221.7h0M442.8 230.7h0M443.1 223.7h0M442.8 213h0M443.5 216.4h0M443.2 200.4h0M443.4 200.6h0M444.2 225.4h0M443.7 179.5h0M443.9 214.5h0M444.4 233.6h0M444.4 222.6h0M444.3 236.1h0M444.9 234.4h0M445 225.9h0M444.7 229.8h0M445.3 232.2h0M445.7 223.1h0M445.6 218.9h0M446 228.6h0M446.2 232.4h0M445.8 218.1h0M445.8 224.1h0M446.6 229h0M446.7 195.9h0M446.3 232.9h0M446.9 234.8h0M446.9 203.3h0M446.9 214.2h0M447.4 234.5h0M447.3 228.9h0M447.7 221.6h0M448.2 231.9h0M447.7 233.7h0M448.4 216.3h0M448.7 197.3h0M448.9 212.9h0M448.8 220.5h0M448.8 234.8h0M449.2 180.5h0M449.3 228.8h0M449.3 233.4h0M449.4 235h0M450 225.3h0M449.8 231.3h0M450.2 229.3h0M450.3 231.3h0M450.3 216.7h0M450.3 230.1h0M450.5 226.2h0M451.1 213.9h0M450.9 232.5h0M450.8 230.2h0M451.4 229.4h0M451.6 216.2h0M451.6 225.5h0M452.2 230.5h0M452.1 226.5h0M452.5 224.1h0M452.5 233.5h0M452.4 194.8h0M455.4 194.8h0M458.4 194.8h0M453 234.2h0M453.1 228.2h0M453 227.6h0M453.4 235.6h0M453.3 234.6h0M453.7 208h0M453.8 236h0M454.2 177.2h0M454.2 232.6h0M454 231.1h0M454.4 228.3h0M454.6 236.3h0M454.7 233.9h0M455 235.7h0M455.1 218.5h0M455 236.3h0M454.9 230.6h0M455.4 231.2h0M455.5 218.7h0M455.4 220.7h0M456 234.1h0M456.1 226.7h0M456.7 236.9h0M456.8 229.3h0M456.6 229.6h0M457.2 222.1h0M457 225.9h0M457 233.1h0M457.8 216.2h0M457.8 233h0M457.6 232h0M458.2 218.8h0M458 194.8h0M461 194.8h0M458 223.3h0M458.6 236.1h0M458.4 223.5h0M459.1 224.8h0M458.9 230.3h0M459.3 224.3h0M459.8 233.3h0M459.8 235.6h0M459.4 234.6h0M459.9 230.5h0M460.3 231.3h0M460 234.4h0M460.7 218.2h0M460.7 230.6h0M461.1 222.7h0M460.8 232.4h0M461 220.7h0M460.9 230.7h0M461.8 235.1h0M461.6 223.1h0M461.3 237.1h0M462.2 205.1h0M461.9 224.9h0M462.3 210.6h0M462.7 224.2h0M462.7 234.3h0M462.7 235.6h0M462.7 222.5h0M462.7 226.5h0M462.7 235.9h0M462.7 234h0M462.3 202.1h0M462.3 202.1h0M462.3 202.1h0M462.7 204.7h0M462.7 228.7h0M501.4 198.7h0M501.4 229.5h0M501.4 235.6h0M501.4 224.4h0M501.4 194.8h0M501.6 194.8h0M501.5 238.6h0M501.8 192.4h0M502 236.5h0M502 236.3h0M502.3 230.1h0M502.4 229.1h0M502.8 237.4h0M502.9 225.7h0M502.8 233.9h0M503.3 236.8h0M503.3 234.5h0M504.2 228.6h0M504 194.8h0M504.2 238.4h0M504.7 236.7h0M504.7 218.3h0M504.7 232.3h0M504.9 220.2h0M505.2 227.6h0M504.9 186h0M505.6 238.5h0M505.5 220.8h0M505.5 236.6h0M505.3 211.8h0M506.2 229.5h0M505.8 223.6h0M506.1 236.7h0M505.8 194.8h0M508.8 194.8h0M506.6 231h0M506.5 235.3h0M506.3 228.9h0M507.1 225.5h0M506.8 215.2h0M506.8 234.7h0M507.5 233.3h0M507.7 231.5h0M507.3 204.7h0M507.5 234.3h0M508.2 236h0M507.8 228.7h0M507.8 222.3h0M508.7 201.5h0M508.5 235.5h0M508.4 227.6h0M509.1 213.4h0M509.2 235.6h0M509.2 224.4h0M509.7 208h0M509.3 234h0M509.7 214.5h0M510 206.3h0M509.8 233.6h0M510.7 231h0M510.3 226.1h0M510.3 225.2h0M511 217.7h0M511.2 218.9h0M510.8 221.8h0M511.4 223.3h0M511.3 235.7h0M511.3 230.5h0M512.2 218.1h0M511.8 234.2h0M512.4 221.9h0M512.6 232.4h0M512.5 205.4h0M512.7 208h0M515.7 208h0M512.9 236.3h0M513.2 234.5h0M513 228.3h0M513.5 236.7h0M513.5 209.8h0M513.4 229.5h0M514.1 235.2h0M513.8 235.7h0M513.9 233h0M513.9 220.6h0M514.6 219.5h0M514.6 222.1h0M514.6 229.5h0M515.1 234h0M515.2 210.7h0M514.8 217.2h0M514.8 226.1h0M515.7 217.2h0M515.3 237.1h0M516.1 235.3h0M515.9 235.3h0M516.2 231.7h0M516.6 235.8h0M516.7 220.6h0M517 235h0M517 230.4h0M516.9 238.4h0M517.5 207.5h0M517.6 235.5h0M517.7 211.1h0M518 232.5h0M518.1 237.2h0M518.2 229.5h0M518 213.4h0M518.6 228.5h0M518.4 227.4h0M519 194.6h0M518.8 236.8h0M519.2 235.1h0M518.8 229.9h0M519.4 234.9h0M519.7 235.9h0M519.6 232h0M520 238.7h0M519.8 237.5h0M520.2 232.7h0M520.1 232.8h0M520.6 237h0M520.7 229.6h0M520.5 219.6h0M521.1 213.9h0M521.2 239.1h0M521.1 215.7h0M521.6 233.1h0M521.7 229.5h0M521.3 229h0M522.1 223.1h0M522.1 238h0M522 221.8h0M522.3 237.4h0M522.5 220h0M522.6 236.8h0M522.9 228.3h0M522.9 238.6h0M522.9 228.6h0M523.3 230h0M523.4 238.1h0M523.5 236.7h0M523.8 234.2h0M523.8 212.9h0M524 233.3h0M524.7 217.6h0M524.6 233.1h0M524.7 229.2h0M524.5 214.3h0M524.8 209.6h0M525.1 236.3h0M525.4 219.4h0M525.4 230.3h0M525.7 221.8h0M526 208h0M526 237.9h0M525.9 226.5h0M526.2 205.3h0M526.6 237.3h0M526.4 238.7h0M526.4 237.7h0M527.1 233.9h0M527.2 235.2h0M527.3 222.3h0M527.3 232.6h0M527.6 229.5h0M527.8 201h0M527.9 230.5h0M527.8 239h0M528 194.8h0M528.7 236.7h0M528.5 221.8h0M528.5 232.5h0M529.1 185h0M528.8 238.4h0M529.1 234.3h0M529.3 199.6h0M529.7 224.2h0M529.6 233.7h0M529.8 220.3h0M530.2 231.8h0M530.2 236h0M530.4 222h0M530.7 208h0M530.6 237h0M531.1 237.2h0M531.1 214.4h0M531 237.9h0M531 193.5h0M531.1 235h0M531.1 225.3h0M531.1 231h0M531.1 212.3h0M531.1 233h0M531.1 232.2h0M568.1 235.5h0M568.1 194.8h0M568.1 230.7h0M568.1 231.9h0M568.1 237.9h0M568.1 202.2h0M568.1 236h0M568.2 238.5h0M568.1 236.1h0M568.6 234.9h0M568.8 211.7h0M569.2 230.2h0M569.2 234.3h0M569.2 225.5h0M569.5 233.6h0M569.5 230.3h0M569.6 224.7h0M569.9 180.7h0M570.2 214.5h0M570.1 214.6h0M570 234.1h0M570.6 230.6h0M570.5 231.7h0M570.6 233.3h0M570.8 231.2h0M571.1 221.4h0M571 226.4h0M571.3 233.1h0M571.1 228.5h0M571.8 230.5h0M571.8 234.4h0M571.9 212.6h0M572 185.1h0M572.2 218.2h0M572.4 228.1h0M572.3 234.8h0M572.4 213.9h0M573 228.4h0M572.6 227.1h0M572.8 232.8h0M573.2 226.3h0M573.4 230.4h0M573.1 202.1h0M576.1 202.1h0M573.9 225.7h0M573.7 225.3h0M573.8 202.1h0M576.8 202.1h0M579.8 202.1h0M574.2 212.9h0M574.5 223.5h0M574.2 233.8h0M574.9 229h0M574.5 194.8h0M575 230.3h0M574.7 204.1h0M575.4 209.5h0M575.3 194.8h0M578.3 194.8h0M575.5 224.5h0M575.6 226.6h0M575.6 230.1h0M575.9 230.9h0M576.5 226.3h0M576.3 213.9h0M576.1 227.4h0M576.9 209.5h0M577 228.7h0M576.6 192.5h0M577.2 230.2h0M577.2 233.2h0M577.5 202.7h0M577.9 208.7h0M577.6 228.5h0M577.9 220.4h0M578.3 236.8h0M578.5 213.4h0M578.5 224.4h0M578.7 218.6h0M579 228.7h0M578.5 236h0M579.5 236.8h0M579.2 224.7h0M579.7 179.3h0M579.6 224.3h0M579.7 230.1h0M580.3 202.1h0M580.5 234.9h0M580.3 219h0M580.6 231.7h0M580.9 228.7h0M580.6 228.8h0M581.3 234.8h0M581.4 236.8h0M581.1 237h0M581.9 191.6h0M581.6 230.6h0M582 217.5h0M582.5 223.2h0M582.2 219.9h0M582.5 238.3h0M582.8 217.9h0M582.9 216.6h0M583.1 229h0M583.1 234.8h0M583.6 230.6h0M583.8 208h0M583.6 236.3h0M583.7 233.3h0M584.5 222.5h0M584.5 230.6h0M584.3 229.3h0M584.8 237.5h0M584.7 230.2h0M585.1 223.5h0M585.5 213.7h0M585.5 232.1h0M585.8 208.6h0M585.9 234.7h0M585.9 227.9h0M585.9 187.5h0M586.4 192.7h0M586.5 222.7h0M586.2 223.9h0M586.6 202.1h0M589.6 202.1h0M592.6 202.1h0M586.9 235.8h0M586.9 194.8h0M586.7 222.2h0M587.1 232.5h0M587.2 220.7h0M587.7 205.2h0M588 236.9h0M587.9 223.7h0M588.5 231.1h0M588.4 232.8h0M588.3 200.5h0M588.9 230.7h0M589 217.4h0M588.8 223h0M589.2 200.6h0M589.3 224.5h0M589.2 234.3h0M589.9 215.5h0M589.9 193.8h0M590.4 227.7h0M590.4 228.5h0M590.5 235.4h0M590.8 212.1h0M590.7 229.2h0M591 226.7h0M591.6 236.5h0M591.6 184.3h0M591.5 219.3h0M592.1 230.4h0M592 233.1h0M591.9 225.2h0M592.2 203.8h0M592.4 230.9h0M592.2 228.7h0M592.9 237.3h0M592.7 236.7h0M592.7 232.4h0M593.2 235.5h0M593.6 227h0M593.5 218.9h0M594.1 232h0M593.9 223.4h0M593.7 222.4h0M594.2 209.9h0M594.4 234.2h0M594.6 227.2h0M595.1 222.3h0M594.8 226h0M594.8 224.6h0M595.6 228.4h0M595.3 235.6h0M595.8 227.6h0M596 216.4h0M596 230h0M596.7 231.3h0M596.7 237.2h0M596.4 216.7h0M596.9 234.3h0M597.1 212.9h0M600.1 212.9h0M601.7 212.9h0M597.2 231.9h0M597.7 231.3h0M597.5 220.6h0M597.3 237.8h0M597.9 232.4h0M597.7 230.7h0M597.9 216.1h0M598.6 225.7h0M598.7 236.7h0M598.5 225.5h0M599 214.4h0M598.9 234.8h0M598.9 231h0M599.5 231.8h0M599.7 221.8h0M599.3 234.4h0M599.9 202.1h0M601.7 202.1h0M599.8 214.3h0M600.2 231.6h0M599.9 212.2h0M600.7 230.2h0M600.6 229.3h0M600.4 224.1h0M600.9 182.5h0M600.8 222.6h0M601.5 210.5h0M601.7 226.4h0M601.4 203.3h0M601.5 195h0M602.1 229.8h0M602 234.7h0M602.1 210.6h0M602.1 230.4h0M602.1 207.1h0M602.1 223.4h0M602.1 233.3h0M602.1 218.3h0M602.1 237.4h0M636.1 237.9h0M636.1 235.2h0M636.1 222.8h0M636.1 235.5h0M636.1 201.8h0M636.1 225.5h0M636.1 211.9h0M636.3 221.4h0M636.1 236.3h0M636.1 234.5h0M636.6 236.4h0M636.7 236.5h0M636.9 236.5h0M637.1 220.9h0M637 224.9h0M637.4 229h0M637.7 194.8h0M640.7 194.8h0M637.9 233.5h0M637.9 213.1h0M638.1 205.2h0M638.1 221h0M638.2 227h0M638.9 207.7h0M638.8 230.9h0M638.8 214.8h0M638.5 225.8h0M639.2 215.5h0M639.2 229.1h0M639.3 229.6h0M639.2 215.1h0M639.5 206.4h0M639.8 233.5h0M639.8 202.2h0M640.1 230h0M640.3 190.3h0M640.3 191.7h0M640.8 232.3h0M640.5 230.6h0M640.7 233.1h0M641.4 230h0M641.5 221.2h0M641.5 221.2h0M641.6 221.5h0M642 221h0M642.2 225.2h0M642.4 194.8h0M645.4 194.8h0M642.5 215.5h0M642.9 211.2h0M643 234.8h0M642.6 222.2h0M643.2 202.1h0M643.4 213.7h0M643.3 232.8h0M643.8 233.2h0M643.9 226.9h0M643.6 212.1h0M643.7 221.4h0M644.1 196.8h0M644.2 235.3h0M644 225.6h0M644.9 221.4h0M644.8 234.3h0M644.6 224.5h0M645.4 235.3h0M645.1 225.7h0M645.3 228.7h0M645.7 231.7h0M645.9 231.9h0M645.9 216.3h0M646.1 210.5h0M646.5 212.9h0M649.5 212.9h0M652.5 212.9h0M646.3 230.5h0M646.7 225.6h0M646.7 227h0M646.7 219.9h0M647.3 223.7h0M647.6 235.4h0M647.3 230.7h0M647.6 231.5h0M647.9 202h0M647.6 207.2h0M648.1 220.7h0M648.3 221.5h0M648.8 222.3h0M649 234h0M648.7 227h0M649.3 233.1h0M649.4 220.6h0M649.4 227.6h0M650 179.5h0M649.8 237.2h0M650.4 225.4h0M650.6 226.4h0M650.7 187.3h0M651.1 228.5h0M651.1 220.1h0M651.2 237.3h0M651.3 233.4h0M651.4 236.6h0M651.8 220.5h0M651.9 232.8h0M652 236.9h0M652.5 203.8h0M652.4 230.9h0M652.6 225.9h0M652.9 213.9h0M652.9 226.2h0M652.9 232h0M653.5 212.9h0M656.5 212.9h0M653.3 210.5h0M654.1 214.7h0M653.9 231.4h0M654.3 227.1h0M654.2 234.3h0M654.2 225.2h0M654.8 220.1h0M655.1 212.8h0M655.1 233.1h0M655.3 231.9h0M655.6 228.4h0M655.4 233.5h0M655.4 232.3h0M656.1 232.4h0M655.7 236.7h0M655.7 235.9h0M656.3 202.1h0M659.3 202.1h0M656.4 199.5h0M656.2 215.8h0M656.9 228.3h0M656.9 236.6h0M656.7 230.1h0M657.3 234.3h0M657.4 227.5h0M657.4 220.3h0M658.1 238.5h0M658.1 234h0M658.1 219.8h0M658.5 234.7h0M658.7 236.7h0M658.8 227.8h0M659 226.9h0M658.7 238.5h0M659.5 231.9h0M659.3 235.8h0M659.4 219.9h0M659.3 218.1h0M660.1 236.5h0M660.2 235.2h0M660.3 210.5h0M660.7 212.9h0M663.7 212.9h0M660.5 238.7h0M660.9 236h0M660.8 216.4h0M660.9 223.5h0M661.3 218.8h0M661.7 225.1h0M661.4 228.5h0M661.8 224.3h0M661.8 232.6h0M661.8 227.2h0M662.1 179.5h0M662.5 216.3h0M662.6 230.6h0M662.4 221.1h0M662.9 233.1h0M663 231.5h0M662.8 233.4h0M662.8 229.9h0M663.5 229.8h0M663.6 222.9h0M664.1 227.2h0M664.2 229.3h0M663.8 231.1h0M664.2 232.4h0M664.3 234.5h0M664.7 194.5h0M665.1 215.4h0M664.9 213.9h0M665.1 230.9h0M665.1 236.2h0M665.1 231.6h0M665.1 188.2h0M665.1 228.3h0M665.1 237.4h0M665.1 205.9h0"/>
<path stroke="#1f77b4" stroke-width="3.1" stroke-linecap="round" fill="none" d="M115.9 231.8h0M115.9 234.5h0M115.9 212.9h0M115.9 229.3h0M115.9 224.9h0M115.9 232.7h0M115.9 234.3h0M115.9 225.1h0M116.3 230.8h0M116.7 227.7h0M116.5 232.8h0M117.2 229.2h0M117.2 214.9h0M117 226.1h0M117.5 224.3h0M117.4 208h0M117.6 218.2h0M117.8 195h0M118 233h0M118.2 232.6h0M118.5 212h0M118.4 202.1h0M118.4 215.3h0M119.1 214.8h0M118.8 222.4h0M119.2 225.6h0M119.3 221.6h0M119.7 233.9h0M119.4 234.4h0M120.2 218.8h0M119.9 230.3h0M119.9 232.7h0M120.3 225.4h0M120.4 202.4h0M120.4 231.2h0M120.4 213.3h0M120.8 230.6h0M120.9 224.4h0M120.9 226.2h0M121.1 230.3h0M121.6 218.4h0M121.7 230.8h0M121.5 223.7h0M122 181.7h0M122 231.6h0M121.9 229.2h0M122.5 219.7h0M122.3 207.4h0M122.6 225.7h0M123.1 203.8h0M123.1 223.5h0M123.1 192.2h0M123.7 205.1h0M123.5 225.7h0M123.4 194.7h0M123.5 223.4h0M123.8 225.2h0M124 227.8h0M124 232.5h0M124.7 195.2h0M124.3 233h0M124.7 222.1h0M125 214.8h0M125 231.6h0M125.1 222.3h0M125.4 210.3h0M125.7 228h0M125.3 225.9h0M125.8 233.4h0M126 227.3h0M125.8 233.6h0M126.5 182.5h0M126.4 208h0M129.4 208h0M126.4 219.5h0M127.2 230h0M126.9 223.7h0M127.2 199.8h0M127.4 231.6h0M127.5 230.3h0M127.6 230.1h0M127.8 226.4h0M127.8 232.8h0M128.1 233.4h0M128.2 215.7h0M128.5 226.5h0M128.3 228.2h0M128.3 231h0M128.3 222.3h0M129 230h0M129 217.5h0M129 213.2h0M128.9 200.8h0M129.7 230.1h0M129.7 224.3h0M129.4 208.4h0M130.2 220.5h0M130 224.2h0M130.2 191.2h0M130.3 231.6h0M130.5 198.7h0M130.4 191h0M131.2 228.1h0M130.9 195.5h0M131.2 209.5h0M131.7 222.7h0M131.7 219.7h0M131.5 229.3h0M132.2 211.4h0M132.1 216.7h0M132.2 222.4h0M132.6 225.8h0M132.7 221.3h0M133.2 227.6h0M132.8 208h0M135.8 208h0M133.2 227.6h0M133 202.1h0M133.6 226.5h0M133.4 216.3h0M133.8 172.7h0M134.1 220.1h0M133.8 226.5h0M134.5 222.1h0M134.7 166.8h0M134.7 188.8h0M135.2 206.4h0M134.8 193h0M134.9 226.9h0M135.6 202.1h0M138.6 202.1h0M135.6 217.1h0M135.7 215.9h0M136.1 204.2h0M136.2 211.4h0M135.9 202.1h0M136.7 226.9h0M136.6 179.3h0M136.3 212.9h0M137.2 199.9h0M136.8 220.5h0M137.7 232.4h0M137.5 220.8h0M137.3 197.5h0M137.7 187h0M138.2 223h0M138.2 228.7h0M137.8 230.4h0M138.5 225.2h0M138.5 221.6h0M138.5 217.5h0M138.4 220.6h0M139.2 229.2h0M138.8 225.8h0M139 218.8h0M139.6 223.1h0M139.7 228.4h0M139.3 216.2h0M139.5 221.9h0M140.2 231.8h0M139.8 228.3h0M140 219.8h0M139.8 223.1h0M140.4 194.8h0M140.7 205.6h0M140.5 229.9h0M141 208h0M140.9 230.4h0M141.1 225.1h0M141.5 220.2h0M141.4 225.2h0M141.4 231.4h0M142 215.8h0M141.9 228.2h0M142.5 220.5h0M142.5 226h0M142.7 223.2h0M142.9 222.5h0M142.8 190.5h0M143 230.2h0M143.5 228.3h0M143.4 222h0M143.4 229.7h0M143.9 218.5h0M143.8 214.3h0M144.2 217.2h0M144.7 227.2h0M144.5 212.1h0M144.7 229.9h0M144.8 209.7h0M144.8 230.4h0M144.9 189.7h0M145.4 205.4h0M145.5 226.9h0M145.5 214.6h0M145.8 230.4h0M146.2 216.3h0M146.5 222.7h0M146.6 217.1h0M146.9 201.6h0M147.1 228.5h0M147.2 226.1h0M147.3 188.1h0M147.3 217.2h0M147.7 229.3h0M147.5 202.1h0M150.5 202.1h0M148 231.2h0M147.9 224.5h0M147.9 230.1h0M148.3 226.5h0M148.6 199.7h0M149.2 227.2h0M149 225.9h0M149.1 194.5h0M149.6 226.6h0M149.3 204.2h0M149.5 221.8h0M149.9 230.3h0M150.1 208.7h0M150 228.5h0M150.6 218.1h0M150.3 205.5h0M150.7 231.6h0M150.5 214.5h0M150.8 232.1h0M151 212.9h0M154 212.9h0M150.8 207.9h0M151 228.4h0M151.6 208h0M154.6 208h0M151.7 190.2h0M152.2 220.2h0M151.9 226.2h0M152 226.6h0M152 205.6h0M152.4 224.6h0M152.3 200.2h0M152.5 230.5h0M152.8 231.6h0M152.9 225.4h0M152.8 221.3h0M153.5 231.1h0M153.7 227.8h0M153.3 225.4h0M153.8 225.6h0M153.8 224.6h0M154.1 229.2h0M154.4 194.5h0M154.6 206.2h0M154.5 224.9h0M154.9 191.1h0M154.9 226h0M155.2 220.1h0M155 229h0M155.3 227.8h0M155.3 205.3h0M155.4 214.8h0M155.8 223.8h0M156.2 228.7h0M155.9 220.4h0M156.5 220.1h0M156.6 194.5h0M156.5 215.7h0M157 229.4h0M157.1 230.8h0M157.5 220.5h0M157.3 232.4h0M157.7 231.7h0M157.9 207.8h0M157.8 220.5h0M157.9 233.7h0M158.5 225.8h0M158.3 234h0M158.8 224.7h0M159.2 211.9h0M159 174.9h0M159.6 213.3h0M159.6 221h0M159.5 230.2h0M159.8 194.8h0M160.1 232.4h0M160 223.6h0M160.5 202.1h0M160.7 202.1h0M160.7 202.1h0M160.3 222.5h0M161 227.3h0M160.8 215.3h0M161.1 231h0M161.1 220.6h0M161.1 230.1h0M161.1 231.5h0M161.1 217.3h0M161.1 232.6h0M207.6 201.1h0M207.6 217.7h0M207.6 168.9h0M207.6 229h0M207.6 224.5h0M207.6 229.3h0M207.6 203.8h0M207.8 208.5h0M207.7 222.2h0M207.6 229.4h0M208.1 229.3h0M208.3 221.4h0M208.5 227h0M208.7 211.8h0M208.7 229.4h0M208.5 221.7h0M209.1 223.1h0M209.4 231.4h0M209.2 232h0M209.7 228.6h0M209.6 217.9h0M209.8 203h0M209.9 191.2h0M210.2 227.3h0M210.1 233h0M210.1 229.8h0M210.9 228.4h0M210.8 228.7h0M210.7 168.1h0M211.2 223.5h0M211.2 216.9h0M211.1 228.5h0M211.6 232.4h0M211.7 221.2h0M211.9 208h0M214.9 208h0M217.9 208h0M211.6 220h0M212.4 217.1h0M212.4 228.5h0M212.4 187.6h0M212.9 224.1h0M212.7 223.7h0M213 198.7h0M213.3 228h0M213 205.7h0M213.2 208h0M216.2 208h0M213.7 221.1h0M213.5 202.1h0M214.4 223.1h0M214.4 191.4h0M214.7 223.8h0M214.6 228h0M214.7 208.5h0M215 224.8h0M215.1 214.8h0M215.3 221.1h0M215.7 221.8h0M215.6 217.3h0M216 217.2h0M216.2 226.1h0M216.4 228.9h0M216.4 226.1h0M216.6 194.8h0M219.6 194.8h0M216.8 229.3h0M216.6 210h0M217.3 226.6h0M217.1 227.1h0M217.5 226.3h0M217.7 202.1h0M217.5 215.9h0M217.7 225.3h0M218.3 227.9h0M218.2 224.8h0M218.5 218.3h0M218.5 217h0M218.6 225.9h0M218.7 224h0M218.9 208h0M219.1 209.2h0M219.4 228.5h0M219.8 205.1h0M220 191.5h0M219.7 216.8h0M219.6 194.8h0M222.6 194.8h0M225.6 194.8h0M220.5 226h0M220.3 224.6h0M220.1 220.2h0M220.7 199.7h0M221 197.3h0M220.6 226.5h0M220.6 195.9h0M221.1 211.4h0M221.2 187h0M221.2 210.8h0M221.6 219.9h0M221.7 217.6h0M222 211.2h0M222.1 213.7h0M222.5 194.8h0M222.3 219.1h0M222.8 200.2h0M223 211.1h0M222.9 216.2h0M222.9 182.2h0M223.5 224.8h0M223.5 214.4h0M223.1 201.5h0M223.6 221.2h0M223.6 199.2h0M223.9 224.1h0M224.2 222.1h0M224.2 217.4h0M224.1 223h0M224.8 188.3h0M225 210.5h0M224.7 209.8h0M225.3 226.8h0M225.2 214h0M225.3 220h0M225.4 194.8h0M225.8 223.5h0M225.8 221.7h0M225.7 215.4h0M226 217.5h0M226.2 199h0M226.4 220.3h0M226.1 222.5h0M226.6 209.1h0M226.8 175.1h0M227 225.2h0M226.9 205.3h0M227.2 225.6h0M227.2 226.1h0M227.6 219.5h0M227.9 212.9h0M230.9 212.9h0M233.9 212.9h0M227.8 221.2h0M228 219.8h0M227.7 194.6h0M228.6 222.1h0M228.6 191.6h0M228.6 221.7h0M229 176.7h0M228.9 216.9h0M228.7 202.1h0M228.7 219.6h0M229.6 202.1h0M229.5 214.1h0M229.1 191.6h0M229.6 194.8h0M229.9 224.4h0M229.8 219.3h0M229.6 225h0M230 202.1h0M233 202.1h0M230.3 193.8h0M230.1 226.1h0M230.4 223.9h0M230.9 204.9h0M231.1 202.1h0M234.1 202.1h0M230.9 212.9h0M231.3 214.7h0M231.5 214.4h0M231.2 220.5h0M231.7 224.6h0M231.9 194.8h0M234.9 194.8h0M231.8 225h0M232.2 194.8h0M235.2 194.8h0M232.3 226.2h0M232.2 226.7h0M232.6 221.4h0M233.1 202.1h0M236.1 202.1h0M232.7 179.2h0M233.5 221.6h0M233.3 202.1h0M233.8 220.5h0M233.9 221.8h0M234.1 227.8h0M234.2 223.2h0M235.1 218h0M234.8 225.4h0M235.5 195.3h0M235.3 225.1h0M235.5 221.9h0M235.7 227.7h0M236.1 222.5h0M236.4 206.1h0M236.5 209.6h0M236.6 225.1h0M236.9 216.3h0M236.8 228.6h0M237.5 227.4h0M237.3 228.9h0M237.5 222h0M237.8 215.1h0M238.1 224.1h0M237.7 225.8h0M238.5 209.2h0M238.6 223.8h0M238.3 188.5h0M238.7 190.7h0M239.1 197.3h0M238.8 228.9h0M239.3 227.9h0M239.3 218.8h0M239.9 218.2h0M240 204.5h0M240.1 231.1h0M240.5 228.1h0M240.4 204.8h0M240.3 230.2h0M241 228.2h0M241 224h0M240.8 224.9h0M241.5 225.8h0M241.4 227.7h0M241.3 228.9h0M241.9 226.9h0M241.9 226.6h0M242.1 201.7h0M242.1 229.3h0M242.6 214.3h0M242.2 229.4h0M242.6 225.2h0M242.2 216.2h0M243.2 218.2h0M242.7 228.5h0M242.7 229.3h0M243 228.6h0M243.4 208h0M246.4 208h0M249.4 208h0M243.3 215h0M243.6 223.4h0M244.2 224.1h0M244 224.9h0M243.8 194.8h0M244.3 230.7h0M244.3 193.9h0M244.7 194.8h0M247.7 194.8h0M244.8 215.3h0M244.9 216.7h0M245.3 224h0M245.7 225.1h0M245.5 220.2h0M245.8 220h0M246 229h0M246.1 197.5h0M246.5 231.5h0M246.7 208h0M249.7 208h0M246.5 223.6h0M247 230.4h0M246.7 211.6h0M246.9 216h0M247 193.2h0M247.4 213.4h0M247.3 199.3h0M247.5 224.1h0M247.9 227.3h0M248.2 231.2h0M248.4 229.6h0M248.5 231.3h0M248.6 207.1h0M248.9 226.4h0M249 202.1h0M251.2 202.1h0M251.2 202.1h0M249.2 187h0M249.6 222.1h0M249.5 228.1h0M249.4 221.9h0M249.8 217.3h0M250 230h0M250.1 229.4h0M249.9 186h0M250.6 228.5h0M250.6 226.9h0M250.4 222.1h0M250.8 226.6h0M250.8 227h0M250.9 228.3h0M251.6 220.3h0M251.5 218.3h0M251.4 228.7h0M251.6 224.1h0M251.6 220.2h0M251.6 227h0M251.6 190.4h0M251.6 230.9h0M293.6 222h0M293.6 204.3h0M293.6 230.5h0M293.6 226h0M293.6 219.6h0M293.6 211.2h0M293.6 194.8h0M293.6 227.2h0M293.9 225.3h0M293.6 223.1h0M294 218.9h0M294.1 220.6h0M294 224h0M294.8 226.4h0M294.6 226.6h0M294.8 211.8h0M295.1 221.5h0M295.3 209.4h0M295.6 187.4h0M295.5 225.6h0M295.9 229.7h0M295.7 199h0M296.4 222.6h0M296.3 223.9h0M296.5 224.2h0M296.7 227.5h0M296.9 227h0M296.7 228.5h0M297.1 191.6h0M297 203.7h0M297.1 219.4h0M297 195.7h0M297.6 227.6h0M297.8 224h0M297.6 203.6h0M298.4 216.1h0M298.3 225.8h0M298.2 230.7h0M298.5 225.3h0M298.7 222.1h0M298.8 212.9h0M299 214.8h0M299 217.8h0M299.3 224.8h0M299.7 223h0M299.8 227.2h0M299.7 214.8h0M300.4 202.7h0M300.2 226.2h0M300.9 219.7h0M300.5 188.9h0M300.7 213h0M301.2 219.1h0M301.4 228.3h0M301.4 231.4h0M301.9 213.3h0M302 222.9h0M301.7 228.2h0M302.4 231.7h0M302.4 213.6h0M302.8 223.9h0M302.8 230.5h0M302.6 231.6h0M303.2 222.2h0M303.3 194.7h0M303.4 230.5h0M303.5 202.1h0M303.8 192.3h0M303.9 227.9h0M303.6 212h0M304.2 198.2h0M304.2 194.8h0M307.2 194.8h0M304.2 220.1h0M304.7 183.5h0M304.6 223.6h0M304.8 209.9h0M304.9 230.4h0M305.2 230.5h0M305.5 210h0M305.5 232.8h0M305.7 224.2h0M305.6 216.6h0M305.9 218.1h0M305.8 216.6h0M306.4 230.9h0M306.5 227.9h0M306.1 230.1h0M307 209.5h0M306.9 229.2h0M306.6 226.7h0M306.8 231.8h0M307.1 210.8h0M307.3 224.6h0M307.7 194.8h0M310.7 194.8h0M307.8 216.1h0M307.9 230.8h0M308.1 231h0M308.1 217h0M308.4 224.8h0M308.7 212.2h0M308.8 208.6h0M308.7 221.7h0M309.5 226.9h0M309.1 227.1h0M309.3 226h0M309.6 189.1h0M309.8 231.8h0M309.9 190.2h0M309.8 214.1h0M310.2 229.5h0M310.3 188.3h0M310.2 231.3h0M310.7 222.2h0M310.8 221.3h0M310.7 216.4h0M311.4 221.4h0M311.3 223.3h0M311.4 231h0M311.6 202.1h0M314.6 202.1h0M312 229.6h0M312.5 223.4h0M312.3 230.2h0M312.3 221.9h0M312.5 214.2h0M313 223.4h0M313 219.6h0M312.8 226.2h0M313.3 206.8h0M313.4 230.5h0M313.4 221.4h0M313.8 215.4h0M314 217.7h0M313.7 221.6h0M314 226.4h0M314.5 230.3h0M314.3 228.4h0M314.2 200.7h0M314.6 222.6h0M315 212.9h0M314.8 201.1h0M315.2 231.2h0M315.4 229.2h0M315.5 225.4h0M316.1 212.8h0M315.8 207.7h0M315.6 199.8h0M316.3 228.5h0M316.5 227.4h0M316.1 202h0M316.9 228.2h0M316.6 225.4h0M316.7 218.3h0M317.2 218.9h0M317.6 222.1h0M317.3 220h0M318 231h0M317.6 229.5h0M318 189.6h0M318.4 219h0M318.5 230.2h0M318.2 226.6h0M319 231.1h0M319 224.8h0M318.9 229.9h0M319.5 211.1h0M319.3 226.3h0M319.3 212.9h0M322.3 212.9h0M320.1 212.9h0M323.1 212.9h0M320.1 214.2h0M320.6 228.7h0M320.2 219.1h0M320.9 220.7h0M321 224.3h0M320.7 212.8h0M321.4 216h0M321.5 226h0M321.5 207.3h0M321.2 225.2h0M321.7 224.6h0M321.7 230.5h0M321.8 225.5h0M322.3 227.9h0M322.2 216.4h0M322.3 197.5h0M322.7 223.8h0M323 231h0M322.9 226.4h0M323.4 201.5h0M323.3 222.3h0M323.4 223h0M323.7 231h0M324 225.2h0M323.9 224.4h0M324.3 222.5h0M324.2 225.1h0M324.5 230.1h0M324.8 228.3h0M324.9 231.1h0M325.5 229.9h0M325.3 229.6h0M325.2 219.5h0M326 194.8h0M326.2 216.3h0M326.6 224.8h0M326.4 219.2h0M326.9 210.6h0M327 224.6h0M327 198h0M327.5 220.3h0M327.5 218.5h0M327.6 217.5h0M328.1 224h0M328.1 213.9h0M328.1 194.8h0M328.5 227h0M328.5 227.3h0M328.7 228.2h0M328.9 217.1h0M329.1 220.1h0M329.1 204.7h0M329.5 207h0M329.3 208.3h0M329.6 216.6h0M329.8 220.2h0M329.7 225.1h0M330.1 217.6h0M330.5 230.7h0M330.6 219.1h0M330.3 227.2h0M330.9 226.7h0M331.2 227.7h0M331.2 214.8h0M331 224.3h0M331.2 230.8h0M331.6 223.8h0M331.3 213.7h0M331.8 217.8h0M331.9 230.5h0M332.7 225h0M332.6 233.6h0M332.3 208h0M335.3 208h0M336.7 208h0M333 225.8h0M332.9 232.3h0M333 225.4h0M333.4 204.2h0M333.5 231.6h0M333.6 194.8h0M336.6 194.8h0M336.7 194.8h0M333.8 208.2h0M333.8 223.3h0M334.1 201.1h0M334.7 219.4h0M334.3 216.4h0M334.5 228.1h0M334.9 231.8h0M334.9 227.4h0M334.8 227.4h0M335.3 203.1h0M335.7 216.8h0M335.7 212.7h0M335.9 227.9h0M335.8 212.9h0M336 210.9h0M336.5 183.8h0M336.6 226.6h0M336.6 221.7h0M336.9 220.9h0M336.8 209.5h0M337.1 228.9h0M337.1 207h0M336.7 212.9h0M336.7 212.9h0M336.7 208h0M336.7 208h0M337.1 224.8h0M337.1 200.1h0M336.7 212.9h0M336.7 212.9h0M382.5 228.9h0M382.5 231.8h0M382.5 231.6h0M382.5 231.2h0M382.5 205.5h0M382.5 217.9h0M382.5 232.7h0M382.8 227.6h0M382.5 203.7h0M382.9 231h0M383 229.2h0M383 224.8h0M383.5 232.3h0M383.5 219.9h0M383.8 204.9h0M384.3 205.3h0M383.9 230.9h0M384 196.7h0M384.4 217.1h0M384.8 233.5h0M384.8 229.4h0M385.3 229h0M385.1 208h0M385 231.7h0M385.9 233.4h0M385.6 205.7h0M386 223.6h0M385.9 189.2h0M386.5 223h0M386.6 208.6h0M386.4 225.1h0M386.9 218.7h0M387.3 223.8h0M387 219.9h0M387.3 212.4h0M387.7 227.4h0M387.7 220.6h0M387.5 233.7h0M388 231.2h0M388.1 207.8h0M388.3 228.9h0M388.5 222.3h0M388.5 209.1h0M388.5 217.2h0M389.3 208h0M389.1 225.7h0M389.7 223h0M389.4 227h0M389.7 230.4h0M390 228.8h0M390.2 188.2h0M390.1 233.2h0M390.2 207h0M390.6 225.5h0M390.8 218.9h0M390.4 224h0M390.9 204.6h0M391.2 173.4h0M391 233.9h0M391.2 191.1h0M391.9 231.9h0M391.9 199.4h0M391.5 212.4h0M391.7 172.5h0M392.1 201.1h0M392.1 216.1h0M392.3 231.4h0M392.5 219h0M392.9 217.4h0M392.7 225.5h0M393.2 229.2h0M393.2 218.6h0M393.1 213.1h0M393.5 213.9h0M393.5 221.9h0M393.5 202.7h0M394 229.5h0M394 228.4h0M394.6 221.5h0M394.8 226.2h0M394.9 223.7h0M394.9 193.4h0M395.2 230.3h0M395.3 212.9h0M394.9 228h0M395.7 232.7h0M395.9 214.4h0M395.7 203.6h0M396.2 230.9h0M396.2 230.3h0M396.1 220.1h0M396 205.4h0M396.8 218.3h0M396.9 214.1h0M396.7 218.5h0M397.1 223.1h0M397.1 233.1h0M397.4 227.6h0M397.6 221.7h0M397.7 232.1h0M398 203.6h0M398.4 194.8h0M398.4 226.4h0M398.7 229.1h0M398.8 226.5h0M398.9 230.5h0M399.1 188h0M399.4 189.5h0M399.3 225.1h0M399.9 224.2h0M399.6 212.2h0M399.6 230.4h0M400.2 231.2h0M400.3 218.9h0M400 230.4h0M400.7 227.8h0M400.8 224.6h0M400.7 228.9h0M401.4 199.1h0M401 226.6h0M401.4 214.8h0M401.7 219.7h0M401.7 214h0M401.8 219.6h0M401.9 212.3h0M402.4 220.4h0M402.1 229.2h0M402.4 227.9h0M402.6 225.9h0M402.8 218.2h0M402.7 207.4h0M403 230h0M403.1 185.6h0M403.1 202.1h0M406.1 202.1h0M403.6 228.8h0M403.7 211.6h0M403.7 213.5h0M403.7 225h0M404.3 227.4h0M404.3 208h0M404.1 194.8h0M404.8 214.5h0M404.6 196.7h0M404.7 229.3h0M405 224.8h0M405 217.8h0M405.4 218.3h0M405.8 194h0M405.9 224.6h0M405.7 217.9h0M406.4 228.2h0M406.2 226.7h0M406.6 225.8h0M406.7 221.4h0M406.6 224.6h0M407.3 208h0M407.4 230.4h0M407.1 227.7h0M407.1 227.2h0M407.9 227h0M407.8 208h0M408 220.6h0M408.4 204.3h0M408.5 230.5h0M408.2 229.1h0M408.5 186.8h0M408.7 213.1h0M408.8 221.9h0M408.7 182.4h0M409.1 204.5h0M409.3 232.9h0M409.2 208.8h0M409.5 231.7h0M409.8 225.8h0M409.7 208.1h0M410.5 228.6h0M410.1 229.1h0M410.7 229.8h0M410.6 228.2h0M410.9 230.4h0M411 202.1h0M414 202.1h0M417 202.1h0M411.1 224.3h0M411.5 226.6h0M411.7 216.8h0M411.5 202.5h0M411.5 230.4h0M411.9 218.7h0M412.1 213.7h0M412.4 229.5h0M412.2 188.9h0M412.7 223.5h0M412.7 230.4h0M412.5 185.7h0M413.3 210.4h0M413.2 186.6h0M413.2 223.8h0M413.9 192.6h0M413.5 203.7h0M413.9 189.6h0M414.5 201.5h0M414.2 230h0M414.5 231h0M414.7 231.2h0M414.7 220.6h0M415.5 232.7h0M415.2 223.1h0M415.1 213h0M415.7 222.1h0M416 220.7h0M416.1 223.9h0M416.3 230.4h0M416.1 226.2h0M416.8 221.2h0M417 225.9h0M417 173.4h0M417.3 231.3h0M417.2 223.7h0M417.8 201.2h0M417.5 224.4h0M417.5 234.4h0M418.2 216.3h0M418.3 232.7h0M419 233.1h0M419 223.2h0M418.9 233.6h0M419.2 231.3h0M419.4 194.8h0M422.4 194.8h0M422.5 194.8h0M419.9 233.4h0M419.6 228.2h0M419.9 231.1h0M420.5 234.4h0M420.2 222h0M420.3 200.5h0M421 233.8h0M420.9 210.4h0M420.8 232.4h0M421.1 221.6h0M421.3 226h0M421.7 231.7h0M422 231.2h0M421.6 232.5h0M422.2 234.3h0M422.4 224.1h0M422.5 212.9h0M422.9 226h0M422.8 227.3h0M422.5 194.8h0M422.6 185h0M422.9 223.5h0M422.9 230.9h0M422.9 218.6h0M422.9 230.1h0M422.9 211.1h0M464.5 228.8h0M464.5 199.9h0M464.5 215h0M464.5 225h0M464.5 223.2h0M464.5 225.5h0M464.7 227.7h0M464.7 230.2h0M464.8 222.1h0M465.4 231.4h0M465.2 216.2h0M465.2 199.3h0M465.6 221.7h0M465.8 227h0M465.8 217.2h0M466.2 232.5h0M466.3 231.8h0M465.9 202.1h0M468.9 202.1h0M466.3 231.4h0M466.8 215h0M466.4 221.1h0M466.8 219.4h0M466.9 207.3h0M467 202.1h0M466.9 220.2h0M467.8 223.5h0M467.8 231.3h0M467.7 217.3h0M468.2 222.3h0M468.3 228.7h0M468.2 232.5h0M468.9 229.9h0M468.9 194.5h0M468.6 215.8h0M469.2 208h0M472.2 208h0M469 207.3h0M469.1 231.4h0M469.9 219h0M469.5 202.1h0M472.5 202.1h0M475.5 202.1h0M469.6 210.2h0M470.4 225.7h0M470 230.3h0M470.2 219.7h0M470.5 217h0M470.5 228.6h0M470.6 227.5h0M471.1 218.8h0M471.3 223.4h0M471.2 210.4h0M471.5 198.8h0M471.5 227h0M472.4 220.4h0M472.4 226.6h0M472.2 205.6h0M472.4 218.6h0M472.7 228.1h0M472.7 212.9h0M475.7 212.9h0M473.1 232.2h0M473.3 194.8h0M476.3 194.8h0M473.2 231.1h0M473.9 223.3h0M473.7 231.1h0M473.9 211.3h0M474.5 218h0M474.1 229.3h0M474.3 223.8h0M474.5 230h0M474.5 202.1h0M474.6 181h0M474.6 228.9h0M475.3 216.8h0M475.5 230h0M475.1 223h0M475.9 232.7h0M476 231.2h0M475.6 208.9h0M476.4 228.7h0M476.1 220.7h0M476.1 228.2h0M476.8 222.1h0M476.5 215.5h0M477.2 212.9h0M480.2 212.9h0M477.1 219.7h0M477.5 222.5h0M477.6 204.7h0M477.6 222.1h0M478.1 228.3h0M478.3 173.4h0M478 234.4h0M479 173.5h0M478.7 229.4h0M479 232.9h0M479.4 234.3h0M479.2 206.1h0M479.6 217.2h0M479.7 223.6h0M480.4 217.7h0M480.4 233.3h0M480.4 226.7h0M480.8 231.5h0M480.6 217.6h0M480.6 230.1h0M481.5 222.5h0M481.1 221.1h0M481.3 212.4h0M482 227h0M481.6 209.6h0M482 212.9h0M485 212.9h0M482 228.3h0M482.1 228.5h0M482.2 212.6h0M482.3 206.9h0M482.1 220h0M482.8 206.3h0M482.6 224.5h0M482.8 226.3h0M483.3 211.2h0M483.5 218h0M483.1 229.5h0M483.9 231.5h0M484 223.5h0M484.4 202.1h0M487.4 202.1h0M490.4 202.1h0M484.4 227.2h0M484.2 225.1h0M484.5 194.8h0M485 223.9h0M485 192.6h0M485 219.8h0M485.1 222.8h0M485.3 223.6h0M485.1 206.3h0M485.3 204.6h0M486.1 223.3h0M485.9 216.5h0M485.6 228.7h0M486.6 212.5h0M486.2 231h0M486.6 223.4h0M486.9 228.6h0M486.8 221.3h0M487.2 232.1h0M487.2 202.1h0M487.3 190.3h0M488.1 206.5h0M487.9 194.8h0M490.9 194.8h0M487.7 221.5h0M488.6 229.9h0M488.2 229.4h0M488.4 207.8h0M488.9 205h0M488.7 227.5h0M488.7 222.7h0M489.3 228.1h0M489.6 224.6h0M489.3 232.1h0M489.9 205.9h0M489.8 218.6h0M489.7 229.9h0M490.6 231.2h0M490.3 226h0M490.3 212.5h0M490.7 230.3h0M491 214.5h0M490.9 196.6h0M491.1 184.6h0M491.3 224.3h0M491.2 221h0M491.2 232.2h0M491.5 221.3h0M492 230.3h0M492.1 194.8h0M492.1 231.4h0M492.4 200.7h0M492.5 231.9h0M492.5 202.1h0M492.8 231.5h0M493.1 207.3h0M492.8 227.9h0M493.6 231.8h0M493.7 229.2h0M493.2 228.8h0M494 208.3h0M493.9 226.3h0M493.9 194.8h0M496.9 194.8h0M499.2 194.8h0M494.5 196.5h0M494.3 200.7h0M494.2 187.1h0M495.1 196.4h0M495 231.7h0M494.8 202.1h0M497.8 202.1h0M495.4 215.9h0M495.3 224.8h0M495.7 218.9h0M495.3 194.8h0M498.3 194.8h0M499.2 194.8h0M496 220.2h0M496.2 231.8h0M496.1 224.8h0M496.3 231.7h0M496.6 225.6h0M496.3 233.3h0M496.7 191.2h0M496.9 227.3h0M496.7 228.5h0M497 231.2h0M497.4 232h0M497.3 199.4h0M497.7 234.1h0M498 184.3h0M497.8 187.1h0M498.6 217.9h0M498.7 211.3h0M498.3 217.9h0M498.8 222.1h0M499 232.3h0M499.2 202.1h0M499.5 211h0M499.3 231.2h0M499.3 201.3h0M499.6 220.8h0M499.2 202.1h0M499.6 219h0M499.6 218.5h0M499.6 211h0M499.2 202.1h0M499.2 202.1h0M532.9 227h0M532.9 230.9h0M532.9 233.5h0M532.9 219.3h0M532.9 230.2h0M532.9 229.2h0M532.9 231.4h0M532.9 216.2h0M533.1 194.2h0M533 201.7h0M533.6 212.3h0M533.6 227.8h0M533.5 212.2h0M534.2 228.3h0M534.3 222.4h0M534 216.5h0M534.5 207h0M534.3 230.1h0M534.5 226h0M534.9 226.8h0M535.3 230.1h0M535.2 224.7h0M535.3 226.7h0M535.6 229.7h0M535.6 225h0M536.1 203.9h0M536 226.8h0M536 217.2h0M536.8 227.9h0M536.5 223.5h0M537.1 225.9h0M537.1 207.1h0M536.9 227.8h0M537.7 224.1h0M537.4 210h0M538.2 222.2h0M538 227.9h0M538.2 228.3h0M538 208h0M541 208h0M544 208h0M538.4 221h0M538.3 227.2h0M538.8 211.1h0M539.3 219.6h0M539.2 221.9h0M539.2 202.1h0M539.3 221.3h0M539.5 226.4h0M539.7 225.4h0M540.1 192.6h0M540.2 186.1h0M539.9 219.4h0M539.9 220.1h0M540.3 209.5h0M540.6 207.8h0M540.3 227.8h0M540.7 224.9h0M541.2 227.6h0M541.1 213h0M541.3 223h0M541.6 222.3h0M541.6 214.4h0M541.6 214.8h0M542.2 225.1h0M542 227h0M541.9 188h0M542.7 208h0M542.7 213.1h0M542.5 194.8h0M542.8 218.1h0M542.9 224.3h0M542.9 221.3h0M543.2 202.1h0M543.3 215.5h0M543.4 208h0M543.5 228.9h0M543.5 230.7h0M544.2 230.7h0M543.9 219.2h0M544 224.1h0M544.6 218.8h0M544.7 209h0M544.8 230.2h0M544.9 224.9h0M545.3 229.2h0M545 222.6h0M545.5 225.3h0M545.6 221.6h0M545.3 214.3h0M545.9 224.6h0M546 181.2h0M546.6 225.7h0M546.5 219h0M546.6 176.7h0M546.9 205.1h0M547.3 217.3h0M547.2 202.1h0M550.2 202.1h0M547.2 172.4h0M547.8 222.1h0M547.5 227.6h0M547.8 217.1h0M548.2 208h0M551.2 208h0M548.3 221.9h0M547.9 227.1h0M548.4 214.3h0M548.4 224.6h0M548.7 201.7h0M549.1 222.5h0M549 211.7h0M548.9 219h0M548.9 225h0M549.5 217.3h0M549.5 219.4h0M550 226.5h0M550.3 229.4h0M550.1 207.9h0M550.8 199.6h0M550.6 220.8h0M550.4 224.1h0M551 219.5h0M551.1 227.5h0M551 225.8h0M551.2 223.8h0M551.8 226.3h0M551.7 228.5h0M551.9 212.9h0M552.2 221.2h0M552 223.4h0M552.3 219h0M552.1 185.7h0M552.9 203.3h0M552.4 222.6h0M552.5 223h0M553.1 231.1h0M553.1 202.1h0M556.1 202.1h0M553.4 218.5h0M553.4 202.1h0M556.4 202.1h0M553.4 228h0M554.2 230.9h0M554.2 220.9h0M554.2 227.7h0M554.4 225.2h0M554.8 225.4h0M555.1 216.3h0M555.1 213.2h0M555.2 225.8h0M555.7 215.5h0M555.8 212.9h0M558.8 212.9h0M555.9 227.1h0M555.9 211h0M556.1 185.3h0M556.4 226.9h0M556.7 230.4h0M556.5 228.4h0M556.5 228.7h0M557.3 220.7h0M557.2 202.5h0M557.1 183.2h0M557.7 230h0M558.1 224.4h0M558.3 205.5h0M558.2 225.1h0M558 224.8h0M558.5 223.4h0M558.4 222.8h0M558.5 215.2h0M559.3 216.2h0M559.4 222.3h0M559.5 219.5h0M559.7 221.8h0M560.3 222.5h0M560.4 213.6h0M560 194.8h0M563 194.8h0M565.9 194.8h0M560.9 228h0M560.9 226.7h0M561.2 213.5h0M561.3 227.6h0M561 226.6h0M561.7 222.9h0M561.5 206.3h0M561.8 227.6h0M561.9 228.6h0M562.1 225.9h0M562.1 219.4h0M562.5 229.4h0M562.7 212.4h0M562.4 216.9h0M563.1 226.2h0M563.2 222.1h0M563.3 212.6h0M563.6 194.8h0M563.5 227.2h0M563.8 225.4h0M563.9 223.2h0M564 227.5h0M564 188.8h0M564.8 211.3h0M564.5 229.1h0M564.9 216.6h0M564.5 200.6h0M565.1 215.6h0M565.1 213.3h0M565.1 229.9h0M565.6 222.3h0M565.6 218.1h0M565.9 194.8h0M565.9 194.8h0M565.9 194.8h0M566.1 230.9h0M565.9 225.8h0M566.2 229.6h0M565.9 194.8h0M565.9 194.8h0M566.3 224.1h0M566.3 225.9h0M566.3 229.2h0M603.9 217.1h0M603.9 234.2h0M603.9 185.3h0M603.9 221.8h0M603.9 194.8h0M606.9 194.8h0M603.9 234.3h0M603.9 210.3h0M604.1 227.1h0M604.1 230.4h0M604.3 219.2h0M604.8 232.5h0M604.6 194.8h0M607.6 194.8h0M605.1 212.5h0M605.1 208h0M608.1 208h0M611.1 208h0M604.9 221.5h0M605.4 232.7h0M605.4 227.3h0M605.7 220.5h0M606.1 224.3h0M606.1 229.9h0M606.2 231.8h0M606.6 225.9h0M606.6 226.3h0M606.5 233.1h0M607.2 233h0M607.3 195.6h0M607.6 213.7h0M607.4 218.5h0M607.7 233.5h0M607.8 225.1h0M608.1 208h0M608.1 220.4h0M608.5 202.3h0M608.8 219.6h0M608.6 201.9h0M608.4 230.2h0M608.8 223.4h0M609.2 225.9h0M609.2 207.4h0M609.8 235h0M609.3 228.8h0M609.7 209.7h0M609.9 224.9h0M610.1 226.3h0M610.2 230.4h0M610.5 236.2h0M610.5 218.8h0M610.8 217.9h0M610.9 226.3h0M611.2 227.4h0M611.2 192h0M611.5 226.9h0M611.5 231.5h0M611.7 236.7h0M612.2 219.8h0M612.1 228.5h0M611.8 235.6h0M612.5 219.8h0M612.7 208h0M615.7 208h0M612.6 231.9h0M613 215.8h0M612.9 233.1h0M613.3 231.3h0M613.4 232.5h0M613.8 232.4h0M614.2 235.5h0M614 228.4h0M614 235.9h0M614.6 223.3h0M614.4 235h0M614.5 236.9h0M615.2 215.6h0M614.9 225.9h0M615.2 237.3h0M615 227.1h0M615.4 234.2h0M615.6 232.5h0M615.4 229.8h0M616.3 219h0M616.1 235.1h0M616.2 229h0M616.6 219.4h0M616.8 232.4h0M616.6 231.7h0M617 195.2h0M617.1 227.3h0M617.1 227.5h0M617.1 213.5h0M617.4 233.3h0M617.7 232.2h0M617.6 220h0M617.5 232.1h0M618.1 179.4h0M618 233.3h0M618.3 190.7h0M617.9 212.1h0M618.6 233.5h0M618.8 229.5h0M618.6 232.6h0M619.3 185.2h0M619.2 233h0M619 211.4h0M619.7 233.3h0M619.5 215.1h0M619.7 229.3h0M620.3 233.5h0M620.3 233.2h0M620.4 225.7h0M620.5 230.3h0M621.1 233.3h0M621 230h0M621 209.3h0M621.5 233.1h0M621.5 230.9h0M621.6 196.9h0M622.1 225.2h0M621.9 215.3h0M622.4 231.1h0M622.7 214.2h0M622.5 230h0M622.6 228.5h0M623 218.3h0M622.9 230.9h0M623.3 223.7h0M623.3 223.8h0M623.4 233.2h0M623.5 208h0M623.8 226.4h0M624.4 230.2h0M624.3 215.4h0M624.7 207.3h0M624.5 225.3h0M624.4 232.8h0M625.3 197.7h0M625.4 181.8h0M625.8 214.3h0M625.9 233.2h0M625.9 216.7h0M625.9 229.4h0M626.9 230.5h0M626.9 208.5h0M627.3 233.7h0M627 231.1h0M627.3 234h0M627.5 230.3h0M627.8 223.6h0M627.6 232.1h0M628.1 229h0M628.1 221.2h0M628.4 194.8h0M631.4 194.8h0M628.8 221.1h0M628.8 216.9h0M628.8 200.9h0M629.1 230.2h0M629.3 231.5h0M629.1 236.2h0M629.7 222.7h0M629.8 209.6h0M629.9 207.9h0M630.2 225.3h0M630.4 235.4h0M629.9 227h0M630.7 234.5h0M630.9 228h0M630.4 238.5h0M631.1 232.8h0M631.4 214.2h0M631.2 211.7h0M631.4 231.6h0M631.6 230.4h0M631.7 238.6h0M632.4 210.8h0M632.4 227.4h0M632.1 182.3h0M632.9 234.7h0M632.6 209.9h0M632.9 232h0M633 233.8h0M633.2 234.7h0M633.6 210.2h0M633.9 228.7h0M633.7 226h0M634 229h0M634.3 206.9h0M634.3 234.8h0M634.3 231.1h0M634.3 227.3h0M634.3 212h0M633.9 194.8h0M633.9 194.8h0M633.9 194.8h0M634.3 235.6h0"/>
<path stroke="#fff" stroke-width="1.5" stroke-linecap="round" fill="none" d="M106 246.4h0M76.4 239.3h0M81.9 245.1h0M76.9 242.6h0M99.9 237.3h0M65.8 250.2h0M71.8 244.4h0M70.3 245.5h0M67.3 246.3h0M112.5 236.1h0M100.4 241.5h0M96.9 258.1h0M83.4 237.5h0M154 237.2h0M127 238.9h0M142 250.3h0M154 249.5h0M141.5 243.5h0M144 231.6h0M159 238.3h0M150.5 246.2h0M160 242h0M153.5 260.1h0M137 233.5h0M189.6 250.1h0M200.2 237.6h0M206.2 237.1h0M187.6 238.2h0M199.2 237.6h0M188.6 240.7h0M194.6 248.8h0M186.1 244.8h0M167.5 252.6h0M167 235.5h0M182.6 244.6h0M233.4 237.1h0M228.8 246.4h0M238.4 244.3h0M212.2 246.3h0M210.2 255h0M209.7 243.4h0M215.3 238.8h0M229.9 232.3h0M222.8 230.6h0M232.9 229.3h0M235.9 229.7h0M288.2 257.9h0M278.6 243.1h0M268.1 238.1h0M272.6 239.7h0M292.7 237.7h0M257.5 249h0M286.2 243.4h0M288.2 239.2h0M272.1 242.8h0M311.3 236.4h0M326.4 244.9h0M297.2 236.2h0M329.4 235.3h0M335.5 234.1h0M319.4 237.7h0M302.3 253.5h0M317.9 234.2h0M313.3 231.1h0M314.8 234.4h0M323.9 242.7h0M356.5 240.2h0M340 239.7h0M381.1 240.4h0M352.5 250.8h0M352 240.4h0M370.6 245.2h0M364.6 241.2h0M371.1 235.1h0M351 248h0M351.5 241.8h0M416.8 237h0M414.3 240.6h0M390.1 237.4h0M394.7 248.9h0M392.7 237.6h0M420.3 241.6h0M395.2 234.5h0M408.2 233.9h0M419.3 235.5h0M403.2 233.2h0M425.3 255.4h0M449.5 264.1h0M451.5 262.4h0M463.6 237.4h0M434.4 236.3h0M431.4 252.6h0M446 237.1h0M450.5 239.7h0M445 245.9h0M464.1 236.5h0M481.8 248.4h0M494.9 238.9h0M495.4 255.9h0M467.6 238.2h0M481.8 243.1h0M490.4 245.1h0M531.5 243.4h0M526 254.7h0M519.5 242h0M509 252.8h0M504.5 243.5h0M509 246.2h0M523 251.3h0M555.6 235h0M566.2 239.9h0M557.6 246.7h0M561.2 241.1h0M551.6 243h0M537 233.5h0M545.6 233h0M533 246.9h0M572.7 248.1h0M577.8 237.9h0M589.4 237h0M587.4 241.7h0M572.7 246.6h0M567.2 247.6h0M571.2 235.7h0M613.6 249.8h0M622.6 238.5h0M616.1 241.8h0M612.6 238.9h0M617.6 248.1h0M618.1 238.3h0M617.6 242.9h0M614.1 241.8h0M637.2 246h0M646.8 263.5h0M652.9 251h0M655.9 248h0M655.4 240.1h0M663 246h0"/>
<path stroke="#2ca02c" stroke-width="2.9" stroke-linecap="round" d="M285.4 158.4h0"/>
<path stroke="#2a2a2a" stroke-width="1" fill="none" d="M45.4 158.5V267.4M40.1 267.4H45.4M40.1 245.6H45.4M40.1 223.8H45.4M40.1 202.1H45.4M40.1 180.3H45.4M40.1 158.5H45.4"/>
<text x="25.75" y="270.90" font-size="10" textLength="13.90" lengthAdjust="spacingAndGlyphs" >0.0</text>
<text x="25.90" y="249.12" font-size="10" textLength="13.90" lengthAdjust="spacingAndGlyphs" >0.2</text>
<text x="25.70" y="227.34" font-size="10" textLength="13.90" lengthAdjust="spacingAndGlyphs" >0.4</text>
<text x="25.80" y="205.56" font-size="10" textLength="13.90" lengthAdjust="spacingAndGlyphs" >0.6</text>
<text x="25.80" y="183.78" font-size="10" textLength="13.90" lengthAdjust="spacingAndGlyphs" >0.8</text>
<text x="25.75" y="162.00" font-size="10" textLength="13.90" lengthAdjust="spacingAndGlyphs" >1.0</text>
<g transform="translate(13.2,254) rotate(-90)">
<text x="0" y="0" font-size="10.5" textLength="76.9" lengthAdjust="spacingAndGlyphs"><tspan font-style="italic">Fst</tspan> (CSA vs CSS)</text>
</g>
<path stroke="#000" stroke-width="1.5" stroke-dasharray="4.5 4.25" d="M45.2 239.9H685"/>
<text x="66.40" y="256.00" font-size="10.2" textLength="118.43" lengthAdjust="spacingAndGlyphs" >Top 5% Threshold: 0.2517</text>
<path stroke="#2a2a2a" stroke-width="1" d="M90.9 268.8V272.2M135.8 268.8V272.2M185.3 268.8V272.2M232.2 268.8V272.2M274.1 268.8V272.2M312.8 268.8V272.2M360.4 268.8V272.2M405.4 268.8V272.2M443.5 268.8V272.2M482.6 268.8V272.2M518 268.8V272.2M552.8 268.8V272.2M588 268.8V272.2M621 268.8V272.2M649.6 268.8V272.2"/>
<text x="88.03" y="281.90" font-size="9.8" textLength="5.45" lengthAdjust="spacingAndGlyphs" >1</text>
<text x="133.08" y="281.90" font-size="9.8" textLength="5.45" lengthAdjust="spacingAndGlyphs" >2</text>
<text x="182.58" y="281.90" font-size="9.8" textLength="5.45" lengthAdjust="spacingAndGlyphs" >3</text>
<text x="229.53" y="281.90" font-size="9.8" textLength="5.45" lengthAdjust="spacingAndGlyphs" >4</text>
<text x="271.38" y="281.90" font-size="9.8" textLength="5.45" lengthAdjust="spacingAndGlyphs" >5</text>
<text x="310.03" y="281.90" font-size="9.8" textLength="5.45" lengthAdjust="spacingAndGlyphs" >6</text>
<text x="357.68" y="281.90" font-size="9.8" textLength="5.45" lengthAdjust="spacingAndGlyphs" >7</text>
<text x="402.66" y="281.90" font-size="9.8" textLength="5.45" lengthAdjust="spacingAndGlyphs" >8</text>
<text x="440.78" y="281.90" font-size="9.8" textLength="5.45" lengthAdjust="spacingAndGlyphs" >9</text>
<text x="476.97" y="281.90" font-size="9.8" textLength="10.90" lengthAdjust="spacingAndGlyphs" >10</text>
<text x="512.78" y="281.90" font-size="9.8" textLength="10.17" lengthAdjust="spacingAndGlyphs" >11</text>
<text x="547.24" y="281.90" font-size="9.8" textLength="10.90" lengthAdjust="spacingAndGlyphs" >12</text>
<text x="582.39" y="281.90" font-size="9.8" textLength="10.90" lengthAdjust="spacingAndGlyphs" >13</text>
<text x="615.34" y="281.90" font-size="9.8" textLength="10.90" lengthAdjust="spacingAndGlyphs" >14</text>
<text x="643.99" y="281.90" font-size="9.8" textLength="10.90" lengthAdjust="spacingAndGlyphs" >15</text>
<text x="343.59" y="296.00" font-size="10" textLength="61.70" lengthAdjust="spacingAndGlyphs" >Chromosome</text>
<text x="597.44" y="7.80" font-size="10.2" textLength="39.01" lengthAdjust="spacingAndGlyphs" font-style="italic" >CsANS3</text>
<text x="574.48" y="22.40" font-size="10.3" textLength="91.75" lengthAdjust="spacingAndGlyphs" >(zc102_237396.t01)</text>
<path stroke="#333" stroke-width="0.9" stroke-dasharray="3 2" fill="none" d="M615.5 30V269M621.2 30V269"/>
<path stroke="#888" stroke-width="0.7" fill="none" d="M616.6 28.6H620"/>
<path stroke="#444" stroke-width="0.8" stroke-dasharray="2.4 1.8" fill="none" d="M633.5 27.4L622 49.8"/>
<text x="522.68" y="163.90" font-size="10.2" textLength="86.08" lengthAdjust="spacingAndGlyphs" >Chr14: 63,771,979</text>
<path stroke="#333" stroke-width="0.9" stroke-dasharray="2.4 1.6" fill="none" d="M601 167.5L615.6 190.9"/>
<text x="-0.5" y="323.5" font-size="16.2" text-anchor="start" >b</text>
<path stroke="#2a2a2a" stroke-width="1" fill="none" d="M51 311.2V481.5H206.3M48 481.5H51M48 424.8H51M48 368H51M48 311.2H51M49.2 453.1H51M49.2 396.4H51M49.2 339.6H51M76.8 481.5V484M128.6 481.5V484M180.2 481.5V484"/>
<text x="40.96" y="484.80" font-size="9.3" textLength="5.17" lengthAdjust="spacingAndGlyphs" >0</text>
<text x="41.01" y="428.05" font-size="9.3" textLength="5.17" lengthAdjust="spacingAndGlyphs" >5</text>
<text x="35.80" y="371.30" font-size="9.3" textLength="10.34" lengthAdjust="spacingAndGlyphs" >10</text>
<text x="35.85" y="314.55" font-size="9.3" textLength="10.34" lengthAdjust="spacingAndGlyphs" >15</text>
<g transform="translate(28.4,415.2) rotate(-90)">
<text x="0" y="0" font-size="10" textLength="58" lengthAdjust="spacingAndGlyphs">log<tspan font-size="6" dy="2">2</tspan><tspan dy="-2">(TPM+1)</tspan></text>
</g>
<text x="68.08" y="496.00" font-size="10.6" textLength="13.86" lengthAdjust="spacingAndGlyphs" >CT</text>
<text x="117.17" y="496.00" font-size="10.6" textLength="21.64" lengthAdjust="spacingAndGlyphs" >CSA</text>
<text x="171.06" y="496.00" font-size="10.6" textLength="22.03" lengthAdjust="spacingAndGlyphs" >CSS</text>
<path stroke="#4a3f3f" stroke-width="1" fill="none" d="M75.7 318.7V312.3H180.2V362.6M77.4 339V332.9H129.5V363M128.3 389.5V381.2H180.7V389.5"/>
<text x="105.99" y="307.90" font-size="10" textLength="59.79" lengthAdjust="spacingAndGlyphs"><tspan font-style="italic">P</tspan> = 2.14 x 10</text>
<text x="165.69" y="304.90" font-size="7.0" textLength="9.81" lengthAdjust="spacingAndGlyphs" >-24</text>
<text x="77.69" y="327.60" font-size="10" textLength="59.90" lengthAdjust="spacingAndGlyphs"><tspan font-style="italic">P</tspan> = 1.03 x 10</text>
<text x="137.52" y="324.60" font-size="7.0" textLength="9.07" lengthAdjust="spacingAndGlyphs" >-21</text>
<text x="134.96" y="376.70" font-size="10" textLength="45.08" lengthAdjust="spacingAndGlyphs"><tspan font-style="italic">P</tspan> = 0.002</text>
<path stroke="#555" stroke-width="1.2" fill="none" d="M77.1 345.7V353.4M77.1 356.4V370.1M72.1 345.7H82.1M72.1 370.1H82.1"/>
<rect x="67.1" y="353.4" width="20" height="3" fill="#8fd0e6" stroke="#111" stroke-width="1"/>
<path stroke="#555" stroke-width="1.2" fill="none" d="M128.6 411.8V416.3M128.6 427.4V429.4M123.6 411.8H133.6M123.6 429.4H133.6"/>
<rect x="118.6" y="416.3" width="20" height="11.1" fill="#8fc9a0" stroke="#111" stroke-width="1"/>
<path stroke="#555" stroke-width="1.2" fill="none" d="M180.4 421.2V426M180.4 432.7V437.2M175.4 421.2H185.4M175.4 437.2H185.4"/>
<rect x="170.4" y="426" width="20" height="6.7" fill="#e6c48c" stroke="#111" stroke-width="1"/>
<path stroke="#000" stroke-width="3" stroke-linecap="round" fill="none" d="M68.1 353h0M71.1 352h0M74.1 353.5h0M77.1 355h0M80.1 353h0M83.1 352.5h0M86.1 354h0M69.1 355.5h0M76.1 357.5h0M79.1 356.5h0M85.1 355.8h0M73.1 355h0M82.1 356h0M77.1 343.5h0M83.1 347.5h0M84.1 351h0M76.6 384h0M76.6 386.5h0M76.6 388h0"/>
<path stroke="#000" stroke-width="3" stroke-linecap="round" fill="none" d="M128.6 400.9h0M128.6 402.3h0M128.6 403.7h0M128.6 405.1h0M128.6 406.4h0M128.6 409.9h0M130.8 413.4h0M128.6 416.9h0M134.6 416h0M122.6 421h0M125.5 423.6h0M132.5 423.6h0M123.8 424.8h0M119.7 427.7h0M137.5 427.7h0M128.4 429.5h0M128.4 430.6h0M134.9 425h0M130.2 426.8h0M126.7 427.7h0"/>
<rect x="127.9" y="419.5" width="1.5" height="1.5" fill="none" stroke="#000" stroke-width="0.5"/>
<path stroke="#000" stroke-width="3" stroke-linecap="round" fill="none" d="M180.3 408.2h0M180.3 416.7h0M177.3 422.4h0M182.7 422.4h0M184.5 426h0M171.6 429.2h0M180.5 429.2h0M189.1 429.2h0M174.9 432.4h0M178.4 431.3h0M186.2 433.1h0M181.3 431.5h0M180.5 436.3h0M180.3 439.1h0M180.3 441.3h0M173.3 431.5h0M187.8 431.8h0"/>
<text x="227" y="322.8" font-size="16.5" text-anchor="start" >c</text>
<path stroke="#a0a3a3" stroke-width="2.4" d="M494 349.7H625"/>
<rect x="285.6" y="345.6" width="22.8" height="7.6" fill="#4fb4c9" stroke="#2a2a2a" stroke-width="0.9"/>
<rect x="331.8" y="345.6" width="163.1" height="7.6" fill="#4fb4c9" stroke="#2a2a2a" stroke-width="0.9"/>
<rect x="308.8" y="347.2" width="22.6" height="5.1" fill="#ab93d8"/>
<rect x="517.8" y="347.2" width="23" height="5.0" fill="#8a8a8a" stroke="#2a2a2a" stroke-width="0.9"/>
<rect x="602.2" y="347.2" width="23" height="5.0" fill="#8a8a8a" stroke="#2a2a2a" stroke-width="0.9"/>
<path stroke="#a0a3a3" stroke-width="2.4" d="M494 407.8H625"/>
<rect x="285.1" y="403.4" width="208.3" height="8.1" fill="#4fb4c9" stroke="#2a2a2a" stroke-width="0.9"/>
<rect x="517.8" y="405.3" width="23" height="5.0" fill="#8a8a8a" stroke="#2a2a2a" stroke-width="0.9"/>
<rect x="602.2" y="405.3" width="23" height="5.0" fill="#8a8a8a" stroke="#2a2a2a" stroke-width="0.9"/>
<path stroke="#a0a3a3" stroke-width="2.4" d="M494 443.6H625"/>
<rect x="285.1" y="439.1" width="60.2" height="8.2" fill="#4fb4c9" stroke="#2a2a2a" stroke-width="0.9"/>
<rect x="385.1" y="439.1" width="108.9" height="8.2" fill="#4fb4c9" stroke="#2a2a2a" stroke-width="0.9"/>
<rect x="345.7" y="440.8" width="38.9" height="5.7" fill="#ab93d8"/>
<rect x="517.8" y="441.1" width="23" height="5.0" fill="#8a8a8a" stroke="#2a2a2a" stroke-width="0.9"/>
<rect x="602.2" y="441.1" width="23" height="5.0" fill="#8a8a8a" stroke="#2a2a2a" stroke-width="0.9"/>
<text x="250.61" y="354.20" font-size="10" textLength="26.48" lengthAdjust="spacingAndGlyphs" >Hap 1</text>
<text x="249.86" y="412.00" font-size="10" textLength="28.11" lengthAdjust="spacingAndGlyphs" >Hap 2</text>
<text x="249.86" y="448.20" font-size="10" textLength="28.00" lengthAdjust="spacingAndGlyphs" >Hap 3</text>
<text x="297.86" y="339.90" font-size="10.2" textLength="51.99" lengthAdjust="spacingAndGlyphs" >INS 192 bp</text>
<text x="387.60" y="338.9" font-size="10" textLength="70.67" lengthAdjust="spacingAndGlyphs"><tspan font-style="italic">ANS3</tspan> promoter</text>
<text x="512.20" y="344.30" font-size="9.8" textLength="18.98" lengthAdjust="spacingAndGlyphs" >ATG</text>
<text x="620.93" y="345.90" font-size="9.8" textLength="17.98" lengthAdjust="spacingAndGlyphs" >TGA</text>
<text x="339.55" y="434.20" font-size="10.2" textLength="53.01" lengthAdjust="spacingAndGlyphs" >INS 283 bp</text>
<text x="250.31" y="382.20" font-size="9.6" textLength="149.08" lengthAdjust="spacingAndGlyphs" >TGCTCACTGATGGGGCTCGCAG</text>
<text x="434.91" y="381.90" font-size="9.6" textLength="224.28" lengthAdjust="spacingAndGlyphs" >TTATAAAAAAAATTTAATATAAAGAATGAAAACATAT</text>
<text x="248.12" y="476.00" font-size="10" textLength="147.78" lengthAdjust="spacingAndGlyphs" >CTAGTGGGTGACACACACGATG</text>
<text x="434.50" y="475.80" font-size="10" textLength="226.50" lengthAdjust="spacingAndGlyphs" >AATAGTATAGATAGATAGATAGATAGATAGATAGA</text>
<text x="245.03" y="390.10" font-size="8.8" textLength="3.45" lengthAdjust="spacingAndGlyphs" >1</text>
<text x="652.39" y="390.80" font-size="9.3" textLength="15.82" lengthAdjust="spacingAndGlyphs" >192</text>
<text x="245.15" y="484.60" font-size="8.8" textLength="3.32" lengthAdjust="spacingAndGlyphs" >1</text>
<text x="656.10" y="485.50" font-size="9.3" textLength="16.53" lengthAdjust="spacingAndGlyphs" >283</text>
<path stroke="#333" stroke-width="0.8" stroke-dasharray="1.2 1.2" fill="none" d="M308.6 353.7L283.1 372.2M331.5 353.7L611.1 371.8M400.8 378.8H433.1M345.7 447.8L281.7 465.5M384.6 447.8L609.3 465.6M397.9 471.3H431"/>
<text x="-0.3" y="532.4" font-size="16.2" text-anchor="start" >d</text>
<rect x="62" y="524.9" width="22.6" height="6.6" fill="#c39a9a"/>
<text x="88.79" y="532.10" font-size="11.8" textLength="27.34" lengthAdjust="spacingAndGlyphs" >Hap1</text>
<text x="117.28" y="528.00" font-size="7.0" textLength="23.07" lengthAdjust="spacingAndGlyphs" >INS192</text>
<rect x="169.5" y="524.9" width="22.8" height="6.6" fill="#5c7daa"/>
<text x="196.23" y="532.10" font-size="11.8" textLength="28.88" lengthAdjust="spacingAndGlyphs" >Hap2</text>
<text x="226.32" y="528.00" font-size="7.0" textLength="11.66" lengthAdjust="spacingAndGlyphs" >DEL</text>
<rect x="278.4" y="524.9" width="22.8" height="6.6" fill="#638e79"/>
<text x="303.24" y="532.10" font-size="11.8" textLength="28.75" lengthAdjust="spacingAndGlyphs" >Hap3</text>
<text x="333.19" y="528.00" font-size="7.0" textLength="22.48" lengthAdjust="spacingAndGlyphs" >INS283</text>
<rect x="373.7" y="524.9" width="21.6" height="6.6" fill="#8e8a89"/>
<text x="397.32" y="532.10" font-size="11.8" textLength="17.03" lengthAdjust="spacingAndGlyphs" >NA</text>
<path fill="#c39a9a" stroke="#fff" stroke-width="1.4" stroke-linejoin="round" d="M110.4 618.4L110.40 557.20A61.2 61.2 0 1 1 91.49 560.20Z"/>
<path fill="#5c7daa" stroke="#fff" stroke-width="1.4" stroke-linejoin="round" d="M110.4 618.4L91.49 560.20A61.2 61.2 0 0 1 110.40 557.20Z"/>
<path fill="#5c7daa" stroke="#fff" stroke-width="1.4" stroke-linejoin="round" d="M363 618.1L363.00 556.80A61.3 61.3 0 1 1 302.79 606.61Z"/>
<path fill="#638e79" stroke="#fff" stroke-width="1.4" stroke-linejoin="round" d="M363 618.1L302.79 606.61A61.3 61.3 0 0 1 326.97 568.51Z"/>
<path fill="#8e8a89" stroke="#fff" stroke-width="1.4" stroke-linejoin="round" d="M363 618.1L326.97 568.51A61.3 61.3 0 0 1 363.00 556.80Z"/>
<path fill="#5c7daa" stroke="#fff" stroke-width="1.4" stroke-linejoin="round" d="M610.4 618.2L610.40 557.00A61.2 61.2 0 0 1 629.31 560.00Z"/>
<path fill="#638e79" stroke="#fff" stroke-width="1.4" stroke-linejoin="round" d="M610.4 618.2L629.31 560.00A61.2 61.2 0 1 1 556.77 588.72Z"/>
<path fill="#8e8a89" stroke="#fff" stroke-width="1.4" stroke-linejoin="round" d="M610.4 618.2L556.77 588.72A61.2 61.2 0 0 1 610.40 557.00Z"/>
<text x="96.42" y="643.10" font-size="10" textLength="21.16" lengthAdjust="spacingAndGlyphs" >95%</text>
<text x="92.38" y="572.40" font-size="10" textLength="15.19" lengthAdjust="spacingAndGlyphs" >5%</text>
<text x="338.13" y="576.80" font-size="10" textLength="20.44" lengthAdjust="spacingAndGlyphs" >10%</text>
<text x="312.15" y="601.40" font-size="10" textLength="20.12" lengthAdjust="spacingAndGlyphs" >12%</text>
<text x="358.59" y="642.50" font-size="10" textLength="20.38" lengthAdjust="spacingAndGlyphs" >78%</text>
<text x="611.19" y="574.20" font-size="10" textLength="14.88" lengthAdjust="spacingAndGlyphs" >5%</text>
<text x="576.75" y="587.60" font-size="10" textLength="20.12" lengthAdjust="spacingAndGlyphs" >17%</text>
<text x="601.59" y="644.80" font-size="10" textLength="20.59" lengthAdjust="spacingAndGlyphs" >78%</text>
<text x="90.48" y="699.40" font-size="10" textLength="46.86" lengthAdjust="spacingAndGlyphs" >CT (n=94)</text>
<text x="337.48" y="699.60" font-size="10" textLength="54.48" lengthAdjust="spacingAndGlyphs" >CSA (n=91)</text>
<text x="587.48" y="699.30" font-size="10" textLength="54.47" lengthAdjust="spacingAndGlyphs" >CSS (n=90)</text>
</svg></body></html>
